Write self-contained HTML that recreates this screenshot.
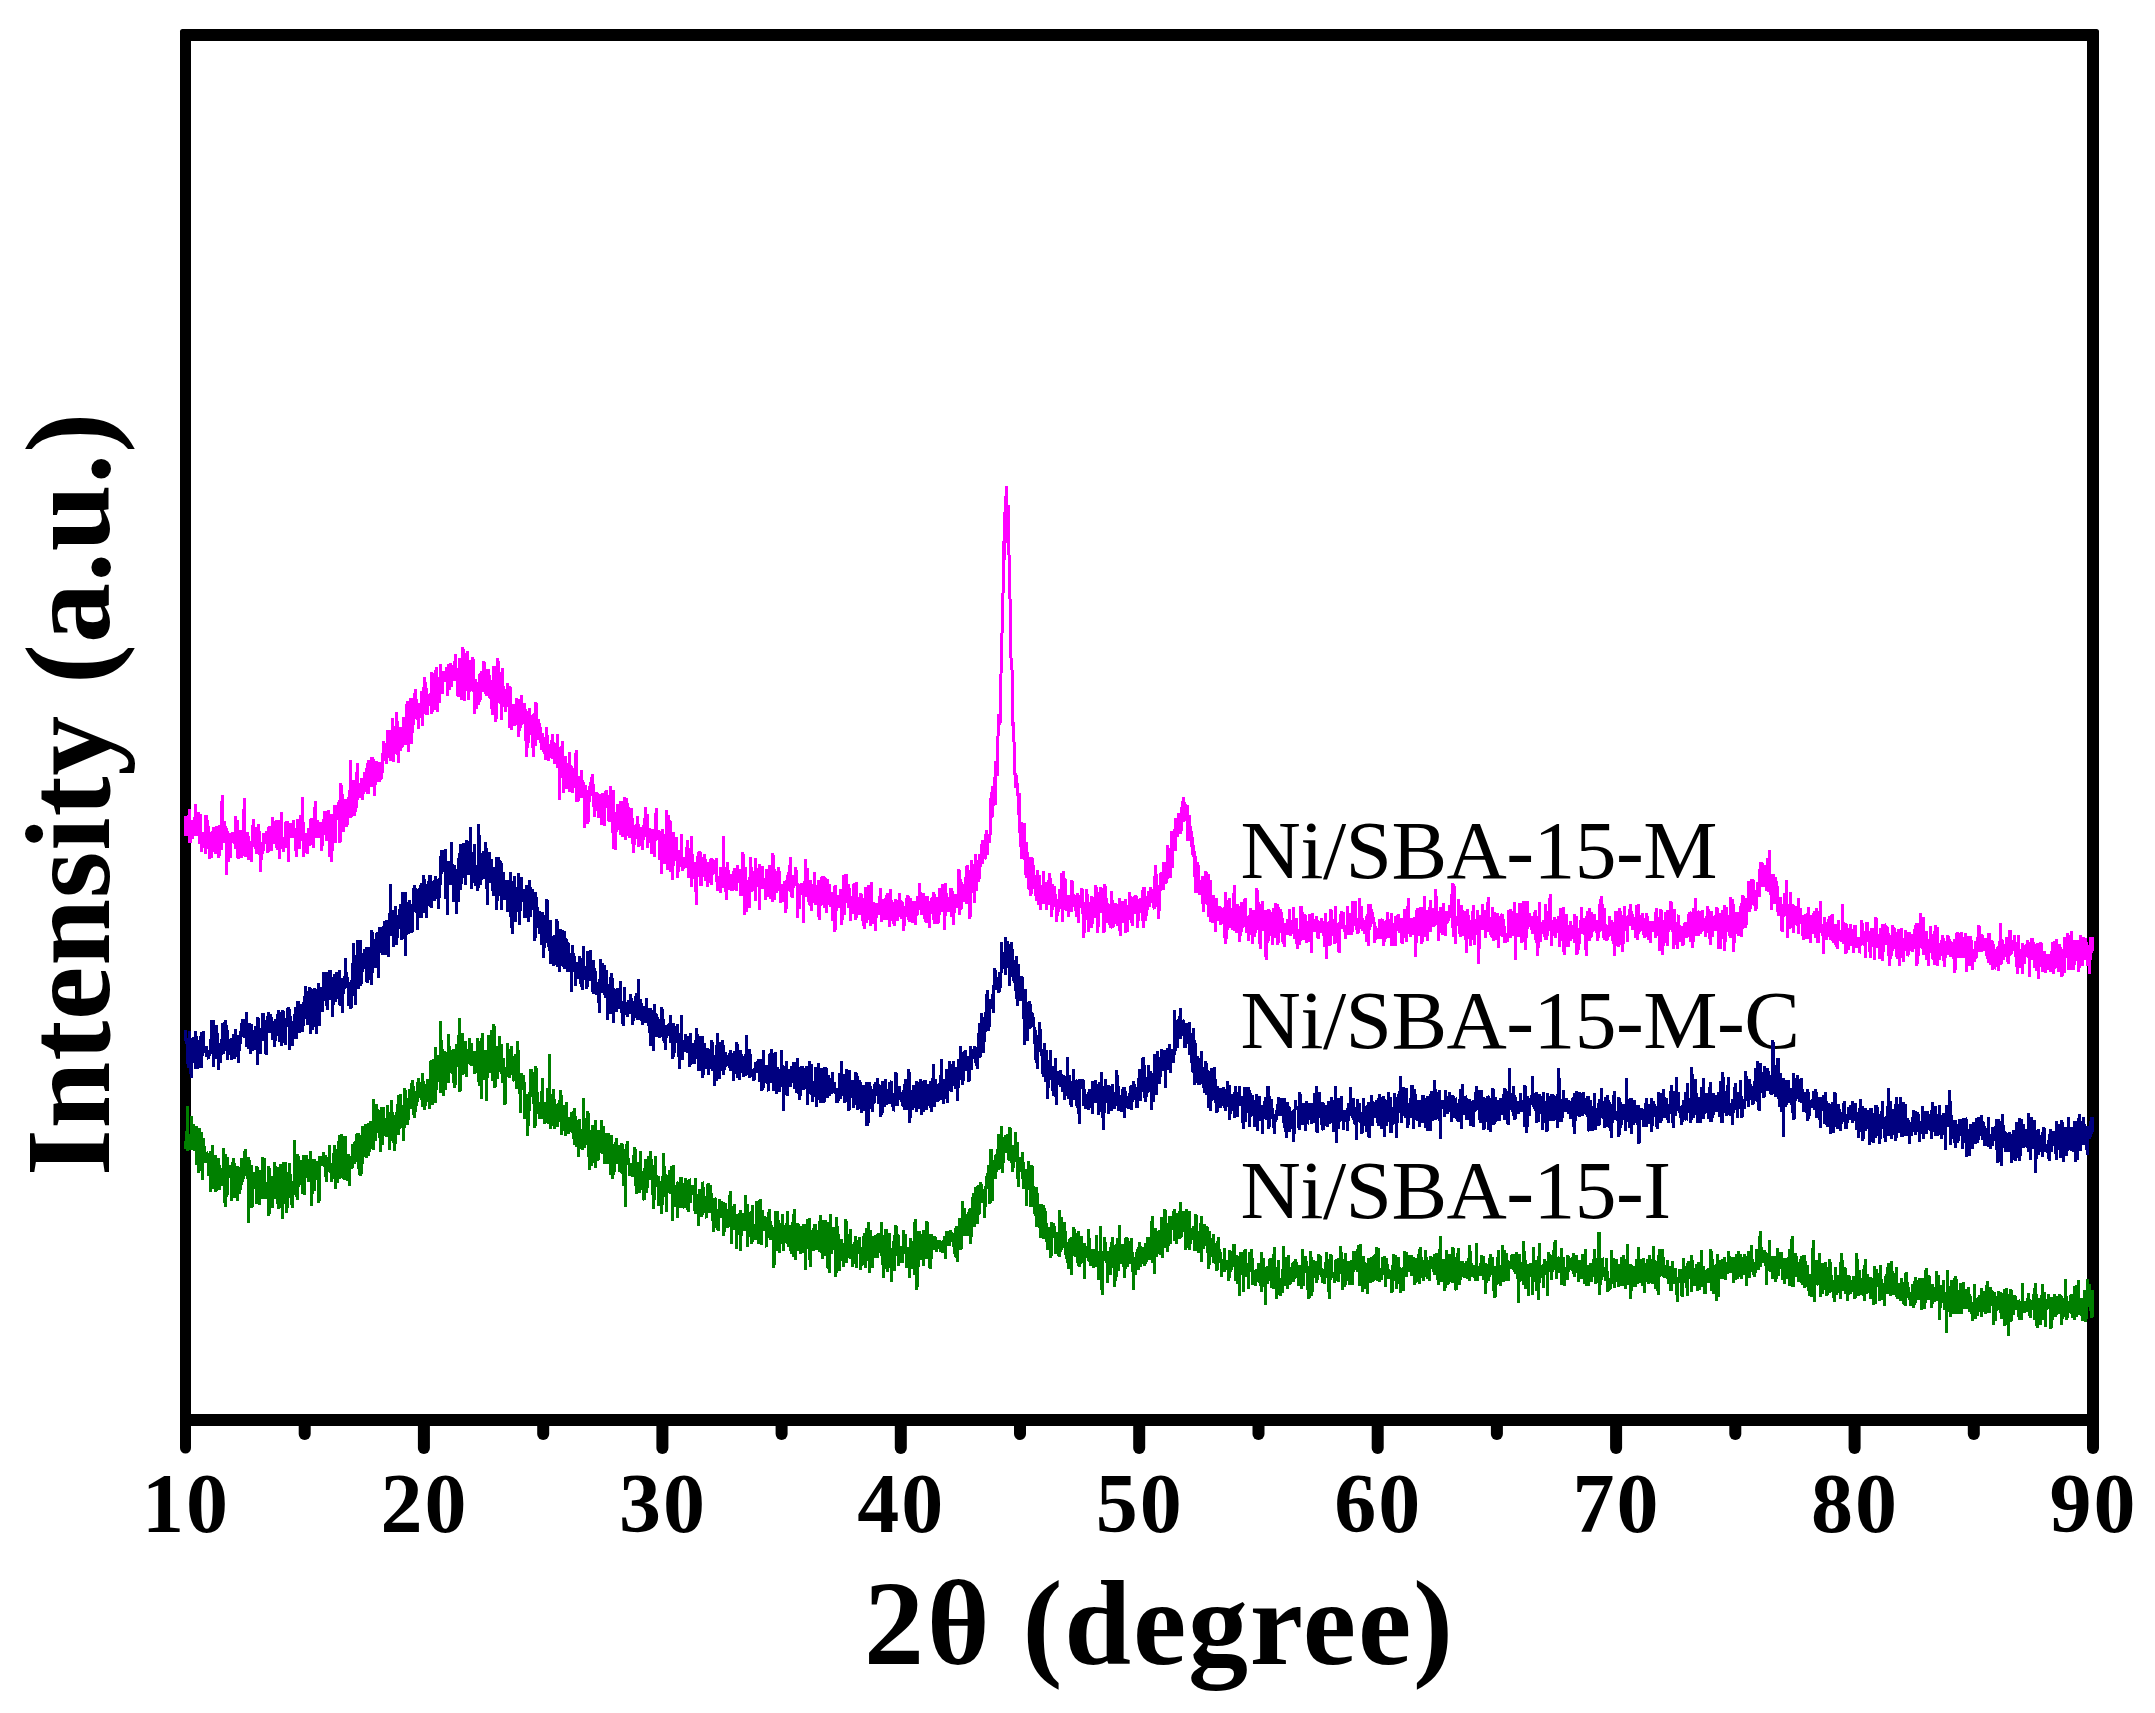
<!DOCTYPE html>
<html><head><meta charset="utf-8"><title>XRD</title>
<style>
html,body{margin:0;padding:0;background:#fff;overflow:hidden;}
svg{display:block;}
.b{font-family:"Liberation Serif",serif;font-weight:bold;fill:#000;}
.r{font-family:"Liberation Serif",serif;font-weight:normal;fill:#000;}
</style></head><body>
<svg width="2155" height="1713" viewBox="0 0 2155 1713">
<rect x="0" y="0" width="2155" height="1713" fill="#fff"/>
<rect x="180" y="29" width="1919" height="1397" rx="2.5" fill="#000"/>
<rect x="191" y="41" width="1896" height="1373" fill="#fff"/>
<g class="r" font-size="83.5" letter-spacing="-0.55">
<text x="1240.5" y="878">Ni/SBA-15-M</text>
<text x="1240.5" y="1048">Ni/SBA-15-M-C</text>
<text x="1240.5" y="1218">Ni/SBA-15-I</text>
</g>
<g stroke="#000" stroke-width="12" stroke-linecap="round">
<line x1="185.5" y1="1420" x2="185.5" y2="1448" stroke-width="11"/>
<line x1="304.7" y1="1420" x2="304.7" y2="1434"/>
<line x1="423.9" y1="1420" x2="423.9" y2="1448"/>
<line x1="543.2" y1="1420" x2="543.2" y2="1434"/>
<line x1="662.4" y1="1420" x2="662.4" y2="1448"/>
<line x1="781.6" y1="1420" x2="781.6" y2="1434"/>
<line x1="900.8" y1="1420" x2="900.8" y2="1448"/>
<line x1="1020.0" y1="1420" x2="1020.0" y2="1434"/>
<line x1="1139.2" y1="1420" x2="1139.2" y2="1448"/>
<line x1="1258.5" y1="1420" x2="1258.5" y2="1434"/>
<line x1="1377.7" y1="1420" x2="1377.7" y2="1448"/>
<line x1="1496.9" y1="1420" x2="1496.9" y2="1434"/>
<line x1="1616.1" y1="1420" x2="1616.1" y2="1448"/>
<line x1="1735.3" y1="1420" x2="1735.3" y2="1434"/>
<line x1="1854.6" y1="1420" x2="1854.6" y2="1448"/>
<line x1="1973.8" y1="1420" x2="1973.8" y2="1434"/>
<line x1="2093.0" y1="1420" x2="2093.0" y2="1448"/>
</g>
<g fill="none" stroke-width="3" stroke-linejoin="miter" stroke-miterlimit="2" shape-rendering="crispEdges">
<polyline stroke="#008000" points="185.5,1149 186.0,1141 186.5,1135 186.9,1138 187.4,1106 187.9,1151 188.4,1140 188.8,1137 189.3,1150 189.8,1142 190.3,1140 190.7,1134 191.2,1144 191.7,1116 192.2,1150 192.7,1141 193.1,1124 193.6,1142 194.1,1151 194.6,1127 195.0,1131 195.5,1144 196.0,1126 196.5,1133 196.9,1165 197.4,1159 197.9,1146 198.4,1137 198.9,1173 199.3,1128 199.8,1150 200.3,1171 200.8,1166 201.2,1169 201.7,1132 202.2,1180 202.7,1159 203.1,1138 203.6,1159 204.1,1154 204.6,1146 205.1,1163 205.5,1160 206.0,1157 206.5,1152 207.0,1153 207.4,1156 207.9,1159 208.4,1155 208.9,1176 209.3,1162 209.8,1161 210.3,1192 210.8,1151 211.3,1157 211.7,1171 212.2,1145 212.7,1189 213.2,1170 213.6,1185 214.1,1164 214.6,1161 215.1,1178 215.5,1155 216.0,1192 216.5,1160 217.0,1174 217.5,1184 217.9,1167 218.4,1162 218.9,1158 219.4,1190 219.8,1165 220.3,1173 220.8,1173 221.3,1182 221.7,1170 222.2,1177 222.7,1186 223.2,1177 223.7,1148 224.1,1177 224.6,1185 225.1,1207 225.6,1154 226.0,1181 226.5,1180 227.0,1197 227.5,1157 227.9,1174 228.4,1166 228.9,1178 229.4,1170 229.8,1175 230.3,1165 230.8,1174 231.3,1175 231.8,1201 232.2,1195 232.7,1168 233.2,1158 233.7,1179 234.1,1177 234.6,1163 235.1,1186 235.6,1170 236.0,1198 236.5,1173 237.0,1194 237.5,1201 238.0,1166 238.4,1183 238.9,1180 239.4,1171 239.9,1194 240.3,1180 240.8,1184 241.3,1158 241.8,1185 242.2,1180 242.7,1181 243.2,1176 243.7,1179 244.2,1171 244.6,1163 245.1,1149 245.6,1156 246.1,1173 246.5,1176 247.0,1159 247.5,1179 248.0,1176 248.4,1223 248.9,1157 249.4,1169 249.9,1182 250.4,1187 250.8,1185 251.3,1165 251.8,1208 252.3,1206 252.7,1172 253.2,1177 253.7,1172 254.2,1182 254.6,1188 255.1,1182 255.6,1179 256.1,1191 256.6,1204 257.0,1166 257.5,1190 258.0,1179 258.5,1204 258.9,1180 259.4,1205 259.9,1186 260.4,1170 260.8,1199 261.3,1181 261.8,1183 262.3,1192 262.8,1157 263.2,1176 263.7,1199 264.2,1190 264.7,1158 265.1,1189 265.6,1193 266.1,1199 266.6,1189 267.0,1188 267.5,1194 268.0,1185 268.5,1216 269.0,1166 269.4,1193 269.9,1214 270.4,1178 270.9,1178 271.3,1182 271.8,1176 272.3,1206 272.8,1208 273.2,1191 273.7,1193 274.2,1199 274.7,1162 275.2,1169 275.6,1184 276.1,1183 276.6,1188 277.1,1187 277.5,1167 278.0,1204 278.5,1190 279.0,1209 279.4,1193 279.9,1181 280.4,1195 280.9,1164 281.4,1195 281.8,1202 282.3,1174 282.8,1219 283.3,1166 283.7,1162 284.2,1199 284.7,1190 285.2,1191 285.6,1162 286.1,1213 286.6,1177 287.1,1208 287.6,1172 288.0,1177 288.5,1198 289.0,1185 289.5,1163 289.9,1189 290.4,1177 290.9,1174 291.4,1205 291.8,1201 292.3,1208 292.8,1198 293.3,1184 293.8,1183 294.2,1180 294.7,1140 295.2,1186 295.7,1190 296.1,1196 296.6,1179 297.1,1200 297.6,1190 298.0,1154 298.5,1187 299.0,1179 299.5,1177 299.9,1177 300.4,1185 300.9,1180 301.4,1177 301.9,1160 302.3,1194 302.8,1174 303.3,1176 303.8,1155 304.2,1195 304.7,1189 305.2,1155 305.7,1174 306.1,1155 306.6,1177 307.1,1159 307.6,1169 308.1,1180 308.5,1182 309.0,1171 309.5,1178 310.0,1176 310.4,1151 310.9,1157 311.4,1206 311.9,1173 312.3,1180 312.8,1194 313.3,1179 313.8,1159 314.3,1191 314.7,1159 315.2,1165 315.7,1173 316.2,1161 316.6,1164 317.1,1180 317.6,1161 318.1,1183 318.5,1180 319.0,1203 319.5,1157 320.0,1157 320.5,1161 320.9,1164 321.4,1159 321.9,1165 322.4,1156 322.8,1166 323.3,1152 323.8,1157 324.3,1167 324.7,1157 325.2,1155 325.7,1168 326.2,1182 326.7,1178 327.1,1157 327.6,1170 328.1,1169 328.6,1170 329.0,1170 329.5,1145 330.0,1171 330.5,1173 330.9,1163 331.4,1182 331.9,1168 332.4,1163 332.9,1179 333.3,1153 333.8,1171 334.3,1145 334.8,1166 335.2,1154 335.7,1189 336.2,1178 336.7,1149 337.1,1167 337.6,1183 338.1,1159 338.6,1167 339.1,1135 339.5,1170 340.0,1179 340.5,1156 341.0,1173 341.4,1160 341.9,1134 342.4,1144 342.9,1158 343.3,1179 343.8,1157 344.3,1147 344.8,1180 345.3,1136 345.7,1162 346.2,1163 346.7,1156 347.2,1176 347.6,1181 348.1,1159 348.6,1154 349.1,1186 349.5,1177 350.0,1164 350.5,1156 351.0,1163 351.5,1159 351.9,1169 352.4,1163 352.9,1144 353.4,1145 353.8,1155 354.3,1164 354.8,1142 355.3,1162 355.7,1153 356.2,1134 356.7,1147 357.2,1133 357.7,1157 358.1,1133 358.6,1141 359.1,1175 359.6,1154 360.0,1157 360.5,1137 361.0,1176 361.5,1135 361.9,1162 362.4,1126 362.9,1164 363.4,1135 363.9,1154 364.3,1147 364.8,1152 365.3,1124 365.8,1138 366.2,1158 366.7,1141 367.2,1151 367.7,1136 368.1,1123 368.6,1156 369.1,1151 369.6,1140 370.1,1121 370.5,1140 371.0,1142 371.5,1135 372.0,1132 372.4,1149 372.9,1126 373.4,1150 373.9,1099 374.3,1139 374.8,1119 375.3,1141 375.8,1112 376.2,1104 376.7,1116 377.2,1129 377.7,1127 378.2,1133 378.6,1111 379.1,1110 379.6,1138 380.1,1136 380.5,1152 381.0,1124 381.5,1107 382.0,1128 382.4,1114 382.9,1145 383.4,1107 383.9,1117 384.4,1129 384.8,1133 385.3,1130 385.8,1133 386.3,1137 386.7,1118 387.2,1125 387.7,1105 388.2,1117 388.6,1129 389.1,1137 389.6,1150 390.1,1113 390.6,1113 391.0,1127 391.5,1100 392.0,1125 392.5,1141 392.9,1112 393.4,1135 393.9,1141 394.4,1151 394.8,1115 395.3,1144 395.8,1120 396.3,1126 396.8,1115 397.2,1109 397.7,1121 398.2,1095 398.7,1135 399.1,1127 399.6,1125 400.1,1094 400.6,1128 401.0,1122 401.5,1119 402.0,1127 402.5,1105 403.0,1109 403.4,1116 403.9,1141 404.4,1088 404.9,1107 405.3,1114 405.8,1090 406.3,1108 406.8,1105 407.2,1125 407.7,1106 408.2,1100 408.7,1120 409.2,1102 409.6,1089 410.1,1109 410.6,1104 411.1,1109 411.5,1097 412.0,1083 412.5,1080 413.0,1101 413.4,1115 413.9,1086 414.4,1108 414.9,1118 415.4,1093 415.8,1109 416.3,1103 416.8,1096 417.3,1102 417.7,1090 418.2,1078 418.7,1087 419.2,1095 419.6,1098 420.1,1083 420.6,1090 421.1,1082 421.6,1100 422.0,1099 422.5,1073 423.0,1107 423.5,1081 423.9,1098 424.4,1104 424.9,1110 425.4,1093 425.8,1084 426.3,1087 426.8,1088 427.3,1079 427.8,1090 428.2,1102 428.7,1080 429.2,1109 429.7,1081 430.1,1095 430.6,1069 431.1,1060 431.6,1069 432.0,1084 432.5,1105 433.0,1068 433.5,1059 434.0,1062 434.4,1093 434.9,1074 435.4,1047 435.9,1103 436.3,1060 436.8,1076 437.3,1055 437.8,1077 438.2,1076 438.7,1060 439.2,1071 439.7,1063 440.2,1093 440.6,1021 441.1,1044 441.6,1090 442.1,1066 442.5,1066 443.0,1049 443.5,1096 444.0,1051 444.4,1064 444.9,1068 445.4,1090 445.9,1076 446.4,1060 446.8,1068 447.3,1054 447.8,1053 448.3,1083 448.7,1034 449.2,1052 449.7,1072 450.2,1068 450.6,1050 451.1,1071 451.6,1068 452.1,1074 452.6,1055 453.0,1067 453.5,1083 454.0,1049 454.5,1061 454.9,1088 455.4,1076 455.9,1060 456.4,1044 456.8,1057 457.3,1057 457.8,1067 458.3,1066 458.7,1065 459.2,1018 459.7,1092 460.2,1089 460.7,1091 461.1,1060 461.6,1039 462.1,1033 462.6,1046 463.0,1075 463.5,1053 464.0,1044 464.5,1061 464.9,1057 465.4,1055 465.9,1041 466.4,1077 466.9,1059 467.3,1064 467.8,1056 468.3,1054 468.8,1056 469.2,1059 469.7,1038 470.2,1065 470.7,1050 471.1,1043 471.6,1066 472.1,1058 472.6,1059 473.1,1052 473.5,1052 474.0,1051 474.5,1060 475.0,1074 475.4,1056 475.9,1073 476.4,1052 476.9,1052 477.3,1049 477.8,1038 478.3,1045 478.8,1078 479.3,1086 479.7,1061 480.2,1077 480.7,1073 481.2,1038 481.6,1099 482.1,1033 482.6,1073 483.1,1080 483.5,1070 484.0,1074 484.5,1074 485.0,1059 485.5,1052 485.9,1050 486.4,1101 486.9,1075 487.4,1078 487.8,1064 488.3,1073 488.8,1035 489.3,1050 489.7,1044 490.2,1070 490.7,1063 491.2,1030 491.7,1042 492.1,1081 492.6,1063 493.1,1068 493.6,1070 494.0,1024 494.5,1068 495.0,1088 495.5,1065 495.9,1080 496.4,1061 496.9,1051 497.4,1046 497.9,1079 498.3,1052 498.8,1065 499.3,1063 499.8,1036 500.2,1063 500.7,1072 501.2,1044 501.7,1072 502.1,1075 502.6,1083 503.1,1058 503.6,1066 504.1,1084 504.5,1098 505.0,1105 505.5,1085 506.0,1068 506.4,1068 506.9,1077 507.4,1043 507.9,1051 508.3,1076 508.8,1063 509.3,1057 509.8,1078 510.3,1055 510.7,1055 511.2,1046 511.7,1075 512.2,1056 512.6,1074 513.1,1072 513.6,1080 514.1,1081 514.5,1079 515.0,1072 515.5,1055 516.0,1055 516.5,1089 516.9,1066 517.4,1088 517.9,1041 518.4,1081 518.8,1083 519.3,1077 519.8,1081 520.3,1113 520.7,1087 521.2,1073 521.7,1089 522.2,1080 522.7,1090 523.1,1076 523.6,1075 524.1,1083 524.6,1108 525.0,1119 525.5,1094 526.0,1111 526.5,1116 526.9,1095 527.4,1106 527.9,1136 528.4,1094 528.9,1114 529.3,1103 529.8,1109 530.3,1069 530.8,1083 531.2,1097 531.7,1069 532.2,1090 532.7,1072 533.1,1091 533.6,1102 534.1,1104 534.6,1092 535.0,1128 535.5,1092 536.0,1066 536.5,1104 537.0,1112 537.4,1092 537.9,1114 538.4,1102 538.9,1105 539.3,1119 539.8,1110 540.3,1118 540.8,1110 541.2,1117 541.7,1115 542.2,1078 542.7,1119 543.2,1102 543.6,1106 544.1,1102 544.6,1124 545.1,1118 545.5,1123 546.0,1107 546.5,1114 547.0,1105 547.4,1103 547.9,1088 548.4,1099 548.9,1124 549.4,1054 549.8,1086 550.3,1129 550.8,1094 551.3,1118 551.7,1126 552.2,1102 552.7,1113 553.2,1089 553.6,1110 554.1,1099 554.6,1129 555.1,1109 555.6,1117 556.0,1104 556.5,1125 557.0,1107 557.5,1114 557.9,1127 558.4,1103 558.9,1113 559.4,1100 559.8,1118 560.3,1098 560.8,1090 561.3,1101 561.8,1135 562.2,1117 562.7,1114 563.2,1124 563.7,1128 564.1,1121 564.6,1105 565.1,1136 565.6,1122 566.0,1130 566.5,1102 567.0,1119 567.5,1124 568.0,1118 568.4,1132 568.9,1134 569.4,1123 569.9,1117 570.3,1128 570.8,1126 571.3,1112 571.8,1132 572.2,1129 572.7,1123 573.2,1139 573.7,1116 574.2,1108 574.6,1145 575.1,1143 575.6,1116 576.1,1144 576.5,1120 577.0,1147 577.5,1133 578.0,1124 578.4,1157 578.9,1127 579.4,1119 579.9,1125 580.4,1145 580.8,1129 581.3,1149 581.8,1148 582.3,1143 582.7,1150 583.2,1118 583.7,1098 584.2,1129 584.6,1148 585.1,1124 585.6,1144 586.1,1141 586.6,1130 587.0,1127 587.5,1145 588.0,1111 588.5,1157 588.9,1144 589.4,1170 589.9,1150 590.4,1130 590.8,1152 591.3,1146 591.8,1166 592.3,1125 592.8,1150 593.2,1138 593.7,1157 594.2,1135 594.7,1146 595.1,1168 595.6,1120 596.1,1137 596.6,1139 597.0,1154 597.5,1160 598.0,1161 598.5,1136 599.0,1130 599.4,1135 599.9,1142 600.4,1140 600.9,1153 601.3,1146 601.8,1120 602.3,1154 602.8,1149 603.2,1126 603.7,1130 604.2,1164 604.7,1155 605.1,1154 605.6,1151 606.1,1164 606.6,1133 607.1,1164 607.5,1140 608.0,1133 608.5,1141 609.0,1147 609.4,1157 609.9,1158 610.4,1154 610.9,1175 611.3,1168 611.8,1135 612.3,1155 612.8,1179 613.3,1170 613.7,1147 614.2,1167 614.7,1172 615.2,1158 615.6,1158 616.1,1138 616.6,1149 617.1,1164 617.5,1151 618.0,1154 618.5,1145 619.0,1156 619.5,1155 619.9,1172 620.4,1148 620.9,1162 621.4,1173 621.8,1143 622.3,1145 622.8,1172 623.3,1172 623.7,1186 624.2,1149 624.7,1160 625.2,1161 625.7,1207 626.1,1150 626.6,1158 627.1,1141 627.6,1150 628.0,1165 628.5,1158 629.0,1164 629.5,1165 629.9,1176 630.4,1163 630.9,1166 631.4,1173 631.9,1171 632.3,1177 632.8,1171 633.3,1172 633.8,1163 634.2,1147 634.7,1175 635.2,1149 635.7,1159 636.1,1194 636.6,1168 637.1,1170 637.6,1177 638.1,1162 638.5,1173 639.0,1181 639.5,1177 640.0,1193 640.4,1151 640.9,1172 641.4,1184 641.9,1189 642.3,1188 642.8,1171 643.3,1173 643.8,1199 644.3,1200 644.7,1184 645.2,1159 645.7,1168 646.2,1193 646.6,1169 647.1,1173 647.6,1188 648.1,1176 648.5,1177 649.0,1156 649.5,1166 650.0,1180 650.5,1151 650.9,1162 651.4,1161 651.9,1159 652.4,1185 652.8,1184 653.3,1209 653.8,1188 654.3,1194 654.7,1200 655.2,1156 655.7,1173 656.2,1176 656.7,1180 657.1,1187 657.6,1178 658.1,1177 658.6,1177 659.0,1206 659.5,1204 660.0,1181 660.5,1189 660.9,1188 661.4,1196 661.9,1214 662.4,1177 662.9,1177 663.3,1176 663.8,1153 664.3,1185 664.8,1193 665.2,1197 665.7,1174 666.2,1178 666.7,1212 667.1,1175 667.6,1191 668.1,1191 668.6,1176 669.1,1190 669.5,1192 670.0,1170 670.5,1194 671.0,1189 671.4,1166 671.9,1182 672.4,1187 672.9,1221 673.3,1165 673.8,1198 674.3,1207 674.8,1190 675.3,1188 675.7,1185 676.2,1207 676.7,1188 677.2,1218 677.6,1183 678.1,1182 678.6,1190 679.1,1203 679.5,1189 680.0,1201 680.5,1208 681.0,1177 681.5,1184 681.9,1187 682.4,1192 682.9,1184 683.4,1185 683.8,1207 684.3,1208 684.8,1190 685.3,1199 685.7,1178 686.2,1181 686.7,1197 687.2,1196 687.6,1200 688.1,1212 688.6,1190 689.1,1179 689.6,1180 690.0,1198 690.5,1203 691.0,1193 691.5,1188 691.9,1192 692.4,1185 692.9,1195 693.4,1185 693.8,1187 694.3,1188 694.8,1211 695.3,1178 695.8,1214 696.2,1202 696.7,1214 697.2,1194 697.7,1207 698.1,1196 698.6,1226 699.1,1189 699.6,1212 700.0,1197 700.5,1203 701.0,1207 701.5,1194 702.0,1217 702.4,1182 702.9,1183 703.4,1202 703.9,1210 704.3,1213 704.8,1205 705.3,1206 705.8,1206 706.2,1217 706.7,1218 707.2,1184 707.7,1201 708.2,1183 708.6,1206 709.1,1213 709.6,1194 710.1,1185 710.5,1213 711.0,1192 711.5,1211 712.0,1199 712.4,1216 712.9,1221 713.4,1214 713.9,1232 714.4,1205 714.8,1198 715.3,1199 715.8,1228 716.3,1211 716.7,1209 717.2,1230 717.7,1211 718.2,1215 718.6,1231 719.1,1207 719.6,1199 720.1,1216 720.6,1218 721.0,1202 721.5,1202 722.0,1210 722.5,1218 722.9,1212 723.4,1202 723.9,1236 724.4,1214 724.8,1232 725.3,1203 725.8,1208 726.3,1210 726.8,1218 727.2,1228 727.7,1209 728.2,1220 728.7,1212 729.1,1222 729.6,1213 730.1,1191 730.6,1220 731.0,1227 731.5,1244 732.0,1217 732.5,1225 733.0,1206 733.4,1226 733.9,1220 734.4,1204 734.9,1230 735.3,1227 735.8,1224 736.3,1224 736.8,1249 737.2,1214 737.7,1235 738.2,1221 738.7,1216 739.2,1221 739.6,1227 740.1,1210 740.6,1251 741.1,1219 741.5,1236 742.0,1228 742.5,1213 743.0,1223 743.4,1218 743.9,1215 744.4,1231 744.9,1225 745.4,1195 745.8,1225 746.3,1217 746.8,1213 747.3,1204 747.7,1247 748.2,1220 748.7,1227 749.2,1212 749.6,1213 750.1,1213 750.6,1237 751.1,1217 751.6,1236 752.0,1244 752.5,1205 753.0,1234 753.5,1239 753.9,1224 754.4,1227 754.9,1225 755.4,1240 755.8,1233 756.3,1225 756.8,1201 757.3,1227 757.8,1222 758.2,1244 758.7,1229 759.2,1234 759.7,1206 760.1,1199 760.6,1232 761.1,1245 761.6,1230 762.0,1230 762.5,1210 763.0,1217 763.5,1222 763.9,1231 764.4,1229 764.9,1218 765.4,1217 765.9,1219 766.3,1246 766.8,1247 767.3,1226 767.8,1225 768.2,1220 768.7,1217 769.2,1209 769.7,1235 770.1,1221 770.6,1240 771.1,1225 771.6,1228 772.1,1237 772.5,1231 773.0,1227 773.5,1234 774.0,1268 774.4,1228 774.9,1249 775.4,1219 775.9,1211 776.3,1227 776.8,1232 777.3,1251 777.8,1211 778.3,1233 778.7,1249 779.2,1230 779.7,1253 780.2,1238 780.6,1227 781.1,1223 781.6,1228 782.1,1229 782.5,1214 783.0,1224 783.5,1251 784.0,1225 784.5,1239 784.9,1230 785.4,1233 785.9,1243 786.4,1223 786.8,1241 787.3,1211 787.8,1241 788.3,1247 788.7,1226 789.2,1237 789.7,1225 790.2,1241 790.7,1239 791.1,1254 791.6,1250 792.1,1253 792.6,1222 793.0,1226 793.5,1214 794.0,1257 794.5,1209 794.9,1247 795.4,1260 795.9,1226 796.4,1249 796.9,1227 797.3,1251 797.8,1223 798.3,1226 798.8,1232 799.2,1246 799.7,1232 800.2,1254 800.7,1251 801.1,1226 801.6,1242 802.1,1245 802.6,1253 803.1,1229 803.5,1243 804.0,1224 804.5,1228 805.0,1228 805.4,1270 805.9,1246 806.4,1229 806.9,1239 807.3,1239 807.8,1219 808.3,1249 808.8,1229 809.3,1218 809.7,1246 810.2,1267 810.7,1243 811.2,1246 811.6,1230 812.1,1246 812.6,1237 813.1,1241 813.5,1251 814.0,1228 814.5,1234 815.0,1224 815.5,1228 815.9,1243 816.4,1250 816.9,1233 817.4,1236 817.8,1237 818.3,1230 818.8,1246 819.3,1252 819.7,1232 820.2,1215 820.7,1252 821.2,1239 821.7,1233 822.1,1259 822.6,1235 823.1,1252 823.6,1220 824.0,1228 824.5,1256 825.0,1251 825.5,1220 825.9,1231 826.4,1241 826.9,1239 827.4,1227 827.9,1267 828.3,1269 828.8,1222 829.3,1273 829.8,1254 830.2,1214 830.7,1234 831.2,1254 831.7,1233 832.1,1239 832.6,1232 833.1,1243 833.6,1227 834.0,1230 834.5,1233 835.0,1250 835.5,1252 836.0,1277 836.4,1217 836.9,1236 837.4,1256 837.9,1226 838.3,1254 838.8,1245 839.3,1265 839.8,1271 840.2,1242 840.7,1261 841.2,1239 841.7,1243 842.2,1245 842.6,1252 843.1,1252 843.6,1267 844.1,1243 844.5,1246 845.0,1258 845.5,1243 846.0,1219 846.4,1246 846.9,1263 847.4,1236 847.9,1234 848.4,1255 848.8,1258 849.3,1257 849.8,1252 850.3,1229 850.7,1236 851.2,1258 851.7,1244 852.2,1267 852.6,1250 853.1,1248 853.6,1256 854.1,1242 854.6,1245 855.0,1242 855.5,1236 856.0,1264 856.5,1268 856.9,1244 857.4,1244 857.9,1247 858.4,1245 858.8,1242 859.3,1237 859.8,1252 860.3,1256 860.8,1270 861.2,1247 861.7,1266 862.2,1263 862.7,1265 863.1,1244 863.6,1252 864.1,1233 864.6,1259 865.0,1249 865.5,1268 866.0,1239 866.5,1228 867.0,1247 867.4,1261 867.9,1246 868.4,1222 868.9,1250 869.3,1258 869.8,1273 870.3,1248 870.8,1230 871.2,1245 871.7,1248 872.2,1268 872.7,1236 873.2,1242 873.6,1246 874.1,1258 874.6,1254 875.1,1235 875.5,1236 876.0,1256 876.5,1246 877.0,1254 877.4,1258 877.9,1249 878.4,1252 878.9,1233 879.4,1252 879.8,1245 880.3,1250 880.8,1250 881.3,1256 881.7,1222 882.2,1249 882.7,1265 883.2,1260 883.6,1278 884.1,1262 884.6,1235 885.1,1255 885.6,1269 886.0,1229 886.5,1241 887.0,1255 887.5,1237 887.9,1272 888.4,1255 888.9,1246 889.4,1233 889.8,1255 890.3,1258 890.8,1259 891.3,1248 891.8,1282 892.2,1254 892.7,1257 893.2,1246 893.7,1263 894.1,1235 894.6,1271 895.1,1247 895.6,1245 896.0,1225 896.5,1251 897.0,1254 897.5,1256 898.0,1234 898.4,1250 898.9,1266 899.4,1253 899.9,1259 900.3,1246 900.8,1262 901.3,1247 901.8,1247 902.2,1263 902.7,1250 903.2,1251 903.7,1230 904.2,1251 904.6,1254 905.1,1240 905.6,1234 906.1,1251 906.5,1268 907.0,1251 907.5,1268 908.0,1262 908.4,1247 908.9,1254 909.4,1257 909.9,1278 910.4,1238 910.8,1258 911.3,1269 911.8,1264 912.3,1241 912.7,1255 913.2,1268 913.7,1244 914.2,1275 914.6,1235 915.1,1219 915.6,1242 916.1,1260 916.5,1238 917.0,1290 917.5,1231 918.0,1268 918.5,1255 918.9,1259 919.4,1238 919.9,1231 920.4,1246 920.8,1260 921.3,1239 921.8,1250 922.3,1247 922.7,1250 923.2,1266 923.7,1230 924.2,1255 924.7,1248 925.1,1252 925.6,1247 926.1,1255 926.6,1259 927.0,1221 927.5,1239 928.0,1250 928.5,1236 928.9,1254 929.4,1268 929.9,1245 930.4,1269 930.9,1234 931.3,1259 931.8,1234 932.3,1244 932.8,1244 933.2,1241 933.7,1250 934.2,1236 934.7,1243 935.1,1244 935.6,1237 936.1,1247 936.6,1252 937.1,1247 937.5,1245 938.0,1242 938.5,1249 939.0,1240 939.4,1246 939.9,1248 940.4,1252 940.9,1246 941.3,1245 941.8,1241 942.3,1251 942.8,1252 943.3,1251 943.7,1248 944.2,1236 944.7,1247 945.2,1246 945.6,1259 946.1,1233 946.6,1234 947.1,1231 947.5,1245 948.0,1231 948.5,1240 949.0,1246 949.5,1242 949.9,1239 950.4,1232 950.9,1230 951.4,1242 951.8,1232 952.3,1234 952.8,1234 953.3,1244 953.7,1241 954.2,1250 954.7,1250 955.2,1257 955.7,1228 956.1,1258 956.6,1226 957.1,1262 957.6,1229 958.0,1232 958.5,1239 959.0,1240 959.5,1220 959.9,1218 960.4,1224 960.9,1250 961.4,1246 961.9,1226 962.3,1201 962.8,1222 963.3,1236 963.8,1230 964.2,1217 964.7,1208 965.2,1218 965.7,1234 966.1,1236 966.6,1225 967.1,1235 967.6,1234 968.1,1223 968.5,1233 969.0,1212 969.5,1216 970.0,1209 970.4,1208 970.9,1244 971.4,1214 971.9,1212 972.3,1206 972.8,1200 973.3,1193 973.8,1201 974.3,1204 974.7,1227 975.2,1203 975.7,1187 976.2,1188 976.6,1212 977.1,1191 977.6,1224 978.1,1210 978.5,1185 979.0,1215 979.5,1196 980.0,1193 980.5,1189 980.9,1182 981.4,1191 981.9,1203 982.4,1201 982.8,1197 983.3,1190 983.8,1190 984.3,1195 984.7,1218 985.2,1201 985.7,1187 986.2,1185 986.6,1189 987.1,1173 987.6,1175 988.1,1176 988.6,1180 989.0,1165 989.5,1176 990.0,1204 990.5,1175 990.9,1149 991.4,1166 991.9,1149 992.4,1201 992.8,1160 993.3,1165 993.8,1178 994.3,1167 994.8,1166 995.2,1179 995.7,1156 996.2,1154 996.7,1172 997.1,1149 997.6,1159 998.1,1162 998.6,1170 999.0,1134 999.5,1153 1000.0,1144 1000.5,1169 1001.0,1139 1001.4,1156 1001.9,1126 1002.4,1173 1002.9,1143 1003.3,1163 1003.8,1159 1004.3,1143 1004.8,1150 1005.2,1135 1005.7,1150 1006.2,1149 1006.7,1139 1007.2,1144 1007.6,1134 1008.1,1157 1008.6,1152 1009.1,1161 1009.5,1131 1010.0,1127 1010.5,1150 1011.0,1154 1011.4,1163 1011.9,1145 1012.4,1172 1012.9,1165 1013.4,1168 1013.8,1158 1014.3,1155 1014.8,1154 1015.3,1132 1015.7,1162 1016.2,1152 1016.7,1147 1017.2,1145 1017.6,1142 1018.1,1187 1018.6,1159 1019.1,1171 1019.6,1169 1020.0,1166 1020.5,1166 1021.0,1157 1021.5,1158 1021.9,1172 1022.4,1152 1022.9,1176 1023.4,1189 1023.8,1162 1024.3,1185 1024.8,1179 1025.3,1174 1025.8,1169 1026.2,1206 1026.7,1191 1027.2,1184 1027.7,1187 1028.1,1169 1028.6,1161 1029.1,1190 1029.6,1188 1030.0,1184 1030.5,1207 1031.0,1184 1031.5,1207 1032.0,1165 1032.4,1183 1032.9,1187 1033.4,1187 1033.9,1191 1034.3,1191 1034.8,1214 1035.3,1196 1035.8,1216 1036.2,1187 1036.7,1227 1037.2,1206 1037.7,1193 1038.2,1224 1038.6,1204 1039.1,1206 1039.6,1228 1040.1,1209 1040.5,1207 1041.0,1238 1041.5,1204 1042.0,1207 1042.4,1235 1042.9,1225 1043.4,1205 1043.9,1239 1044.4,1218 1044.8,1208 1045.3,1216 1045.8,1219 1046.3,1229 1046.7,1227 1047.2,1250 1047.7,1231 1048.2,1227 1048.6,1244 1049.1,1234 1049.6,1227 1050.1,1251 1050.6,1238 1051.0,1258 1051.5,1222 1052.0,1224 1052.5,1233 1052.9,1226 1053.4,1230 1053.9,1223 1054.4,1234 1054.8,1235 1055.3,1243 1055.8,1254 1056.3,1243 1056.8,1232 1057.2,1246 1057.7,1247 1058.2,1248 1058.7,1254 1059.1,1257 1059.6,1210 1060.1,1241 1060.6,1236 1061.0,1252 1061.5,1217 1062.0,1236 1062.5,1248 1062.9,1236 1063.4,1236 1063.9,1245 1064.4,1247 1064.9,1222 1065.3,1255 1065.8,1244 1066.3,1251 1066.8,1255 1067.2,1263 1067.7,1242 1068.2,1262 1068.7,1269 1069.1,1239 1069.6,1243 1070.1,1246 1070.6,1241 1071.1,1237 1071.5,1275 1072.0,1248 1072.5,1241 1073.0,1248 1073.4,1244 1073.9,1227 1074.4,1237 1074.9,1256 1075.3,1252 1075.8,1257 1076.3,1242 1076.8,1239 1077.3,1233 1077.7,1258 1078.2,1266 1078.7,1231 1079.2,1267 1079.6,1253 1080.1,1262 1080.6,1262 1081.1,1236 1081.5,1246 1082.0,1261 1082.5,1251 1083.0,1254 1083.5,1258 1083.9,1258 1084.4,1279 1084.9,1243 1085.4,1257 1085.8,1255 1086.3,1256 1086.8,1256 1087.3,1250 1087.7,1249 1088.2,1261 1088.7,1229 1089.2,1243 1089.7,1245 1090.1,1266 1090.6,1256 1091.1,1254 1091.6,1249 1092.0,1260 1092.5,1260 1093.0,1258 1093.5,1268 1093.9,1263 1094.4,1249 1094.9,1254 1095.4,1263 1095.9,1267 1096.3,1235 1096.8,1250 1097.3,1252 1097.8,1263 1098.2,1261 1098.7,1280 1099.2,1255 1099.7,1257 1100.1,1271 1100.6,1226 1101.1,1258 1101.6,1267 1102.1,1295 1102.5,1277 1103.0,1253 1103.5,1252 1104.0,1253 1104.4,1261 1104.9,1237 1105.4,1256 1105.9,1254 1106.3,1261 1106.8,1263 1107.3,1251 1107.8,1283 1108.3,1262 1108.7,1259 1109.2,1263 1109.7,1263 1110.2,1275 1110.6,1247 1111.1,1259 1111.6,1254 1112.1,1240 1112.5,1237 1113.0,1259 1113.5,1268 1114.0,1265 1114.5,1258 1114.9,1287 1115.4,1260 1115.9,1246 1116.4,1245 1116.8,1277 1117.3,1250 1117.8,1238 1118.3,1258 1118.7,1271 1119.2,1225 1119.7,1241 1120.2,1253 1120.7,1249 1121.1,1264 1121.6,1255 1122.1,1263 1122.6,1244 1123.0,1251 1123.5,1267 1124.0,1261 1124.5,1278 1124.9,1269 1125.4,1267 1125.9,1239 1126.4,1237 1126.9,1255 1127.3,1267 1127.8,1238 1128.3,1264 1128.8,1258 1129.2,1241 1129.7,1250 1130.2,1264 1130.7,1259 1131.1,1238 1131.6,1257 1132.1,1252 1132.6,1272 1133.1,1257 1133.5,1290 1134.0,1274 1134.5,1267 1135.0,1273 1135.4,1275 1135.9,1264 1136.4,1257 1136.9,1253 1137.3,1251 1137.8,1250 1138.3,1247 1138.8,1270 1139.2,1242 1139.7,1255 1140.2,1267 1140.7,1246 1141.2,1264 1141.6,1252 1142.1,1247 1142.6,1252 1143.1,1254 1143.5,1261 1144.0,1251 1144.5,1264 1145.0,1264 1145.4,1258 1145.9,1243 1146.4,1255 1146.9,1262 1147.4,1237 1147.8,1242 1148.3,1257 1148.8,1252 1149.3,1260 1149.7,1253 1150.2,1237 1150.7,1253 1151.2,1250 1151.6,1242 1152.1,1216 1152.6,1263 1153.1,1260 1153.6,1237 1154.0,1256 1154.5,1274 1155.0,1240 1155.5,1246 1155.9,1228 1156.4,1244 1156.9,1257 1157.4,1242 1157.8,1234 1158.3,1241 1158.8,1241 1159.3,1230 1159.8,1244 1160.2,1250 1160.7,1255 1161.2,1240 1161.7,1217 1162.1,1258 1162.6,1255 1163.1,1245 1163.6,1230 1164.0,1225 1164.5,1248 1165.0,1209 1165.5,1238 1166.0,1225 1166.4,1223 1166.9,1241 1167.4,1236 1167.9,1252 1168.3,1232 1168.8,1245 1169.3,1216 1169.8,1238 1170.2,1244 1170.7,1220 1171.2,1230 1171.7,1228 1172.2,1224 1172.6,1216 1173.1,1224 1173.6,1223 1174.1,1209 1174.5,1241 1175.0,1225 1175.5,1238 1176.0,1235 1176.4,1244 1176.9,1220 1177.4,1221 1177.9,1213 1178.4,1237 1178.8,1225 1179.3,1239 1179.8,1218 1180.3,1202 1180.7,1238 1181.2,1236 1181.7,1227 1182.2,1232 1182.6,1218 1183.1,1228 1183.6,1214 1184.1,1211 1184.6,1227 1185.0,1218 1185.5,1223 1186.0,1250 1186.5,1209 1186.9,1223 1187.4,1227 1187.9,1229 1188.4,1219 1188.8,1229 1189.3,1211 1189.8,1250 1190.3,1237 1190.8,1242 1191.2,1231 1191.7,1233 1192.2,1230 1192.7,1234 1193.1,1226 1193.6,1236 1194.1,1241 1194.6,1251 1195.0,1249 1195.5,1249 1196.0,1214 1196.5,1237 1197.0,1234 1197.4,1232 1197.9,1243 1198.4,1253 1198.9,1235 1199.3,1249 1199.8,1231 1200.3,1238 1200.8,1230 1201.2,1216 1201.7,1262 1202.2,1225 1202.7,1236 1203.2,1248 1203.6,1249 1204.1,1224 1204.6,1232 1205.1,1239 1205.5,1237 1206.0,1244 1206.5,1226 1207.0,1246 1207.4,1253 1207.9,1227 1208.4,1269 1208.9,1267 1209.4,1256 1209.8,1231 1210.3,1257 1210.8,1239 1211.3,1252 1211.7,1252 1212.2,1252 1212.7,1245 1213.2,1234 1213.6,1263 1214.1,1255 1214.6,1246 1215.1,1260 1215.5,1243 1216.0,1264 1216.5,1260 1217.0,1271 1217.5,1241 1217.9,1263 1218.4,1237 1218.9,1253 1219.4,1249 1219.8,1256 1220.3,1260 1220.8,1252 1221.3,1277 1221.7,1259 1222.2,1270 1222.7,1264 1223.2,1259 1223.7,1272 1224.1,1271 1224.6,1248 1225.1,1265 1225.6,1267 1226.0,1270 1226.5,1261 1227.0,1264 1227.5,1260 1227.9,1267 1228.4,1277 1228.9,1281 1229.4,1268 1229.9,1250 1230.3,1254 1230.8,1272 1231.3,1268 1231.8,1267 1232.2,1266 1232.7,1263 1233.2,1261 1233.7,1244 1234.1,1252 1234.6,1244 1235.1,1263 1235.6,1281 1236.1,1267 1236.5,1255 1237.0,1263 1237.5,1277 1238.0,1284 1238.4,1265 1238.9,1269 1239.4,1296 1239.9,1258 1240.3,1252 1240.8,1264 1241.3,1266 1241.8,1252 1242.3,1275 1242.7,1264 1243.2,1252 1243.7,1292 1244.2,1261 1244.6,1257 1245.1,1249 1245.6,1265 1246.1,1263 1246.5,1274 1247.0,1277 1247.5,1267 1248.0,1269 1248.5,1289 1248.9,1265 1249.4,1257 1249.9,1252 1250.4,1260 1250.8,1272 1251.3,1249 1251.8,1262 1252.3,1258 1252.7,1285 1253.2,1275 1253.7,1276 1254.2,1272 1254.7,1282 1255.1,1270 1255.6,1286 1256.1,1275 1256.6,1275 1257.0,1269 1257.5,1280 1258.0,1280 1258.5,1271 1258.9,1263 1259.4,1276 1259.9,1283 1260.4,1279 1260.9,1284 1261.3,1292 1261.8,1252 1262.3,1282 1262.8,1267 1263.2,1280 1263.7,1258 1264.2,1287 1264.7,1278 1265.1,1276 1265.6,1305 1266.1,1267 1266.6,1269 1267.1,1284 1267.5,1266 1268.0,1271 1268.5,1269 1269.0,1274 1269.4,1259 1269.9,1281 1270.4,1258 1270.9,1263 1271.3,1288 1271.8,1285 1272.3,1272 1272.8,1262 1273.3,1289 1273.7,1265 1274.2,1247 1274.7,1276 1275.2,1272 1275.6,1267 1276.1,1288 1276.6,1299 1277.1,1278 1277.5,1280 1278.0,1279 1278.5,1260 1279.0,1280 1279.5,1278 1279.9,1295 1280.4,1281 1280.9,1296 1281.4,1281 1281.8,1282 1282.3,1293 1282.8,1273 1283.3,1264 1283.7,1246 1284.2,1276 1284.7,1286 1285.2,1279 1285.7,1258 1286.1,1258 1286.6,1284 1287.1,1270 1287.6,1289 1288.0,1260 1288.5,1255 1289.0,1274 1289.5,1282 1289.9,1285 1290.4,1276 1290.9,1284 1291.4,1271 1291.8,1267 1292.3,1278 1292.8,1263 1293.3,1282 1293.8,1264 1294.2,1261 1294.7,1279 1295.2,1274 1295.7,1259 1296.1,1278 1296.6,1262 1297.1,1271 1297.6,1277 1298.0,1267 1298.5,1286 1299.0,1265 1299.5,1282 1300.0,1279 1300.4,1270 1300.9,1273 1301.4,1267 1301.9,1289 1302.3,1249 1302.8,1269 1303.3,1286 1303.8,1266 1304.2,1262 1304.7,1260 1305.2,1256 1305.7,1273 1306.2,1267 1306.6,1261 1307.1,1272 1307.6,1290 1308.1,1266 1308.5,1272 1309.0,1299 1309.5,1270 1310.0,1277 1310.4,1273 1310.9,1251 1311.4,1276 1311.9,1296 1312.4,1279 1312.8,1289 1313.3,1261 1313.8,1261 1314.3,1274 1314.7,1278 1315.2,1261 1315.7,1265 1316.2,1283 1316.6,1280 1317.1,1274 1317.6,1280 1318.1,1264 1318.6,1273 1319.0,1254 1319.5,1275 1320.0,1256 1320.5,1267 1320.9,1265 1321.4,1277 1321.9,1272 1322.4,1275 1322.8,1283 1323.3,1271 1323.8,1278 1324.3,1284 1324.8,1278 1325.2,1262 1325.7,1267 1326.2,1272 1326.7,1252 1327.1,1278 1327.6,1259 1328.1,1266 1328.6,1292 1329.0,1282 1329.5,1299 1330.0,1281 1330.5,1270 1331.0,1254 1331.4,1272 1331.9,1276 1332.4,1273 1332.9,1275 1333.3,1278 1333.8,1272 1334.3,1274 1334.8,1283 1335.2,1279 1335.7,1263 1336.2,1259 1336.7,1276 1337.2,1272 1337.6,1270 1338.1,1282 1338.6,1258 1339.1,1260 1339.5,1274 1340.0,1259 1340.5,1246 1341.0,1271 1341.4,1271 1341.9,1252 1342.4,1290 1342.9,1259 1343.4,1271 1343.8,1278 1344.3,1263 1344.8,1287 1345.3,1282 1345.7,1253 1346.2,1281 1346.7,1269 1347.2,1281 1347.6,1274 1348.1,1261 1348.6,1264 1349.1,1264 1349.6,1285 1350.0,1269 1350.5,1284 1351.0,1261 1351.5,1261 1351.9,1262 1352.4,1285 1352.9,1279 1353.4,1251 1353.8,1269 1354.3,1261 1354.8,1259 1355.3,1266 1355.8,1270 1356.2,1251 1356.7,1264 1357.2,1272 1357.7,1261 1358.1,1245 1358.6,1271 1359.1,1254 1359.6,1286 1360.0,1281 1360.5,1244 1361.0,1277 1361.5,1260 1362.0,1258 1362.4,1267 1362.9,1292 1363.4,1258 1363.9,1256 1364.3,1277 1364.8,1266 1365.3,1263 1365.8,1289 1366.2,1271 1366.7,1266 1367.2,1294 1367.7,1281 1368.2,1263 1368.6,1258 1369.1,1272 1369.6,1270 1370.1,1274 1370.5,1283 1371.0,1275 1371.5,1258 1372.0,1257 1372.4,1282 1372.9,1278 1373.4,1256 1373.9,1281 1374.3,1267 1374.8,1256 1375.3,1254 1375.8,1266 1376.3,1247 1376.7,1278 1377.2,1281 1377.7,1278 1378.2,1248 1378.6,1269 1379.1,1282 1379.6,1274 1380.1,1268 1380.5,1277 1381.0,1280 1381.5,1277 1382.0,1275 1382.5,1257 1382.9,1272 1383.4,1271 1383.9,1266 1384.4,1256 1384.8,1270 1385.3,1274 1385.8,1287 1386.3,1258 1386.7,1260 1387.2,1266 1387.7,1279 1388.2,1270 1388.7,1269 1389.1,1277 1389.6,1279 1390.1,1271 1390.6,1271 1391.0,1275 1391.5,1289 1392.0,1293 1392.5,1265 1392.9,1283 1393.4,1254 1393.9,1257 1394.4,1280 1394.9,1273 1395.3,1255 1395.8,1276 1396.3,1289 1396.8,1260 1397.2,1268 1397.7,1263 1398.2,1257 1398.7,1262 1399.1,1269 1399.6,1281 1400.1,1285 1400.6,1293 1401.1,1277 1401.5,1269 1402.0,1282 1402.5,1281 1403.0,1268 1403.4,1291 1403.9,1271 1404.4,1251 1404.9,1276 1405.3,1273 1405.8,1272 1406.3,1277 1406.8,1252 1407.3,1265 1407.7,1262 1408.2,1265 1408.7,1255 1409.2,1272 1409.6,1267 1410.1,1269 1410.6,1262 1411.1,1272 1411.5,1255 1412.0,1276 1412.5,1269 1413.0,1266 1413.5,1276 1413.9,1257 1414.4,1266 1414.9,1285 1415.4,1275 1415.8,1258 1416.3,1264 1416.8,1265 1417.3,1264 1417.7,1282 1418.2,1270 1418.7,1254 1419.2,1284 1419.7,1250 1420.1,1250 1420.6,1247 1421.1,1274 1421.6,1257 1422.0,1278 1422.5,1261 1423.0,1262 1423.5,1281 1423.9,1274 1424.4,1272 1424.9,1262 1425.4,1277 1425.9,1250 1426.3,1274 1426.8,1276 1427.3,1279 1427.8,1261 1428.2,1277 1428.7,1266 1429.2,1281 1429.7,1276 1430.1,1256 1430.6,1266 1431.1,1269 1431.6,1267 1432.1,1264 1432.5,1260 1433.0,1257 1433.5,1272 1434.0,1264 1434.4,1275 1434.9,1254 1435.4,1270 1435.9,1270 1436.3,1273 1436.8,1253 1437.3,1273 1437.8,1277 1438.3,1285 1438.7,1253 1439.2,1257 1439.7,1273 1440.2,1236 1440.6,1268 1441.1,1282 1441.6,1261 1442.1,1270 1442.5,1270 1443.0,1277 1443.5,1266 1444.0,1259 1444.5,1291 1444.9,1264 1445.4,1285 1445.9,1288 1446.4,1250 1446.8,1257 1447.3,1277 1447.8,1285 1448.3,1282 1448.7,1277 1449.2,1277 1449.7,1254 1450.2,1272 1450.6,1282 1451.1,1278 1451.6,1268 1452.1,1260 1452.6,1283 1453.0,1247 1453.5,1274 1454.0,1261 1454.5,1257 1454.9,1271 1455.4,1270 1455.9,1289 1456.4,1290 1456.8,1277 1457.3,1274 1457.8,1256 1458.3,1248 1458.8,1269 1459.2,1261 1459.7,1285 1460.2,1277 1460.7,1276 1461.1,1277 1461.6,1265 1462.1,1276 1462.6,1261 1463.0,1274 1463.5,1266 1464.0,1263 1464.5,1278 1465.0,1270 1465.4,1274 1465.9,1278 1466.4,1261 1466.9,1269 1467.3,1265 1467.8,1279 1468.3,1264 1468.8,1273 1469.2,1245 1469.7,1281 1470.2,1271 1470.7,1251 1471.2,1269 1471.6,1263 1472.1,1277 1472.6,1268 1473.1,1274 1473.5,1275 1474.0,1265 1474.5,1278 1475.0,1267 1475.4,1266 1475.9,1281 1476.4,1243 1476.9,1267 1477.4,1281 1477.8,1271 1478.3,1274 1478.8,1267 1479.3,1276 1479.7,1266 1480.2,1268 1480.7,1276 1481.2,1255 1481.6,1273 1482.1,1260 1482.6,1265 1483.1,1256 1483.6,1269 1484.0,1280 1484.5,1278 1485.0,1268 1485.5,1294 1485.9,1263 1486.4,1267 1486.9,1283 1487.4,1273 1487.8,1278 1488.3,1272 1488.8,1281 1489.3,1271 1489.8,1258 1490.2,1259 1490.7,1254 1491.2,1269 1491.7,1259 1492.1,1275 1492.6,1257 1493.1,1268 1493.6,1289 1494.0,1291 1494.5,1278 1495.0,1298 1495.5,1269 1496.0,1277 1496.4,1285 1496.9,1269 1497.4,1258 1497.9,1258 1498.3,1267 1498.8,1250 1499.3,1284 1499.8,1265 1500.2,1274 1500.7,1286 1501.2,1275 1501.7,1280 1502.2,1273 1502.6,1245 1503.1,1282 1503.6,1263 1504.1,1250 1504.5,1274 1505.0,1281 1505.5,1273 1506.0,1263 1506.4,1253 1506.9,1268 1507.4,1267 1507.9,1260 1508.4,1281 1508.8,1271 1509.3,1261 1509.8,1267 1510.3,1266 1510.7,1269 1511.2,1256 1511.7,1258 1512.2,1254 1512.6,1262 1513.1,1262 1513.6,1259 1514.1,1272 1514.6,1261 1515.0,1254 1515.5,1256 1516.0,1274 1516.5,1264 1516.9,1252 1517.4,1279 1517.9,1272 1518.4,1256 1518.8,1303 1519.3,1254 1519.8,1267 1520.3,1263 1520.8,1280 1521.2,1262 1521.7,1269 1522.2,1268 1522.7,1265 1523.1,1285 1523.6,1241 1524.1,1276 1524.6,1251 1525.0,1260 1525.5,1268 1526.0,1289 1526.5,1280 1526.9,1285 1527.4,1271 1527.9,1264 1528.4,1296 1528.9,1265 1529.3,1277 1529.8,1266 1530.3,1263 1530.8,1266 1531.2,1269 1531.7,1271 1532.2,1266 1532.7,1295 1533.1,1278 1533.6,1247 1534.1,1281 1534.6,1272 1535.1,1270 1535.5,1272 1536.0,1260 1536.5,1291 1537.0,1282 1537.4,1275 1537.9,1265 1538.4,1256 1538.9,1300 1539.3,1243 1539.8,1274 1540.3,1273 1540.8,1266 1541.3,1269 1541.7,1265 1542.2,1270 1542.7,1269 1543.2,1283 1543.6,1288 1544.1,1259 1544.6,1272 1545.1,1268 1545.5,1275 1546.0,1269 1546.5,1261 1547.0,1269 1547.5,1296 1547.9,1270 1548.4,1253 1548.9,1253 1549.4,1270 1549.8,1254 1550.3,1272 1550.8,1255 1551.3,1267 1551.7,1280 1552.2,1267 1552.7,1272 1553.2,1268 1553.7,1250 1554.1,1268 1554.6,1254 1555.1,1240 1555.6,1267 1556.0,1270 1556.5,1279 1557.0,1258 1557.5,1260 1557.9,1262 1558.4,1273 1558.9,1258 1559.4,1257 1559.9,1271 1560.3,1266 1560.8,1273 1561.3,1248 1561.8,1285 1562.2,1271 1562.7,1260 1563.2,1257 1563.7,1276 1564.1,1286 1564.6,1270 1565.1,1267 1565.6,1270 1566.1,1278 1566.5,1269 1567.0,1275 1567.5,1280 1568.0,1255 1568.4,1271 1568.9,1272 1569.4,1259 1569.9,1258 1570.3,1266 1570.8,1264 1571.3,1268 1571.8,1268 1572.3,1271 1572.7,1264 1573.2,1253 1573.7,1274 1574.2,1261 1574.6,1277 1575.1,1258 1575.6,1273 1576.1,1255 1576.5,1266 1577.0,1262 1577.5,1263 1578.0,1270 1578.5,1282 1578.9,1260 1579.4,1279 1579.9,1266 1580.4,1273 1580.8,1270 1581.3,1279 1581.8,1264 1582.3,1254 1582.7,1260 1583.2,1273 1583.7,1259 1584.2,1267 1584.7,1284 1585.1,1277 1585.6,1249 1586.1,1276 1586.6,1286 1587.0,1265 1587.5,1274 1588.0,1268 1588.5,1286 1588.9,1277 1589.4,1269 1589.9,1279 1590.4,1268 1590.9,1263 1591.3,1282 1591.8,1264 1592.3,1267 1592.8,1277 1593.2,1266 1593.7,1275 1594.2,1249 1594.7,1255 1595.1,1259 1595.6,1282 1596.1,1282 1596.6,1281 1597.0,1258 1597.5,1268 1598.0,1281 1598.5,1273 1599.0,1232 1599.4,1295 1599.9,1274 1600.4,1269 1600.9,1285 1601.3,1267 1601.8,1266 1602.3,1258 1602.8,1259 1603.2,1275 1603.7,1275 1604.2,1277 1604.7,1268 1605.2,1279 1605.6,1279 1606.1,1280 1606.6,1258 1607.1,1282 1607.5,1271 1608.0,1292 1608.5,1278 1609.0,1284 1609.4,1281 1609.9,1290 1610.4,1287 1610.9,1285 1611.4,1259 1611.8,1250 1612.3,1270 1612.8,1272 1613.3,1258 1613.7,1278 1614.2,1288 1614.7,1284 1615.2,1269 1615.6,1281 1616.1,1267 1616.6,1259 1617.1,1277 1617.6,1272 1618.0,1282 1618.5,1264 1619.0,1287 1619.5,1275 1619.9,1281 1620.4,1270 1620.9,1270 1621.4,1257 1621.8,1260 1622.3,1284 1622.8,1284 1623.3,1255 1623.8,1271 1624.2,1260 1624.7,1275 1625.2,1289 1625.7,1284 1626.1,1259 1626.6,1261 1627.1,1278 1627.6,1244 1628.0,1285 1628.5,1278 1629.0,1271 1629.5,1273 1630.0,1265 1630.4,1265 1630.9,1299 1631.4,1265 1631.9,1270 1632.3,1287 1632.8,1276 1633.3,1273 1633.8,1266 1634.2,1283 1634.7,1267 1635.2,1270 1635.7,1287 1636.2,1282 1636.6,1259 1637.1,1284 1637.6,1275 1638.1,1264 1638.5,1247 1639.0,1275 1639.5,1271 1640.0,1282 1640.4,1283 1640.9,1279 1641.4,1259 1641.9,1267 1642.4,1271 1642.8,1286 1643.3,1258 1643.8,1276 1644.3,1283 1644.7,1293 1645.2,1270 1645.7,1274 1646.2,1263 1646.6,1282 1647.1,1277 1647.6,1259 1648.1,1266 1648.6,1276 1649.0,1284 1649.5,1255 1650.0,1258 1650.5,1282 1650.9,1262 1651.4,1266 1651.9,1276 1652.4,1284 1652.8,1272 1653.3,1281 1653.8,1246 1654.3,1278 1654.8,1283 1655.2,1265 1655.7,1289 1656.2,1276 1656.7,1261 1657.1,1273 1657.6,1270 1658.1,1295 1658.6,1262 1659.0,1255 1659.5,1277 1660.0,1249 1660.5,1276 1661.0,1269 1661.4,1273 1661.9,1258 1662.4,1272 1662.9,1249 1663.3,1277 1663.8,1265 1664.3,1278 1664.8,1276 1665.2,1268 1665.7,1276 1666.2,1269 1666.7,1275 1667.2,1260 1667.6,1276 1668.1,1280 1668.6,1284 1669.1,1266 1669.5,1283 1670.0,1268 1670.5,1290 1671.0,1291 1671.4,1278 1671.9,1280 1672.4,1261 1672.9,1275 1673.3,1284 1673.8,1275 1674.3,1280 1674.8,1278 1675.3,1268 1675.7,1277 1676.2,1278 1676.7,1281 1677.2,1302 1677.6,1284 1678.1,1282 1678.6,1280 1679.1,1279 1679.5,1269 1680.0,1282 1680.5,1276 1681.0,1269 1681.5,1278 1681.9,1295 1682.4,1297 1682.9,1282 1683.4,1283 1683.8,1258 1684.3,1277 1684.8,1277 1685.3,1267 1685.7,1269 1686.2,1278 1686.7,1274 1687.2,1296 1687.7,1263 1688.1,1276 1688.6,1261 1689.1,1279 1689.6,1268 1690.0,1267 1690.5,1272 1691.0,1275 1691.5,1292 1691.9,1255 1692.4,1276 1692.9,1270 1693.4,1280 1693.9,1270 1694.3,1268 1694.8,1286 1695.3,1270 1695.8,1273 1696.2,1277 1696.7,1264 1697.2,1281 1697.7,1291 1698.1,1277 1698.6,1262 1699.1,1274 1699.6,1290 1700.1,1263 1700.5,1267 1701.0,1266 1701.5,1250 1702.0,1274 1702.4,1272 1702.9,1287 1703.4,1266 1703.9,1280 1704.3,1283 1704.8,1292 1705.3,1292 1705.8,1282 1706.3,1275 1706.7,1271 1707.2,1270 1707.7,1279 1708.2,1283 1708.6,1268 1709.1,1276 1709.6,1274 1710.1,1267 1710.5,1266 1711.0,1249 1711.5,1291 1712.0,1272 1712.5,1259 1712.9,1285 1713.4,1294 1713.9,1285 1714.4,1279 1714.8,1265 1715.3,1266 1715.8,1271 1716.3,1301 1716.7,1288 1717.2,1258 1717.7,1254 1718.2,1297 1718.7,1271 1719.1,1274 1719.6,1260 1720.1,1276 1720.6,1269 1721.0,1275 1721.5,1265 1722.0,1279 1722.5,1259 1722.9,1279 1723.4,1272 1723.9,1262 1724.4,1257 1724.9,1270 1725.3,1280 1725.8,1262 1726.3,1267 1726.8,1273 1727.2,1269 1727.7,1274 1728.2,1271 1728.7,1251 1729.1,1258 1729.6,1273 1730.1,1258 1730.6,1262 1731.1,1273 1731.5,1272 1732.0,1257 1732.5,1270 1733.0,1265 1733.4,1259 1733.9,1283 1734.4,1257 1734.9,1277 1735.3,1279 1735.8,1280 1736.3,1254 1736.8,1265 1737.3,1279 1737.7,1266 1738.2,1251 1738.7,1277 1739.2,1269 1739.6,1269 1740.1,1255 1740.6,1255 1741.1,1272 1741.5,1279 1742.0,1263 1742.5,1271 1743.0,1257 1743.5,1275 1743.9,1269 1744.4,1274 1744.9,1254 1745.4,1271 1745.8,1263 1746.3,1286 1746.8,1257 1747.3,1271 1747.7,1256 1748.2,1265 1748.7,1251 1749.2,1257 1749.7,1278 1750.1,1270 1750.6,1264 1751.1,1262 1751.6,1245 1752.0,1267 1752.5,1259 1753.0,1270 1753.5,1272 1753.9,1274 1754.4,1277 1754.9,1270 1755.4,1271 1755.8,1271 1756.3,1249 1756.8,1268 1757.3,1270 1757.8,1262 1758.2,1270 1758.7,1261 1759.2,1255 1759.7,1252 1760.1,1231 1760.6,1267 1761.1,1262 1761.6,1247 1762.0,1260 1762.5,1258 1763.0,1260 1763.5,1252 1764.0,1250 1764.4,1263 1764.9,1260 1765.4,1252 1765.9,1259 1766.3,1285 1766.8,1255 1767.3,1253 1767.8,1259 1768.2,1271 1768.7,1268 1769.2,1264 1769.7,1240 1770.2,1272 1770.6,1259 1771.1,1269 1771.6,1258 1772.1,1257 1772.5,1279 1773.0,1262 1773.5,1262 1774.0,1256 1774.4,1257 1774.9,1267 1775.4,1282 1775.9,1267 1776.4,1279 1776.8,1259 1777.3,1264 1777.8,1248 1778.3,1261 1778.7,1276 1779.2,1255 1779.7,1268 1780.2,1252 1780.6,1260 1781.1,1253 1781.6,1254 1782.1,1272 1782.6,1278 1783.0,1278 1783.5,1264 1784.0,1267 1784.5,1258 1784.9,1284 1785.4,1258 1785.9,1270 1786.4,1270 1786.8,1270 1787.3,1270 1787.8,1279 1788.3,1257 1788.8,1263 1789.2,1286 1789.7,1249 1790.2,1265 1790.7,1257 1791.1,1266 1791.6,1254 1792.1,1236 1792.6,1274 1793.0,1287 1793.5,1279 1794.0,1273 1794.5,1275 1795.0,1269 1795.4,1253 1795.9,1277 1796.4,1256 1796.9,1267 1797.3,1262 1797.8,1272 1798.3,1282 1798.8,1268 1799.2,1266 1799.7,1262 1800.2,1278 1800.7,1265 1801.2,1256 1801.6,1270 1802.1,1285 1802.6,1264 1803.1,1269 1803.5,1275 1804.0,1255 1804.5,1261 1805.0,1288 1805.4,1261 1805.9,1276 1806.4,1276 1806.9,1268 1807.4,1284 1807.8,1265 1808.3,1291 1808.8,1277 1809.3,1296 1809.7,1274 1810.2,1287 1810.7,1279 1811.2,1280 1811.6,1297 1812.1,1281 1812.6,1288 1813.1,1240 1813.6,1270 1814.0,1260 1814.5,1302 1815.0,1270 1815.5,1283 1815.9,1275 1816.4,1280 1816.9,1260 1817.4,1270 1817.8,1284 1818.3,1285 1818.8,1283 1819.3,1253 1819.8,1284 1820.2,1278 1820.7,1297 1821.2,1275 1821.7,1263 1822.1,1294 1822.6,1291 1823.1,1263 1823.6,1281 1824.0,1283 1824.5,1290 1825.0,1275 1825.5,1262 1826.0,1286 1826.4,1296 1826.9,1267 1827.4,1275 1827.9,1295 1828.3,1267 1828.8,1273 1829.3,1259 1829.8,1293 1830.2,1290 1830.7,1262 1831.2,1283 1831.7,1291 1832.1,1290 1832.6,1291 1833.1,1284 1833.6,1280 1834.1,1302 1834.5,1283 1835.0,1293 1835.5,1267 1836.0,1280 1836.4,1295 1836.9,1275 1837.4,1292 1837.9,1275 1838.3,1277 1838.8,1285 1839.3,1284 1839.8,1288 1840.3,1299 1840.7,1262 1841.2,1272 1841.7,1253 1842.2,1264 1842.6,1291 1843.1,1272 1843.6,1271 1844.1,1267 1844.5,1284 1845.0,1268 1845.5,1277 1846.0,1294 1846.5,1281 1846.9,1294 1847.4,1282 1847.9,1301 1848.4,1275 1848.8,1283 1849.3,1287 1849.8,1276 1850.3,1294 1850.7,1285 1851.2,1283 1851.7,1292 1852.2,1288 1852.7,1280 1853.1,1283 1853.6,1276 1854.1,1291 1854.6,1292 1855.0,1299 1855.5,1287 1856.0,1292 1856.5,1253 1856.9,1279 1857.4,1259 1857.9,1293 1858.4,1290 1858.9,1296 1859.3,1270 1859.8,1286 1860.3,1282 1860.8,1278 1861.2,1279 1861.7,1295 1862.2,1288 1862.7,1292 1863.1,1280 1863.6,1269 1864.1,1301 1864.6,1297 1865.1,1259 1865.5,1273 1866.0,1282 1866.5,1294 1867.0,1274 1867.4,1283 1867.9,1279 1868.4,1293 1868.9,1284 1869.3,1291 1869.8,1288 1870.3,1299 1870.8,1277 1871.3,1279 1871.7,1292 1872.2,1287 1872.7,1286 1873.2,1305 1873.6,1290 1874.1,1276 1874.6,1266 1875.1,1274 1875.5,1304 1876.0,1288 1876.5,1269 1877.0,1282 1877.5,1280 1877.9,1278 1878.4,1273 1878.9,1282 1879.4,1301 1879.8,1278 1880.3,1274 1880.8,1265 1881.3,1298 1881.7,1298 1882.2,1294 1882.7,1283 1883.2,1285 1883.7,1287 1884.1,1299 1884.6,1306 1885.1,1290 1885.6,1276 1886.0,1291 1886.5,1274 1887.0,1275 1887.5,1294 1887.9,1268 1888.4,1263 1888.9,1275 1889.4,1294 1889.9,1284 1890.3,1296 1890.8,1280 1891.3,1261 1891.8,1269 1892.2,1291 1892.7,1271 1893.2,1289 1893.7,1295 1894.1,1277 1894.6,1285 1895.1,1273 1895.6,1282 1896.1,1283 1896.5,1267 1897.0,1297 1897.5,1290 1898.0,1299 1898.4,1289 1898.9,1283 1899.4,1299 1899.9,1284 1900.3,1301 1900.8,1286 1901.3,1286 1901.8,1278 1902.2,1298 1902.7,1294 1903.2,1304 1903.7,1290 1904.2,1282 1904.6,1297 1905.1,1306 1905.6,1280 1906.1,1272 1906.5,1280 1907.0,1298 1907.5,1282 1908.0,1290 1908.4,1287 1908.9,1290 1909.4,1300 1909.9,1292 1910.4,1303 1910.8,1306 1911.3,1297 1911.8,1302 1912.3,1284 1912.7,1299 1913.2,1308 1913.7,1292 1914.2,1305 1914.6,1281 1915.1,1303 1915.6,1277 1916.1,1281 1916.6,1295 1917.0,1285 1917.5,1298 1918.0,1291 1918.5,1291 1918.9,1300 1919.4,1278 1919.9,1296 1920.4,1289 1920.8,1284 1921.3,1295 1921.8,1310 1922.3,1278 1922.8,1302 1923.2,1304 1923.7,1282 1924.2,1292 1924.7,1309 1925.1,1301 1925.6,1282 1926.1,1268 1926.6,1287 1927.0,1300 1927.5,1287 1928.0,1285 1928.5,1287 1929.0,1275 1929.4,1300 1929.9,1296 1930.4,1295 1930.9,1299 1931.3,1294 1931.8,1308 1932.3,1284 1932.8,1304 1933.2,1294 1933.7,1287 1934.2,1302 1934.7,1293 1935.2,1289 1935.6,1292 1936.1,1301 1936.6,1271 1937.1,1292 1937.5,1298 1938.0,1301 1938.5,1275 1939.0,1294 1939.4,1320 1939.9,1298 1940.4,1308 1940.9,1296 1941.4,1285 1941.8,1289 1942.3,1289 1942.8,1296 1943.3,1280 1943.7,1303 1944.2,1301 1944.7,1310 1945.2,1293 1945.6,1300 1946.1,1292 1946.6,1333 1947.1,1307 1947.6,1270 1948.0,1298 1948.5,1299 1949.0,1304 1949.5,1286 1949.9,1303 1950.4,1305 1950.9,1317 1951.4,1280 1951.8,1295 1952.3,1314 1952.8,1306 1953.3,1301 1953.8,1305 1954.2,1308 1954.7,1281 1955.2,1276 1955.7,1314 1956.1,1312 1956.6,1279 1957.1,1293 1957.6,1293 1958.0,1314 1958.5,1310 1959.0,1304 1959.5,1290 1960.0,1296 1960.4,1283 1960.9,1306 1961.4,1314 1961.9,1289 1962.3,1302 1962.8,1301 1963.3,1282 1963.8,1309 1964.2,1302 1964.7,1306 1965.2,1289 1965.7,1297 1966.2,1309 1966.6,1297 1967.1,1300 1967.6,1298 1968.1,1305 1968.5,1287 1969.0,1294 1969.5,1296 1970.0,1312 1970.4,1296 1970.9,1312 1971.4,1309 1971.9,1314 1972.4,1308 1972.8,1321 1973.3,1304 1973.8,1302 1974.3,1311 1974.7,1284 1975.2,1319 1975.7,1298 1976.2,1311 1976.6,1303 1977.1,1316 1977.6,1308 1978.1,1297 1978.5,1312 1979.0,1301 1979.5,1310 1980.0,1295 1980.5,1308 1980.9,1297 1981.4,1288 1981.9,1317 1982.4,1295 1982.8,1301 1983.3,1306 1983.8,1304 1984.3,1298 1984.7,1291 1985.2,1314 1985.7,1304 1986.2,1310 1986.7,1301 1987.1,1281 1987.6,1308 1988.1,1311 1988.6,1305 1989.0,1313 1989.5,1298 1990.0,1289 1990.5,1287 1990.9,1292 1991.4,1290 1991.9,1303 1992.4,1291 1992.9,1305 1993.3,1308 1993.8,1325 1994.3,1309 1994.8,1292 1995.2,1321 1995.7,1299 1996.2,1310 1996.7,1311 1997.1,1299 1997.6,1305 1998.1,1295 1998.6,1291 1999.1,1300 1999.5,1301 2000.0,1310 2000.5,1313 2001.0,1292 2001.4,1319 2001.9,1305 2002.4,1318 2002.9,1315 2003.3,1295 2003.8,1293 2004.3,1326 2004.8,1289 2005.3,1308 2005.7,1309 2006.2,1288 2006.7,1325 2007.2,1301 2007.6,1294 2008.1,1319 2008.6,1336 2009.1,1305 2009.5,1301 2010.0,1322 2010.5,1307 2011.0,1289 2011.5,1321 2011.9,1294 2012.4,1303 2012.9,1310 2013.4,1312 2013.8,1315 2014.3,1299 2014.8,1295 2015.3,1298 2015.7,1310 2016.2,1306 2016.7,1305 2017.2,1301 2017.7,1310 2018.1,1300 2018.6,1301 2019.1,1320 2019.6,1302 2020.0,1301 2020.5,1316 2021.0,1320 2021.5,1304 2021.9,1307 2022.4,1283 2022.9,1306 2023.4,1308 2023.9,1305 2024.3,1301 2024.8,1313 2025.3,1309 2025.8,1312 2026.2,1311 2026.7,1307 2027.2,1301 2027.7,1298 2028.1,1306 2028.6,1293 2029.1,1304 2029.6,1308 2030.1,1318 2030.5,1305 2031.0,1301 2031.5,1300 2032.0,1310 2032.4,1308 2032.9,1300 2033.4,1307 2033.9,1294 2034.3,1320 2034.8,1292 2035.3,1283 2035.8,1296 2036.3,1294 2036.7,1322 2037.2,1328 2037.7,1300 2038.2,1307 2038.6,1303 2039.1,1298 2039.6,1307 2040.1,1300 2040.5,1325 2041.0,1307 2041.5,1295 2042.0,1312 2042.5,1284 2042.9,1297 2043.4,1320 2043.9,1300 2044.4,1292 2044.8,1299 2045.3,1327 2045.8,1310 2046.3,1309 2046.7,1306 2047.2,1308 2047.7,1307 2048.2,1294 2048.7,1302 2049.1,1301 2049.6,1307 2050.1,1301 2050.6,1297 2051.0,1329 2051.5,1297 2052.0,1321 2052.5,1302 2052.9,1307 2053.4,1305 2053.9,1299 2054.4,1294 2054.8,1309 2055.3,1296 2055.8,1317 2056.3,1312 2056.8,1301 2057.2,1296 2057.7,1300 2058.2,1311 2058.7,1314 2059.1,1294 2059.6,1310 2060.1,1298 2060.6,1298 2061.0,1295 2061.5,1325 2062.0,1319 2062.5,1312 2063.0,1304 2063.4,1298 2063.9,1317 2064.4,1299 2064.9,1314 2065.3,1303 2065.8,1279 2066.3,1320 2066.8,1316 2067.2,1309 2067.7,1318 2068.2,1301 2068.7,1310 2069.2,1313 2069.6,1304 2070.1,1309 2070.6,1300 2071.1,1294 2071.5,1314 2072.0,1304 2072.5,1300 2073.0,1318 2073.4,1304 2073.9,1313 2074.4,1320 2074.9,1286 2075.4,1287 2075.8,1306 2076.3,1317 2076.8,1310 2077.3,1292 2077.7,1294 2078.2,1280 2078.7,1312 2079.2,1303 2079.6,1315 2080.1,1305 2080.6,1298 2081.1,1316 2081.6,1315 2082.0,1298 2082.5,1321 2083.0,1316 2083.5,1307 2083.9,1299 2084.4,1313 2084.9,1290 2085.4,1294 2085.8,1322 2086.3,1315 2086.8,1299 2087.3,1279 2087.8,1307 2088.2,1293 2088.7,1295 2089.2,1285 2089.7,1284 2090.1,1311 2090.6,1291 2091.1,1310 2091.6,1304 2092.0,1318 2092.5,1306 2093.0,1290"/>
<polyline stroke="#000080" points="185.5,1030 186.0,1041 186.5,1043 186.9,1038 187.4,1064 187.9,1042 188.4,1055 188.8,1068 189.3,1042 189.8,1031 190.3,1048 190.7,1066 191.2,1078 191.7,1045 192.2,1063 192.7,1050 193.1,1038 193.6,1038 194.1,1038 194.6,1038 195.0,1042 195.5,1031 196.0,1069 196.5,1036 196.9,1043 197.4,1040 197.9,1069 198.4,1052 198.9,1047 199.3,1049 199.8,1068 200.3,1036 200.8,1063 201.2,1068 201.7,1032 202.2,1051 202.7,1056 203.1,1031 203.6,1045 204.1,1053 204.6,1052 205.1,1048 205.5,1052 206.0,1046 206.5,1055 207.0,1057 207.4,1055 207.9,1051 208.4,1058 208.9,1059 209.3,1050 209.8,1055 210.3,1050 210.8,1053 211.3,1020 211.7,1030 212.2,1054 212.7,1027 213.2,1020 213.6,1067 214.1,1043 214.6,1042 215.1,1059 215.5,1032 216.0,1025 216.5,1034 217.0,1049 217.5,1033 217.9,1048 218.4,1070 218.9,1048 219.4,1054 219.8,1043 220.3,1045 220.8,1063 221.3,1043 221.7,1039 222.2,1054 222.7,1023 223.2,1043 223.7,1054 224.1,1039 224.6,1035 225.1,1020 225.6,1048 226.0,1051 226.5,1025 227.0,1046 227.5,1030 227.9,1060 228.4,1039 228.9,1046 229.4,1042 229.8,1052 230.3,1052 230.8,1043 231.3,1038 231.8,1060 232.2,1049 232.7,1045 233.2,1038 233.7,1034 234.1,1044 234.6,1059 235.1,1029 235.6,1039 236.0,1057 236.5,1049 237.0,1051 237.5,1045 238.0,1035 238.4,1063 238.9,1036 239.4,1050 239.9,1049 240.3,1031 240.8,1044 241.3,1026 241.8,1028 242.2,1019 242.7,1033 243.2,1019 243.7,1030 244.2,1034 244.6,1038 245.1,1020 245.6,1038 246.1,1036 246.5,1012 247.0,1047 247.5,1039 248.0,1036 248.4,1040 248.9,1049 249.4,1023 249.9,1027 250.4,1047 250.8,1054 251.3,1044 251.8,1024 252.3,1050 252.7,1051 253.2,1041 253.7,1048 254.2,1036 254.6,1050 255.1,1026 255.6,1032 256.1,1048 256.6,1029 257.0,1030 257.5,1065 258.0,1017 258.5,1039 258.9,1049 259.4,1037 259.9,1036 260.4,1054 260.8,1045 261.3,1028 261.8,1040 262.3,1013 262.8,1041 263.2,1027 263.7,1013 264.2,1025 264.7,1040 265.1,1029 265.6,1048 266.1,1055 266.6,1042 267.0,1020 267.5,1033 268.0,1016 268.5,1012 269.0,1030 269.4,1026 269.9,1031 270.4,1033 270.9,1014 271.3,1023 271.8,1033 272.3,1029 272.8,1040 273.2,1021 273.7,1028 274.2,1047 274.7,1026 275.2,1041 275.6,1021 276.1,1019 276.6,1036 277.1,1023 277.5,1026 278.0,1014 278.5,1032 279.0,1010 279.4,1036 279.9,1042 280.4,1027 280.9,1025 281.4,1046 281.8,1023 282.3,1010 282.8,1035 283.3,1014 283.7,1011 284.2,1034 284.7,1039 285.2,1045 285.6,1018 286.1,1027 286.6,1024 287.1,1018 287.6,1008 288.0,1014 288.5,1007 289.0,1009 289.5,1020 289.9,1050 290.4,1016 290.9,1022 291.4,1026 291.8,1021 292.3,1031 292.8,1046 293.3,1028 293.8,1038 294.2,1035 294.7,1024 295.2,1007 295.7,1009 296.1,1012 296.6,1039 297.1,1024 297.6,1010 298.0,1001 298.5,1009 299.0,1006 299.5,1033 299.9,1004 300.4,1017 300.9,1025 301.4,1007 301.9,1011 302.3,1004 302.8,1032 303.3,1016 303.8,1002 304.2,1014 304.7,1013 305.2,986 305.7,995 306.1,1009 306.6,1015 307.1,1020 307.6,1025 308.1,1012 308.5,991 309.0,1013 309.5,1004 310.0,987 310.4,1009 310.9,1034 311.4,989 311.9,1007 312.3,1030 312.8,1003 313.3,996 313.8,1007 314.3,988 314.7,992 315.2,997 315.7,1027 316.2,999 316.6,1034 317.1,1004 317.6,1020 318.1,983 318.5,1004 319.0,992 319.5,1026 320.0,1002 320.5,987 320.9,1004 321.4,1000 321.9,999 322.4,1012 322.8,1002 323.3,1000 323.8,972 324.3,992 324.7,977 325.2,994 325.7,986 326.2,972 326.7,989 327.1,1010 327.6,981 328.1,983 328.6,982 329.0,996 329.5,1000 330.0,970 330.5,974 330.9,981 331.4,989 331.9,980 332.4,995 332.9,1017 333.3,977 333.8,979 334.3,974 334.8,981 335.2,981 335.7,1002 336.2,972 336.7,999 337.1,979 337.6,994 338.1,994 338.6,974 339.1,1003 339.5,970 340.0,1004 340.5,1004 341.0,995 341.4,978 341.9,997 342.4,1013 342.9,999 343.3,981 343.8,989 344.3,985 344.8,989 345.3,958 345.7,963 346.2,988 346.7,972 347.2,980 347.6,988 348.1,985 348.6,1006 349.1,983 349.5,983 350.0,990 350.5,994 351.0,1009 351.5,980 351.9,991 352.4,968 352.9,969 353.4,943 353.8,994 354.3,996 354.8,994 355.3,956 355.7,1005 356.2,956 356.7,982 357.2,940 357.7,956 358.1,989 358.6,984 359.1,960 359.6,975 360.0,980 360.5,940 361.0,986 361.5,953 361.9,973 362.4,968 362.9,964 363.4,958 363.9,960 364.3,969 364.8,949 365.3,965 365.8,957 366.2,947 366.7,982 367.2,957 367.7,983 368.1,977 368.6,973 369.1,947 369.6,972 370.1,980 370.5,953 371.0,963 371.5,985 372.0,930 372.4,973 372.9,963 373.4,942 373.9,939 374.3,945 374.8,962 375.3,968 375.8,956 376.2,935 376.7,934 377.2,936 377.7,932 378.2,939 378.6,978 379.1,927 379.6,953 380.1,931 380.5,931 381.0,929 381.5,943 382.0,933 382.4,955 382.9,928 383.4,927 383.9,953 384.4,945 384.8,921 385.3,955 385.8,938 386.3,920 386.7,939 387.2,952 387.7,938 388.2,957 388.6,953 389.1,913 389.6,935 390.1,929 390.6,884 391.0,922 391.5,930 392.0,936 392.5,911 392.9,911 393.4,944 393.9,947 394.4,922 394.8,935 395.3,926 395.8,906 396.3,945 396.8,926 397.2,938 397.7,921 398.2,928 398.7,915 399.1,921 399.6,929 400.1,906 400.6,905 401.0,904 401.5,914 402.0,940 402.5,911 403.0,892 403.4,905 403.9,926 404.4,902 404.9,912 405.3,892 405.8,956 406.3,907 406.8,908 407.2,921 407.7,917 408.2,934 408.7,906 409.2,900 409.6,923 410.1,909 410.6,911 411.1,926 411.5,923 412.0,933 412.5,910 413.0,904 413.4,912 413.9,888 414.4,889 414.9,885 415.4,899 415.8,911 416.3,912 416.8,889 417.3,901 417.7,930 418.2,911 418.7,896 419.2,902 419.6,904 420.1,885 420.6,910 421.1,918 421.6,889 422.0,883 422.5,896 423.0,897 423.5,903 423.9,875 424.4,892 424.9,913 425.4,898 425.8,888 426.3,918 426.8,907 427.3,890 427.8,887 428.2,881 428.7,886 429.2,906 429.7,875 430.1,876 430.6,903 431.1,908 431.6,893 432.0,889 432.5,895 433.0,898 433.5,881 434.0,901 434.4,896 434.9,881 435.4,876 435.9,899 436.3,884 436.8,879 437.3,894 437.8,885 438.2,888 438.7,909 439.2,878 439.7,898 440.2,867 440.6,885 441.1,850 441.6,874 442.1,850 442.5,870 443.0,865 443.5,872 444.0,867 444.4,869 444.9,871 445.4,849 445.9,899 446.4,880 446.8,867 447.3,915 447.8,888 448.3,861 448.7,864 449.2,874 449.7,875 450.2,876 450.6,885 451.1,870 451.6,842 452.1,868 452.6,884 453.0,867 453.5,902 454.0,887 454.5,865 454.9,879 455.4,869 455.9,881 456.4,914 456.8,874 457.3,882 457.8,896 458.3,902 458.7,867 459.2,853 459.7,878 460.2,890 460.7,844 461.1,858 461.6,884 462.1,876 462.6,859 463.0,865 463.5,869 464.0,843 464.5,856 464.9,866 465.4,885 465.9,875 466.4,840 466.9,854 467.3,875 467.8,853 468.3,870 468.8,860 469.2,846 469.7,841 470.2,872 470.7,827 471.1,889 471.6,852 472.1,874 472.6,872 473.1,883 473.5,876 474.0,859 474.5,844 475.0,873 475.4,884 475.9,886 476.4,882 476.9,876 477.3,865 477.8,891 478.3,885 478.8,824 479.3,850 479.7,868 480.2,885 480.7,869 481.2,880 481.6,857 482.1,868 482.6,864 483.1,851 483.5,858 484.0,873 484.5,879 485.0,866 485.5,842 485.9,843 486.4,867 486.9,884 487.4,905 487.8,867 488.3,867 488.8,862 489.3,882 489.7,852 490.2,883 490.7,881 491.2,878 491.7,859 492.1,871 492.6,868 493.1,896 493.6,869 494.0,879 494.5,867 495.0,893 495.5,871 495.9,886 496.4,910 496.9,857 497.4,875 497.9,901 498.3,884 498.8,857 499.3,869 499.8,860 500.2,862 500.7,882 501.2,863 501.7,910 502.1,884 502.6,890 503.1,872 503.6,883 504.1,898 504.5,893 505.0,900 505.5,880 506.0,886 506.4,884 506.9,883 507.4,889 507.9,912 508.3,880 508.8,907 509.3,880 509.8,900 510.3,917 510.7,872 511.2,913 511.7,917 512.2,934 512.6,892 513.1,881 513.6,897 514.1,905 514.5,876 515.0,905 515.5,922 516.0,910 516.5,897 516.9,896 517.4,887 517.9,895 518.4,873 518.8,903 519.3,925 519.8,893 520.3,901 520.7,911 521.2,877 521.7,889 522.2,902 522.7,890 523.1,894 523.6,896 524.1,889 524.6,910 525.0,918 525.5,903 526.0,890 526.5,885 526.9,904 527.4,909 527.9,886 528.4,891 528.9,922 529.3,880 529.8,908 530.3,887 530.8,917 531.2,892 531.7,897 532.2,889 532.7,902 533.1,905 533.6,907 534.1,911 534.6,900 535.0,941 535.5,892 536.0,918 536.5,897 537.0,923 537.4,907 537.9,928 538.4,916 538.9,924 539.3,911 539.8,934 540.3,918 540.8,912 541.2,945 541.7,921 542.2,912 542.7,926 543.2,915 543.6,958 544.1,935 544.6,948 545.1,942 545.5,938 546.0,917 546.5,915 547.0,899 547.4,917 547.9,938 548.4,947 548.9,933 549.4,934 549.8,951 550.3,920 550.8,964 551.3,951 551.7,951 552.2,936 552.7,954 553.2,958 553.6,966 554.1,948 554.6,935 555.1,965 555.6,944 556.0,941 556.5,948 557.0,919 557.5,967 557.9,935 558.4,930 558.9,954 559.4,972 559.8,940 560.3,929 560.8,966 561.3,963 561.8,931 562.2,945 562.7,930 563.2,954 563.7,958 564.1,969 564.6,931 565.1,944 565.6,967 566.0,938 566.5,967 567.0,948 567.5,972 568.0,942 568.4,965 568.9,961 569.4,957 569.9,972 570.3,957 570.8,955 571.3,954 571.8,992 572.2,945 572.7,957 573.2,960 573.7,953 574.2,972 574.6,956 575.1,973 575.6,986 576.1,964 576.5,979 577.0,973 577.5,962 578.0,965 578.4,966 578.9,979 579.4,960 579.9,956 580.4,965 580.8,984 581.3,959 581.8,987 582.3,968 582.7,990 583.2,974 583.7,946 584.2,977 584.6,971 585.1,966 585.6,978 586.1,966 586.6,972 587.0,989 587.5,951 588.0,965 588.5,973 588.9,975 589.4,965 589.9,981 590.4,950 590.8,968 591.3,963 591.8,964 592.3,988 592.8,992 593.2,960 593.7,994 594.2,972 594.7,968 595.1,972 595.6,989 596.1,995 596.6,987 597.0,982 597.5,990 598.0,988 598.5,1003 599.0,986 599.4,1013 599.9,985 600.4,959 600.9,987 601.3,984 601.8,990 602.3,993 602.8,963 603.2,973 603.7,981 604.2,965 604.7,991 605.1,996 605.6,998 606.1,980 606.6,970 607.1,1002 607.5,1020 608.0,990 608.5,996 609.0,987 609.4,984 609.9,1001 610.4,977 610.9,1014 611.3,973 611.8,1003 612.3,988 612.8,978 613.3,1002 613.7,1023 614.2,993 614.7,1003 615.2,999 615.6,994 616.1,1012 616.6,994 617.1,988 617.5,992 618.0,1009 618.5,1006 619.0,997 619.5,999 619.9,1001 620.4,981 620.9,1005 621.4,1007 621.8,1004 622.3,1024 622.8,1004 623.3,1001 623.7,1026 624.2,987 624.7,1009 625.2,1002 625.7,1005 626.1,1003 626.6,1014 627.1,1015 627.6,1015 628.0,1012 628.5,1000 629.0,1008 629.5,1014 629.9,1004 630.4,994 630.9,997 631.4,1005 631.9,998 632.3,1017 632.8,1025 633.3,1013 633.8,1021 634.2,1015 634.7,1011 635.2,996 635.7,1008 636.1,993 636.6,997 637.1,1020 637.6,1006 638.1,1009 638.5,979 639.0,1013 639.5,1014 640.0,1017 640.4,1020 640.9,999 641.4,1021 641.9,1003 642.3,1017 642.8,1025 643.3,1006 643.8,1013 644.3,1019 644.7,1016 645.2,1021 645.7,1021 646.2,1022 646.6,998 647.1,1011 647.6,1008 648.1,1026 648.5,1021 649.0,1021 649.5,1033 650.0,1008 650.5,1017 650.9,1046 651.4,1021 651.9,1010 652.4,1014 652.8,1037 653.3,1027 653.8,1051 654.3,1004 654.7,1032 655.2,1037 655.7,1013 656.2,1015 656.7,1028 657.1,1028 657.6,1017 658.1,1037 658.6,1032 659.0,1019 659.5,1028 660.0,1038 660.5,1027 660.9,1033 661.4,1027 661.9,1007 662.4,1014 662.9,1014 663.3,1031 663.8,1041 664.3,1025 664.8,1035 665.2,1050 665.7,1025 666.2,1033 666.7,1038 667.1,1032 667.6,1027 668.1,1033 668.6,1025 669.1,1024 669.5,1036 670.0,1034 670.5,1015 671.0,1043 671.4,1032 671.9,1029 672.4,1057 672.9,1057 673.3,1023 673.8,1057 674.3,1048 674.8,1044 675.3,1026 675.7,1041 676.2,1041 676.7,1030 677.2,1024 677.6,1029 678.1,1038 678.6,1057 679.1,1045 679.5,1069 680.0,1060 680.5,1033 681.0,1057 681.5,1015 681.9,1056 682.4,1060 682.9,1048 683.4,1040 683.8,1042 684.3,1045 684.8,1052 685.3,1034 685.7,1046 686.2,1039 686.7,1047 687.2,1037 687.6,1051 688.1,1051 688.6,1036 689.1,1053 689.6,1054 690.0,1067 690.5,1033 691.0,1050 691.5,1044 691.9,1053 692.4,1056 692.9,1043 693.4,1056 693.8,1062 694.3,1062 694.8,1047 695.3,1042 695.8,1053 696.2,1028 696.7,1055 697.2,1034 697.7,1043 698.1,1063 698.6,1069 699.1,1069 699.6,1055 700.0,1052 700.5,1036 701.0,1051 701.5,1038 702.0,1036 702.4,1046 702.9,1078 703.4,1062 703.9,1063 704.3,1043 704.8,1059 705.3,1069 705.8,1049 706.2,1053 706.7,1058 707.2,1048 707.7,1051 708.2,1055 708.6,1075 709.1,1063 709.6,1054 710.1,1049 710.5,1068 711.0,1069 711.5,1055 712.0,1040 712.4,1071 712.9,1055 713.4,1065 713.9,1057 714.4,1086 714.8,1056 715.3,1056 715.8,1071 716.3,1081 716.7,1049 717.2,1042 717.7,1033 718.2,1056 718.6,1053 719.1,1051 719.6,1079 720.1,1042 720.6,1051 721.0,1045 721.5,1056 722.0,1067 722.5,1071 722.9,1040 723.4,1061 723.9,1075 724.4,1054 724.8,1062 725.3,1067 725.8,1052 726.3,1063 726.8,1063 727.2,1066 727.7,1055 728.2,1060 728.7,1061 729.1,1055 729.6,1068 730.1,1050 730.6,1063 731.0,1071 731.5,1055 732.0,1053 732.5,1065 733.0,1060 733.4,1058 733.9,1081 734.4,1051 734.9,1066 735.3,1074 735.8,1065 736.3,1042 736.8,1062 737.2,1078 737.7,1044 738.2,1067 738.7,1057 739.2,1078 739.6,1078 740.1,1050 740.6,1073 741.1,1054 741.5,1059 742.0,1056 742.5,1057 743.0,1062 743.4,1071 743.9,1077 744.4,1069 744.9,1058 745.4,1076 745.8,1068 746.3,1035 746.8,1050 747.3,1067 747.7,1063 748.2,1056 748.7,1075 749.2,1049 749.6,1078 750.1,1054 750.6,1074 751.1,1073 751.6,1077 752.0,1071 752.5,1071 753.0,1069 753.5,1071 753.9,1081 754.4,1077 754.9,1070 755.4,1062 755.8,1068 756.3,1066 756.8,1065 757.3,1061 757.8,1073 758.2,1068 758.7,1059 759.2,1061 759.7,1082 760.1,1062 760.6,1059 761.1,1077 761.6,1091 762.0,1065 762.5,1062 763.0,1090 763.5,1050 763.9,1071 764.4,1065 764.9,1068 765.4,1081 765.9,1077 766.3,1083 766.8,1066 767.3,1066 767.8,1076 768.2,1090 768.7,1091 769.2,1062 769.7,1054 770.1,1076 770.6,1070 771.1,1049 771.6,1083 772.1,1063 772.5,1053 773.0,1060 773.5,1091 774.0,1066 774.4,1087 774.9,1057 775.4,1052 775.9,1084 776.3,1094 776.8,1070 777.3,1067 777.8,1083 778.3,1071 778.7,1076 779.2,1092 779.7,1084 780.2,1087 780.6,1069 781.1,1073 781.6,1050 782.1,1068 782.5,1084 783.0,1075 783.5,1111 784.0,1070 784.5,1066 784.9,1085 785.4,1095 785.9,1076 786.4,1089 786.8,1061 787.3,1081 787.8,1096 788.3,1074 788.7,1076 789.2,1077 789.7,1069 790.2,1085 790.7,1087 791.1,1069 791.6,1066 792.1,1075 792.6,1071 793.0,1080 793.5,1083 794.0,1062 794.5,1077 794.9,1089 795.4,1074 795.9,1083 796.4,1093 796.9,1081 797.3,1058 797.8,1081 798.3,1094 798.8,1072 799.2,1091 799.7,1100 800.2,1093 800.7,1067 801.1,1077 801.6,1068 802.1,1066 802.6,1075 803.1,1076 803.5,1088 804.0,1090 804.5,1071 805.0,1075 805.4,1068 805.9,1079 806.4,1068 806.9,1066 807.3,1079 807.8,1105 808.3,1078 808.8,1085 809.3,1061 809.7,1082 810.2,1082 810.7,1080 811.2,1092 811.6,1064 812.1,1102 812.6,1081 813.1,1095 813.5,1097 814.0,1094 814.5,1088 815.0,1082 815.5,1090 815.9,1067 816.4,1077 816.9,1107 817.4,1076 817.8,1096 818.3,1063 818.8,1072 819.3,1097 819.7,1078 820.2,1083 820.7,1103 821.2,1068 821.7,1070 822.1,1079 822.6,1098 823.1,1076 823.6,1076 824.0,1103 824.5,1082 825.0,1067 825.5,1084 825.9,1097 826.4,1071 826.9,1068 827.4,1098 827.9,1088 828.3,1076 828.8,1075 829.3,1091 829.8,1096 830.2,1084 830.7,1088 831.2,1094 831.7,1078 832.1,1080 832.6,1072 833.1,1087 833.6,1093 834.0,1082 834.5,1090 835.0,1089 835.5,1094 836.0,1089 836.4,1103 836.9,1095 837.4,1088 837.9,1103 838.3,1093 838.8,1101 839.3,1073 839.8,1096 840.2,1084 840.7,1099 841.2,1088 841.7,1061 842.2,1094 842.6,1094 843.1,1087 843.6,1088 844.1,1074 844.5,1098 845.0,1103 845.5,1079 846.0,1078 846.4,1088 846.9,1069 847.4,1101 847.9,1080 848.4,1111 848.8,1094 849.3,1110 849.8,1070 850.3,1098 850.7,1092 851.2,1091 851.7,1080 852.2,1083 852.6,1084 853.1,1082 853.6,1108 854.1,1097 854.6,1080 855.0,1105 855.5,1101 856.0,1072 856.5,1095 856.9,1076 857.4,1077 857.9,1110 858.4,1104 858.8,1102 859.3,1096 859.8,1080 860.3,1085 860.8,1086 861.2,1113 861.7,1106 862.2,1101 862.7,1091 863.1,1098 863.6,1085 864.1,1111 864.6,1096 865.0,1109 865.5,1090 866.0,1097 866.5,1082 867.0,1126 867.4,1119 867.9,1104 868.4,1123 868.9,1103 869.3,1099 869.8,1082 870.3,1091 870.8,1095 871.2,1109 871.7,1092 872.2,1112 872.7,1089 873.2,1097 873.6,1102 874.1,1102 874.6,1097 875.1,1082 875.5,1090 876.0,1096 876.5,1095 877.0,1083 877.4,1083 877.9,1078 878.4,1104 878.9,1085 879.4,1094 879.8,1086 880.3,1105 880.8,1117 881.3,1112 881.7,1091 882.2,1081 882.7,1113 883.2,1092 883.6,1097 884.1,1102 884.6,1107 885.1,1098 885.6,1079 886.0,1098 886.5,1105 887.0,1091 887.5,1096 887.9,1103 888.4,1089 888.9,1099 889.4,1082 889.8,1102 890.3,1102 890.8,1092 891.3,1082 891.8,1081 892.2,1103 892.7,1100 893.2,1111 893.7,1110 894.1,1101 894.6,1097 895.1,1104 895.6,1093 896.0,1072 896.5,1102 897.0,1106 897.5,1097 898.0,1092 898.4,1096 898.9,1097 899.4,1086 899.9,1095 900.3,1098 900.8,1099 901.3,1102 901.8,1098 902.2,1092 902.7,1104 903.2,1107 903.7,1094 904.2,1087 904.6,1110 905.1,1079 905.6,1101 906.1,1096 906.5,1092 907.0,1104 907.5,1099 908.0,1110 908.4,1083 908.9,1069 909.4,1080 909.9,1123 910.4,1102 910.8,1090 911.3,1093 911.8,1093 912.3,1097 912.7,1110 913.2,1098 913.7,1085 914.2,1095 914.6,1087 915.1,1103 915.6,1096 916.1,1110 916.5,1112 917.0,1081 917.5,1105 918.0,1093 918.5,1087 918.9,1089 919.4,1100 919.9,1109 920.4,1098 920.8,1079 921.3,1115 921.8,1095 922.3,1081 922.7,1105 923.2,1094 923.7,1112 924.2,1080 924.7,1099 925.1,1094 925.6,1080 926.1,1110 926.6,1102 927.0,1107 927.5,1089 928.0,1086 928.5,1105 928.9,1084 929.4,1094 929.9,1104 930.4,1081 930.9,1107 931.3,1112 931.8,1087 932.3,1078 932.8,1088 933.2,1104 933.7,1064 934.2,1107 934.7,1090 935.1,1099 935.6,1079 936.1,1097 936.6,1086 937.1,1094 937.5,1099 938.0,1102 938.5,1090 939.0,1084 939.4,1084 939.9,1086 940.4,1100 940.9,1082 941.3,1059 941.8,1081 942.3,1089 942.8,1092 943.3,1104 943.7,1096 944.2,1079 944.7,1099 945.2,1085 945.6,1094 946.1,1096 946.6,1069 947.1,1089 947.5,1103 948.0,1080 948.5,1085 949.0,1087 949.5,1091 949.9,1061 950.4,1074 950.9,1088 951.4,1092 951.8,1086 952.3,1064 952.8,1066 953.3,1084 953.7,1061 954.2,1086 954.7,1081 955.2,1067 955.7,1089 956.1,1083 956.6,1076 957.1,1090 957.6,1101 958.0,1088 958.5,1073 959.0,1059 959.5,1060 959.9,1073 960.4,1077 960.9,1046 961.4,1072 961.9,1078 962.3,1085 962.8,1061 963.3,1081 963.8,1064 964.2,1057 964.7,1052 965.2,1050 965.7,1071 966.1,1067 966.6,1063 967.1,1056 967.6,1067 968.1,1061 968.5,1061 969.0,1082 969.5,1058 970.0,1064 970.4,1063 970.9,1046 971.4,1070 971.9,1062 972.3,1049 972.8,1057 973.3,1054 973.8,1058 974.3,1047 974.7,1047 975.2,1063 975.7,1052 976.2,1064 976.6,1048 977.1,1069 977.6,1054 978.1,1046 978.5,1042 979.0,1033 979.5,1023 980.0,1058 980.5,1037 980.9,1041 981.4,1050 981.9,1013 982.4,1029 982.8,1043 983.3,1043 983.8,1053 984.3,1027 984.7,1038 985.2,1028 985.7,1012 986.2,1029 986.6,1015 987.1,990 987.6,1008 988.1,1031 988.6,1011 989.0,1011 989.5,1027 990.0,1009 990.5,999 990.9,1001 991.4,999 991.9,1001 992.4,1009 992.8,994 993.3,1013 993.8,997 994.3,968 994.8,976 995.2,990 995.7,970 996.2,981 996.7,977 997.1,989 997.6,979 998.1,981 998.6,992 999.0,993 999.5,972 1000.0,988 1000.5,972 1001.0,974 1001.4,942 1001.9,973 1002.4,954 1002.9,954 1003.3,952 1003.8,959 1004.3,961 1004.8,955 1005.2,975 1005.7,937 1006.2,967 1006.7,960 1007.2,941 1007.6,964 1008.1,968 1008.6,944 1009.1,954 1009.5,986 1010.0,954 1010.5,953 1011.0,945 1011.4,968 1011.9,942 1012.4,973 1012.9,976 1013.4,981 1013.8,961 1014.3,960 1014.8,977 1015.3,991 1015.7,969 1016.2,956 1016.7,985 1017.2,1006 1017.6,985 1018.1,964 1018.6,979 1019.1,990 1019.6,991 1020.0,1000 1020.5,978 1021.0,1001 1021.5,995 1021.9,976 1022.4,982 1022.9,996 1023.4,1011 1023.8,1001 1024.3,1045 1024.8,995 1025.3,989 1025.8,1028 1026.2,1008 1026.7,1007 1027.2,1011 1027.7,1041 1028.1,1003 1028.6,1009 1029.1,1001 1029.6,1024 1030.0,1029 1030.5,1004 1031.0,1012 1031.5,1022 1032.0,1013 1032.4,1014 1032.9,1015 1033.4,1024 1033.9,1022 1034.3,1040 1034.8,1032 1035.3,1060 1035.8,1030 1036.2,1040 1036.7,1053 1037.2,1069 1037.7,1048 1038.2,1048 1038.6,1052 1039.1,1036 1039.6,1022 1040.1,1031 1040.5,1051 1041.0,1049 1041.5,1056 1042.0,1055 1042.4,1074 1042.9,1049 1043.4,1058 1043.9,1077 1044.4,1066 1044.8,1043 1045.3,1082 1045.8,1073 1046.3,1080 1046.7,1050 1047.2,1066 1047.7,1099 1048.2,1082 1048.6,1068 1049.1,1080 1049.6,1070 1050.1,1067 1050.6,1050 1051.0,1076 1051.5,1069 1052.0,1073 1052.5,1066 1052.9,1090 1053.4,1096 1053.9,1095 1054.4,1088 1054.8,1087 1055.3,1078 1055.8,1058 1056.3,1105 1056.8,1085 1057.2,1072 1057.7,1080 1058.2,1077 1058.7,1071 1059.1,1085 1059.6,1074 1060.1,1070 1060.6,1087 1061.0,1079 1061.5,1074 1062.0,1085 1062.5,1092 1062.9,1081 1063.4,1087 1063.9,1075 1064.4,1088 1064.9,1100 1065.3,1086 1065.8,1096 1066.3,1076 1066.8,1083 1067.2,1080 1067.7,1057 1068.2,1086 1068.7,1099 1069.1,1075 1069.6,1099 1070.1,1089 1070.6,1097 1071.1,1107 1071.5,1082 1072.0,1082 1072.5,1091 1073.0,1082 1073.4,1069 1073.9,1100 1074.4,1096 1074.9,1087 1075.3,1084 1075.8,1080 1076.3,1081 1076.8,1104 1077.3,1108 1077.7,1098 1078.2,1086 1078.7,1097 1079.2,1124 1079.6,1079 1080.1,1086 1080.6,1084 1081.1,1082 1081.5,1082 1082.0,1079 1082.5,1089 1083.0,1079 1083.5,1106 1083.9,1096 1084.4,1095 1084.9,1089 1085.4,1109 1085.8,1101 1086.3,1096 1086.8,1101 1087.3,1096 1087.7,1101 1088.2,1110 1088.7,1096 1089.2,1089 1089.7,1097 1090.1,1105 1090.6,1097 1091.1,1102 1091.6,1108 1092.0,1090 1092.5,1114 1093.0,1081 1093.5,1094 1093.9,1096 1094.4,1103 1094.9,1090 1095.4,1081 1095.9,1081 1096.3,1093 1096.8,1089 1097.3,1095 1097.8,1089 1098.2,1115 1098.7,1101 1099.2,1106 1099.7,1082 1100.1,1086 1100.6,1112 1101.1,1108 1101.6,1072 1102.1,1106 1102.5,1095 1103.0,1118 1103.5,1130 1104.0,1114 1104.4,1100 1104.9,1088 1105.4,1079 1105.9,1085 1106.3,1096 1106.8,1103 1107.3,1097 1107.8,1094 1108.3,1085 1108.7,1114 1109.2,1101 1109.7,1104 1110.2,1100 1110.6,1090 1111.1,1111 1111.6,1089 1112.1,1086 1112.5,1084 1113.0,1094 1113.5,1097 1114.0,1092 1114.5,1109 1114.9,1106 1115.4,1104 1115.9,1106 1116.4,1070 1116.8,1103 1117.3,1096 1117.8,1075 1118.3,1100 1118.7,1111 1119.2,1095 1119.7,1104 1120.2,1110 1120.7,1103 1121.1,1112 1121.6,1109 1122.1,1099 1122.6,1102 1123.0,1089 1123.5,1112 1124.0,1087 1124.5,1118 1124.9,1087 1125.4,1105 1125.9,1100 1126.4,1106 1126.9,1108 1127.3,1096 1127.8,1098 1128.3,1100 1128.8,1109 1129.2,1108 1129.7,1102 1130.2,1088 1130.7,1091 1131.1,1085 1131.6,1110 1132.1,1100 1132.6,1102 1133.1,1097 1133.5,1081 1134.0,1100 1134.5,1084 1135.0,1089 1135.4,1087 1135.9,1093 1136.4,1108 1136.9,1093 1137.3,1108 1137.8,1101 1138.3,1078 1138.8,1096 1139.2,1069 1139.7,1099 1140.2,1097 1140.7,1101 1141.2,1086 1141.6,1076 1142.1,1084 1142.6,1062 1143.1,1057 1143.5,1082 1144.0,1065 1144.5,1081 1145.0,1098 1145.4,1096 1145.9,1102 1146.4,1078 1146.9,1078 1147.4,1079 1147.8,1093 1148.3,1065 1148.8,1088 1149.3,1087 1149.7,1079 1150.2,1092 1150.7,1071 1151.2,1074 1151.6,1110 1152.1,1082 1152.6,1081 1153.1,1102 1153.6,1080 1154.0,1085 1154.5,1083 1155.0,1054 1155.5,1080 1155.9,1082 1156.4,1095 1156.9,1072 1157.4,1053 1157.8,1051 1158.3,1071 1158.8,1079 1159.3,1060 1159.8,1084 1160.2,1070 1160.7,1065 1161.2,1052 1161.7,1049 1162.1,1069 1162.6,1064 1163.1,1067 1163.6,1063 1164.0,1071 1164.5,1068 1165.0,1050 1165.5,1088 1166.0,1067 1166.4,1070 1166.9,1060 1167.4,1048 1167.9,1070 1168.3,1069 1168.8,1060 1169.3,1044 1169.8,1058 1170.2,1073 1170.7,1049 1171.2,1056 1171.7,1055 1172.2,1051 1172.6,1057 1173.1,1063 1173.6,1049 1174.1,1055 1174.5,1010 1175.0,1052 1175.5,1033 1176.0,1023 1176.4,1045 1176.9,1020 1177.4,1048 1177.9,1045 1178.4,1019 1178.8,1025 1179.3,1016 1179.8,1023 1180.3,1008 1180.7,1039 1181.2,1025 1181.7,1035 1182.2,1030 1182.6,1020 1183.1,1021 1183.6,1021 1184.1,1039 1184.6,1036 1185.0,1048 1185.5,1046 1186.0,1043 1186.5,1023 1186.9,1028 1187.4,1029 1187.9,1037 1188.4,1029 1188.8,1036 1189.3,1055 1189.8,1022 1190.3,1047 1190.8,1035 1191.2,1047 1191.7,1047 1192.2,1072 1192.7,1051 1193.1,1073 1193.6,1028 1194.1,1043 1194.6,1057 1195.0,1085 1195.5,1043 1196.0,1064 1196.5,1083 1197.0,1076 1197.4,1056 1197.9,1059 1198.4,1071 1198.9,1083 1199.3,1083 1199.8,1072 1200.3,1058 1200.8,1078 1201.2,1084 1201.7,1051 1202.2,1075 1202.7,1070 1203.2,1088 1203.6,1069 1204.1,1076 1204.6,1093 1205.1,1081 1205.5,1092 1206.0,1061 1206.5,1095 1207.0,1069 1207.4,1093 1207.9,1088 1208.4,1072 1208.9,1108 1209.4,1090 1209.8,1093 1210.3,1071 1210.8,1111 1211.3,1086 1211.7,1068 1212.2,1097 1212.7,1084 1213.2,1092 1213.6,1100 1214.1,1097 1214.6,1067 1215.1,1082 1215.5,1103 1216.0,1092 1216.5,1101 1217.0,1113 1217.5,1086 1217.9,1092 1218.4,1098 1218.9,1106 1219.4,1089 1219.8,1092 1220.3,1108 1220.8,1088 1221.3,1093 1221.7,1101 1222.2,1094 1222.7,1106 1223.2,1088 1223.7,1088 1224.1,1097 1224.6,1093 1225.1,1111 1225.6,1095 1226.0,1105 1226.5,1095 1227.0,1089 1227.5,1081 1227.9,1089 1228.4,1107 1228.9,1090 1229.4,1085 1229.9,1120 1230.3,1100 1230.8,1095 1231.3,1095 1231.8,1095 1232.2,1108 1232.7,1106 1233.2,1111 1233.7,1101 1234.1,1108 1234.6,1118 1235.1,1086 1235.6,1092 1236.1,1115 1236.5,1092 1237.0,1099 1237.5,1117 1238.0,1099 1238.4,1102 1238.9,1106 1239.4,1086 1239.9,1106 1240.3,1105 1240.8,1097 1241.3,1098 1241.8,1101 1242.3,1097 1242.7,1111 1243.2,1129 1243.7,1111 1244.2,1087 1244.6,1105 1245.1,1087 1245.6,1122 1246.1,1092 1246.5,1106 1247.0,1105 1247.5,1100 1248.0,1104 1248.5,1087 1248.9,1108 1249.4,1127 1249.9,1090 1250.4,1104 1250.8,1117 1251.3,1104 1251.8,1111 1252.3,1116 1252.7,1095 1253.2,1104 1253.7,1100 1254.2,1106 1254.7,1125 1255.1,1125 1255.6,1109 1256.1,1118 1256.6,1094 1257.0,1103 1257.5,1131 1258.0,1112 1258.5,1114 1258.9,1111 1259.4,1096 1259.9,1121 1260.4,1113 1260.9,1106 1261.3,1119 1261.8,1116 1262.3,1105 1262.8,1134 1263.2,1107 1263.7,1109 1264.2,1105 1264.7,1115 1265.1,1097 1265.6,1115 1266.1,1120 1266.6,1110 1267.1,1103 1267.5,1102 1268.0,1086 1268.5,1102 1269.0,1129 1269.4,1096 1269.9,1114 1270.4,1112 1270.9,1113 1271.3,1104 1271.8,1099 1272.3,1119 1272.8,1112 1273.3,1123 1273.7,1118 1274.2,1134 1274.7,1114 1275.2,1122 1275.6,1114 1276.1,1120 1276.6,1110 1277.1,1115 1277.5,1104 1278.0,1116 1278.5,1097 1279.0,1110 1279.5,1107 1279.9,1114 1280.4,1100 1280.9,1116 1281.4,1098 1281.8,1112 1282.3,1102 1282.8,1103 1283.3,1121 1283.7,1113 1284.2,1128 1284.7,1098 1285.2,1117 1285.7,1112 1286.1,1138 1286.6,1124 1287.1,1103 1287.6,1103 1288.0,1112 1288.5,1106 1289.0,1109 1289.5,1132 1289.9,1107 1290.4,1124 1290.9,1115 1291.4,1117 1291.8,1121 1292.3,1129 1292.8,1114 1293.3,1110 1293.8,1142 1294.2,1126 1294.7,1116 1295.2,1104 1295.7,1100 1296.1,1108 1296.6,1108 1297.1,1108 1297.6,1109 1298.0,1107 1298.5,1123 1299.0,1128 1299.5,1128 1300.0,1092 1300.4,1124 1300.9,1124 1301.4,1125 1301.9,1103 1302.3,1107 1302.8,1125 1303.3,1117 1303.8,1104 1304.2,1104 1304.7,1106 1305.2,1108 1305.7,1131 1306.2,1109 1306.6,1101 1307.1,1124 1307.6,1123 1308.1,1107 1308.5,1103 1309.0,1112 1309.5,1120 1310.0,1105 1310.4,1120 1310.9,1108 1311.4,1124 1311.9,1103 1312.4,1108 1312.8,1122 1313.3,1121 1313.8,1121 1314.3,1093 1314.7,1114 1315.2,1102 1315.7,1117 1316.2,1086 1316.6,1125 1317.1,1133 1317.6,1107 1318.1,1112 1318.6,1102 1319.0,1097 1319.5,1092 1320.0,1118 1320.5,1114 1320.9,1118 1321.4,1114 1321.9,1125 1322.4,1102 1322.8,1129 1323.3,1130 1323.8,1103 1324.3,1109 1324.8,1126 1325.2,1125 1325.7,1119 1326.2,1111 1326.7,1105 1327.1,1109 1327.6,1127 1328.1,1101 1328.6,1112 1329.0,1117 1329.5,1124 1330.0,1114 1330.5,1111 1331.0,1123 1331.4,1115 1331.9,1097 1332.4,1113 1332.9,1114 1333.3,1132 1333.8,1120 1334.3,1120 1334.8,1104 1335.2,1124 1335.7,1086 1336.2,1143 1336.7,1108 1337.2,1112 1337.6,1098 1338.1,1108 1338.6,1129 1339.1,1108 1339.5,1100 1340.0,1122 1340.5,1108 1341.0,1098 1341.4,1096 1341.9,1111 1342.4,1117 1342.9,1118 1343.4,1113 1343.8,1130 1344.3,1110 1344.8,1118 1345.3,1112 1345.7,1119 1346.2,1115 1346.7,1122 1347.2,1117 1347.6,1131 1348.1,1103 1348.6,1121 1349.1,1112 1349.6,1109 1350.0,1110 1350.5,1087 1351.0,1116 1351.5,1112 1351.9,1108 1352.4,1114 1352.9,1118 1353.4,1098 1353.8,1117 1354.3,1124 1354.8,1112 1355.3,1125 1355.8,1107 1356.2,1140 1356.7,1122 1357.2,1099 1357.7,1122 1358.1,1114 1358.6,1109 1359.1,1103 1359.6,1109 1360.0,1117 1360.5,1123 1361.0,1118 1361.5,1120 1362.0,1134 1362.4,1112 1362.9,1120 1363.4,1098 1363.9,1113 1364.3,1112 1364.8,1126 1365.3,1113 1365.8,1119 1366.2,1132 1366.7,1106 1367.2,1129 1367.7,1109 1368.2,1102 1368.6,1132 1369.1,1138 1369.6,1123 1370.1,1115 1370.5,1110 1371.0,1102 1371.5,1095 1372.0,1124 1372.4,1124 1372.9,1107 1373.4,1113 1373.9,1115 1374.3,1103 1374.8,1102 1375.3,1115 1375.8,1118 1376.3,1103 1376.7,1100 1377.2,1101 1377.7,1119 1378.2,1126 1378.6,1117 1379.1,1094 1379.6,1122 1380.1,1104 1380.5,1104 1381.0,1097 1381.5,1129 1382.0,1110 1382.5,1106 1382.9,1117 1383.4,1113 1383.9,1096 1384.4,1109 1384.8,1137 1385.3,1102 1385.8,1112 1386.3,1121 1386.7,1126 1387.2,1106 1387.7,1113 1388.2,1092 1388.7,1116 1389.1,1122 1389.6,1113 1390.1,1119 1390.6,1097 1391.0,1133 1391.5,1118 1392.0,1110 1392.5,1125 1392.9,1111 1393.4,1124 1393.9,1109 1394.4,1103 1394.9,1093 1395.3,1109 1395.8,1097 1396.3,1117 1396.8,1138 1397.2,1110 1397.7,1113 1398.2,1112 1398.7,1099 1399.1,1093 1399.6,1092 1400.1,1109 1400.6,1076 1401.1,1096 1401.5,1123 1402.0,1116 1402.5,1098 1403.0,1099 1403.4,1087 1403.9,1116 1404.4,1094 1404.9,1107 1405.3,1118 1405.8,1111 1406.3,1088 1406.8,1106 1407.3,1128 1407.7,1108 1408.2,1105 1408.7,1125 1409.2,1104 1409.6,1104 1410.1,1118 1410.6,1113 1411.1,1095 1411.5,1104 1412.0,1085 1412.5,1101 1413.0,1114 1413.5,1100 1413.9,1129 1414.4,1089 1414.9,1111 1415.4,1094 1415.8,1108 1416.3,1105 1416.8,1114 1417.3,1121 1417.7,1117 1418.2,1100 1418.7,1108 1419.2,1113 1419.7,1127 1420.1,1120 1420.6,1103 1421.1,1100 1421.6,1110 1422.0,1123 1422.5,1120 1423.0,1095 1423.5,1101 1423.9,1101 1424.4,1107 1424.9,1112 1425.4,1128 1425.9,1098 1426.3,1109 1426.8,1113 1427.3,1131 1427.8,1096 1428.2,1112 1428.7,1110 1429.2,1096 1429.7,1108 1430.1,1131 1430.6,1108 1431.1,1091 1431.6,1105 1432.1,1121 1432.5,1102 1433.0,1118 1433.5,1092 1434.0,1108 1434.4,1114 1434.9,1080 1435.4,1117 1435.9,1120 1436.3,1103 1436.8,1119 1437.3,1110 1437.8,1092 1438.3,1099 1438.7,1113 1439.2,1114 1439.7,1090 1440.2,1139 1440.6,1120 1441.1,1104 1441.6,1102 1442.1,1101 1442.5,1102 1443.0,1101 1443.5,1109 1444.0,1104 1444.5,1114 1444.9,1117 1445.4,1090 1445.9,1109 1446.4,1107 1446.8,1112 1447.3,1112 1447.8,1112 1448.3,1109 1448.7,1102 1449.2,1092 1449.7,1112 1450.2,1097 1450.6,1104 1451.1,1109 1451.6,1122 1452.1,1108 1452.6,1109 1453.0,1095 1453.5,1117 1454.0,1118 1454.5,1109 1454.9,1111 1455.4,1098 1455.9,1099 1456.4,1119 1456.8,1103 1457.3,1121 1457.8,1117 1458.3,1104 1458.8,1122 1459.2,1107 1459.7,1117 1460.2,1089 1460.7,1106 1461.1,1117 1461.6,1129 1462.1,1084 1462.6,1110 1463.0,1114 1463.5,1108 1464.0,1100 1464.5,1115 1465.0,1111 1465.4,1096 1465.9,1097 1466.4,1101 1466.9,1120 1467.3,1110 1467.8,1108 1468.3,1100 1468.8,1106 1469.2,1099 1469.7,1110 1470.2,1126 1470.7,1110 1471.2,1114 1471.6,1116 1472.1,1101 1472.6,1103 1473.1,1127 1473.5,1100 1474.0,1103 1474.5,1106 1475.0,1112 1475.4,1101 1475.9,1094 1476.4,1086 1476.9,1110 1477.4,1098 1477.8,1096 1478.3,1103 1478.8,1091 1479.3,1091 1479.7,1114 1480.2,1123 1480.7,1112 1481.2,1090 1481.6,1120 1482.1,1118 1482.6,1103 1483.1,1097 1483.6,1109 1484.0,1130 1484.5,1107 1485.0,1098 1485.5,1102 1485.9,1122 1486.4,1102 1486.9,1102 1487.4,1096 1487.8,1097 1488.3,1097 1488.8,1130 1489.3,1098 1489.8,1114 1490.2,1132 1490.7,1122 1491.2,1102 1491.7,1100 1492.1,1097 1492.6,1088 1493.1,1121 1493.6,1089 1494.0,1125 1494.5,1106 1495.0,1119 1495.5,1097 1496.0,1122 1496.4,1112 1496.9,1106 1497.4,1100 1497.9,1105 1498.3,1109 1498.8,1107 1499.3,1106 1499.8,1121 1500.2,1098 1500.7,1106 1501.2,1105 1501.7,1107 1502.2,1115 1502.6,1110 1503.1,1108 1503.6,1094 1504.1,1113 1504.5,1120 1505.0,1088 1505.5,1112 1506.0,1099 1506.4,1118 1506.9,1091 1507.4,1124 1507.9,1099 1508.4,1103 1508.8,1125 1509.3,1068 1509.8,1101 1510.3,1107 1510.7,1105 1511.2,1104 1511.7,1110 1512.2,1096 1512.6,1093 1513.1,1116 1513.6,1086 1514.1,1107 1514.6,1095 1515.0,1120 1515.5,1097 1516.0,1111 1516.5,1107 1516.9,1111 1517.4,1111 1517.9,1108 1518.4,1114 1518.8,1101 1519.3,1109 1519.8,1110 1520.3,1093 1520.8,1111 1521.2,1108 1521.7,1112 1522.2,1105 1522.7,1104 1523.1,1107 1523.6,1112 1524.1,1098 1524.6,1127 1525.0,1085 1525.5,1117 1526.0,1105 1526.5,1118 1526.9,1133 1527.4,1107 1527.9,1096 1528.4,1104 1528.9,1103 1529.3,1116 1529.8,1100 1530.3,1103 1530.8,1103 1531.2,1097 1531.7,1097 1532.2,1094 1532.7,1076 1533.1,1098 1533.6,1094 1534.1,1109 1534.6,1098 1535.1,1096 1535.5,1107 1536.0,1111 1536.5,1092 1537.0,1123 1537.4,1097 1537.9,1102 1538.4,1097 1538.9,1122 1539.3,1095 1539.8,1095 1540.3,1112 1540.8,1107 1541.3,1096 1541.7,1102 1542.2,1103 1542.7,1130 1543.2,1118 1543.6,1092 1544.1,1106 1544.6,1117 1545.1,1101 1545.5,1123 1546.0,1105 1546.5,1104 1547.0,1132 1547.5,1115 1547.9,1093 1548.4,1104 1548.9,1113 1549.4,1105 1549.8,1100 1550.3,1121 1550.8,1107 1551.3,1094 1551.7,1096 1552.2,1095 1552.7,1096 1553.2,1121 1553.7,1095 1554.1,1120 1554.6,1115 1555.1,1107 1555.6,1109 1556.0,1096 1556.5,1109 1557.0,1112 1557.5,1128 1557.9,1094 1558.4,1109 1558.9,1068 1559.4,1112 1559.9,1121 1560.3,1103 1560.8,1122 1561.3,1099 1561.8,1122 1562.2,1114 1562.7,1109 1563.2,1104 1563.7,1090 1564.1,1104 1564.6,1112 1565.1,1109 1565.6,1106 1566.1,1109 1566.5,1098 1567.0,1112 1567.5,1108 1568.0,1111 1568.4,1114 1568.9,1100 1569.4,1104 1569.9,1106 1570.3,1119 1570.8,1117 1571.3,1102 1571.8,1109 1572.3,1098 1572.7,1100 1573.2,1097 1573.7,1114 1574.2,1134 1574.6,1093 1575.1,1104 1575.6,1121 1576.1,1091 1576.5,1113 1577.0,1098 1577.5,1116 1578.0,1106 1578.5,1095 1578.9,1094 1579.4,1092 1579.9,1117 1580.4,1102 1580.8,1093 1581.3,1106 1581.8,1112 1582.3,1116 1582.7,1107 1583.2,1113 1583.7,1092 1584.2,1114 1584.7,1113 1585.1,1105 1585.6,1101 1586.1,1101 1586.6,1107 1587.0,1098 1587.5,1117 1588.0,1096 1588.5,1110 1588.9,1130 1589.4,1131 1589.9,1110 1590.4,1112 1590.9,1100 1591.3,1125 1591.8,1114 1592.3,1131 1592.8,1129 1593.2,1122 1593.7,1106 1594.2,1123 1594.7,1093 1595.1,1130 1595.6,1108 1596.1,1120 1596.6,1113 1597.0,1125 1597.5,1124 1598.0,1120 1598.5,1103 1599.0,1126 1599.4,1117 1599.9,1099 1600.4,1106 1600.9,1115 1601.3,1088 1601.8,1113 1602.3,1118 1602.8,1116 1603.2,1119 1603.7,1101 1604.2,1106 1604.7,1128 1605.2,1097 1605.6,1111 1606.1,1127 1606.6,1112 1607.1,1095 1607.5,1119 1608.0,1114 1608.5,1117 1609.0,1100 1609.4,1128 1609.9,1124 1610.4,1131 1610.9,1109 1611.4,1138 1611.8,1120 1612.3,1123 1612.8,1110 1613.3,1096 1613.7,1101 1614.2,1091 1614.7,1099 1615.2,1120 1615.6,1116 1616.1,1118 1616.6,1111 1617.1,1117 1617.6,1118 1618.0,1121 1618.5,1097 1619.0,1137 1619.5,1102 1619.9,1098 1620.4,1115 1620.9,1128 1621.4,1116 1621.8,1114 1622.3,1115 1622.8,1120 1623.3,1104 1623.8,1106 1624.2,1114 1624.7,1112 1625.2,1111 1625.7,1131 1626.1,1119 1626.6,1078 1627.1,1117 1627.6,1116 1628.0,1110 1628.5,1099 1629.0,1120 1629.5,1121 1630.0,1128 1630.4,1115 1630.9,1098 1631.4,1134 1631.9,1098 1632.3,1112 1632.8,1118 1633.3,1125 1633.8,1114 1634.2,1104 1634.7,1100 1635.2,1115 1635.7,1120 1636.2,1105 1636.6,1113 1637.1,1125 1637.6,1109 1638.1,1115 1638.5,1105 1639.0,1144 1639.5,1113 1640.0,1113 1640.4,1116 1640.9,1109 1641.4,1111 1641.9,1108 1642.4,1112 1642.8,1120 1643.3,1109 1643.8,1127 1644.3,1109 1644.7,1124 1645.2,1116 1645.7,1113 1646.2,1098 1646.6,1127 1647.1,1110 1647.6,1106 1648.1,1124 1648.6,1118 1649.0,1109 1649.5,1104 1650.0,1105 1650.5,1120 1650.9,1115 1651.4,1098 1651.9,1132 1652.4,1107 1652.8,1104 1653.3,1107 1653.8,1101 1654.3,1108 1654.8,1107 1655.2,1107 1655.7,1117 1656.2,1112 1656.7,1117 1657.1,1129 1657.6,1109 1658.1,1109 1658.6,1100 1659.0,1092 1659.5,1118 1660.0,1123 1660.5,1119 1661.0,1114 1661.4,1121 1661.9,1105 1662.4,1098 1662.9,1093 1663.3,1118 1663.8,1089 1664.3,1108 1664.8,1102 1665.2,1105 1665.7,1105 1666.2,1098 1666.7,1118 1667.2,1111 1667.6,1107 1668.1,1123 1668.6,1113 1669.1,1114 1669.5,1104 1670.0,1106 1670.5,1096 1671.0,1091 1671.4,1085 1671.9,1095 1672.4,1104 1672.9,1121 1673.3,1128 1673.8,1100 1674.3,1091 1674.8,1111 1675.3,1116 1675.7,1110 1676.2,1103 1676.7,1077 1677.2,1103 1677.6,1111 1678.1,1097 1678.6,1092 1679.1,1113 1679.5,1112 1680.0,1108 1680.5,1118 1681.0,1106 1681.5,1109 1681.9,1125 1682.4,1112 1682.9,1106 1683.4,1104 1683.8,1100 1684.3,1112 1684.8,1120 1685.3,1119 1685.7,1092 1686.2,1120 1686.7,1119 1687.2,1083 1687.7,1087 1688.1,1104 1688.6,1107 1689.1,1113 1689.6,1107 1690.0,1098 1690.5,1123 1691.0,1113 1691.5,1120 1691.9,1067 1692.4,1096 1692.9,1114 1693.4,1118 1693.9,1093 1694.3,1105 1694.8,1106 1695.3,1107 1695.8,1079 1696.2,1105 1696.7,1101 1697.2,1123 1697.7,1099 1698.1,1123 1698.6,1097 1699.1,1110 1699.6,1114 1700.1,1123 1700.5,1108 1701.0,1117 1701.5,1087 1702.0,1113 1702.4,1094 1702.9,1101 1703.4,1078 1703.9,1119 1704.3,1095 1704.8,1113 1705.3,1112 1705.8,1098 1706.3,1094 1706.7,1094 1707.2,1100 1707.7,1113 1708.2,1112 1708.6,1119 1709.1,1091 1709.6,1112 1710.1,1082 1710.5,1100 1711.0,1122 1711.5,1106 1712.0,1099 1712.5,1105 1712.9,1118 1713.4,1105 1713.9,1093 1714.4,1100 1714.8,1111 1715.3,1105 1715.8,1099 1716.3,1112 1716.7,1098 1717.2,1095 1717.7,1111 1718.2,1106 1718.7,1092 1719.1,1117 1719.6,1113 1720.1,1103 1720.6,1081 1721.0,1104 1721.5,1092 1722.0,1123 1722.5,1119 1722.9,1072 1723.4,1094 1723.9,1113 1724.4,1101 1724.9,1111 1725.3,1091 1725.8,1102 1726.3,1116 1726.8,1112 1727.2,1113 1727.7,1100 1728.2,1077 1728.7,1107 1729.1,1103 1729.6,1109 1730.1,1116 1730.6,1113 1731.1,1111 1731.5,1107 1732.0,1105 1732.5,1125 1733.0,1099 1733.4,1104 1733.9,1113 1734.4,1087 1734.9,1104 1735.3,1106 1735.8,1083 1736.3,1106 1736.8,1110 1737.3,1092 1737.7,1118 1738.2,1103 1738.7,1096 1739.2,1092 1739.6,1103 1740.1,1093 1740.6,1080 1741.1,1099 1741.5,1106 1742.0,1118 1742.5,1100 1743.0,1099 1743.5,1101 1743.9,1102 1744.4,1109 1744.9,1104 1745.4,1092 1745.8,1071 1746.3,1084 1746.8,1095 1747.3,1082 1747.7,1080 1748.2,1107 1748.7,1096 1749.2,1100 1749.7,1079 1750.1,1086 1750.6,1088 1751.1,1096 1751.6,1100 1752.0,1093 1752.5,1086 1753.0,1105 1753.5,1087 1753.9,1104 1754.4,1090 1754.9,1085 1755.4,1068 1755.8,1084 1756.3,1086 1756.8,1080 1757.3,1102 1757.8,1061 1758.2,1110 1758.7,1081 1759.2,1111 1759.7,1089 1760.1,1076 1760.6,1063 1761.1,1087 1761.6,1072 1762.0,1093 1762.5,1081 1763.0,1075 1763.5,1098 1764.0,1088 1764.4,1097 1764.9,1066 1765.4,1080 1765.9,1085 1766.3,1091 1766.8,1075 1767.3,1090 1767.8,1068 1768.2,1073 1768.7,1088 1769.2,1091 1769.7,1082 1770.2,1088 1770.6,1094 1771.1,1075 1771.6,1095 1772.1,1081 1772.5,1094 1773.0,1040 1773.5,1077 1774.0,1079 1774.4,1075 1774.9,1094 1775.4,1083 1775.9,1097 1776.4,1088 1776.8,1065 1777.3,1072 1777.8,1059 1778.3,1059 1778.7,1084 1779.2,1107 1779.7,1103 1780.2,1073 1780.6,1106 1781.1,1096 1781.6,1112 1782.1,1086 1782.6,1100 1783.0,1078 1783.5,1137 1784.0,1086 1784.5,1097 1784.9,1089 1785.4,1080 1785.9,1107 1786.4,1099 1786.8,1088 1787.3,1086 1787.8,1080 1788.3,1099 1788.8,1080 1789.2,1097 1789.7,1103 1790.2,1088 1790.7,1099 1791.1,1096 1791.6,1094 1792.1,1107 1792.6,1113 1793.0,1099 1793.5,1073 1794.0,1120 1794.5,1099 1795.0,1102 1795.4,1078 1795.9,1095 1796.4,1099 1796.9,1090 1797.3,1082 1797.8,1075 1798.3,1085 1798.8,1084 1799.2,1102 1799.7,1086 1800.2,1082 1800.7,1088 1801.2,1103 1801.6,1078 1802.1,1092 1802.6,1103 1803.1,1097 1803.5,1110 1804.0,1110 1804.5,1092 1805.0,1099 1805.4,1095 1805.9,1112 1806.4,1097 1806.9,1111 1807.4,1121 1807.8,1089 1808.3,1119 1808.8,1092 1809.3,1116 1809.7,1100 1810.2,1106 1810.7,1104 1811.2,1102 1811.6,1101 1812.1,1103 1812.6,1108 1813.1,1097 1813.6,1094 1814.0,1091 1814.5,1097 1815.0,1110 1815.5,1096 1815.9,1089 1816.4,1101 1816.9,1118 1817.4,1115 1817.8,1111 1818.3,1110 1818.8,1117 1819.3,1097 1819.8,1111 1820.2,1128 1820.7,1097 1821.2,1111 1821.7,1100 1822.1,1110 1822.6,1102 1823.1,1097 1823.6,1096 1824.0,1097 1824.5,1124 1825.0,1104 1825.5,1092 1826.0,1116 1826.4,1125 1826.9,1101 1827.4,1127 1827.9,1112 1828.3,1103 1828.8,1120 1829.3,1115 1829.8,1108 1830.2,1120 1830.7,1134 1831.2,1104 1831.7,1126 1832.1,1102 1832.6,1110 1833.1,1127 1833.6,1133 1834.1,1112 1834.5,1127 1835.0,1092 1835.5,1112 1836.0,1105 1836.4,1114 1836.9,1121 1837.4,1125 1837.9,1129 1838.3,1104 1838.8,1111 1839.3,1124 1839.8,1109 1840.3,1131 1840.7,1115 1841.2,1116 1841.7,1124 1842.2,1119 1842.6,1112 1843.1,1115 1843.6,1112 1844.1,1101 1844.5,1122 1845.0,1117 1845.5,1117 1846.0,1129 1846.5,1120 1846.9,1125 1847.4,1114 1847.9,1123 1848.4,1107 1848.8,1109 1849.3,1109 1849.8,1116 1850.3,1120 1850.7,1105 1851.2,1115 1851.7,1107 1852.2,1123 1852.7,1101 1853.1,1111 1853.6,1110 1854.1,1112 1854.6,1121 1855.0,1103 1855.5,1110 1856.0,1112 1856.5,1130 1856.9,1128 1857.4,1115 1857.9,1129 1858.4,1118 1858.9,1138 1859.3,1108 1859.8,1132 1860.3,1112 1860.8,1099 1861.2,1126 1861.7,1108 1862.2,1106 1862.7,1141 1863.1,1138 1863.6,1123 1864.1,1111 1864.6,1123 1865.1,1108 1865.5,1131 1866.0,1121 1866.5,1125 1867.0,1110 1867.4,1118 1867.9,1127 1868.4,1128 1868.9,1114 1869.3,1135 1869.8,1145 1870.3,1123 1870.8,1108 1871.3,1142 1871.7,1108 1872.2,1131 1872.7,1125 1873.2,1143 1873.6,1122 1874.1,1113 1874.6,1126 1875.1,1125 1875.5,1138 1876.0,1105 1876.5,1119 1877.0,1133 1877.5,1107 1877.9,1131 1878.4,1136 1878.9,1128 1879.4,1125 1879.8,1144 1880.3,1132 1880.8,1114 1881.3,1118 1881.7,1129 1882.2,1101 1882.7,1108 1883.2,1125 1883.7,1117 1884.1,1126 1884.6,1130 1885.1,1140 1885.6,1140 1886.0,1124 1886.5,1116 1887.0,1122 1887.5,1121 1887.9,1111 1888.4,1088 1888.9,1136 1889.4,1121 1889.9,1128 1890.3,1103 1890.8,1101 1891.3,1122 1891.8,1139 1892.2,1109 1892.7,1126 1893.2,1135 1893.7,1114 1894.1,1135 1894.6,1123 1895.1,1120 1895.6,1141 1896.1,1097 1896.5,1138 1897.0,1106 1897.5,1104 1898.0,1125 1898.4,1129 1898.9,1114 1899.4,1133 1899.9,1123 1900.3,1097 1900.8,1129 1901.3,1114 1901.8,1135 1902.2,1135 1902.7,1124 1903.2,1102 1903.7,1116 1904.2,1122 1904.6,1127 1905.1,1104 1905.6,1135 1906.1,1136 1906.5,1125 1907.0,1120 1907.5,1118 1908.0,1120 1908.4,1128 1908.9,1132 1909.4,1144 1909.9,1122 1910.4,1124 1910.8,1127 1911.3,1136 1911.8,1124 1912.3,1131 1912.7,1128 1913.2,1110 1913.7,1127 1914.2,1116 1914.6,1115 1915.1,1135 1915.6,1111 1916.1,1119 1916.6,1122 1917.0,1113 1917.5,1112 1918.0,1123 1918.5,1114 1918.9,1129 1919.4,1142 1919.9,1128 1920.4,1127 1920.8,1131 1921.3,1121 1921.8,1132 1922.3,1106 1922.8,1127 1923.2,1139 1923.7,1136 1924.2,1132 1924.7,1111 1925.1,1133 1925.6,1121 1926.1,1134 1926.6,1123 1927.0,1113 1927.5,1111 1928.0,1126 1928.5,1126 1929.0,1117 1929.4,1130 1929.9,1114 1930.4,1122 1930.9,1127 1931.3,1139 1931.8,1116 1932.3,1102 1932.8,1132 1933.2,1127 1933.7,1126 1934.2,1116 1934.7,1120 1935.2,1106 1935.6,1136 1936.1,1133 1936.6,1122 1937.1,1135 1937.5,1123 1938.0,1136 1938.5,1114 1939.0,1131 1939.4,1105 1939.9,1132 1940.4,1126 1940.9,1115 1941.4,1139 1941.8,1124 1942.3,1131 1942.8,1132 1943.3,1121 1943.7,1113 1944.2,1135 1944.7,1120 1945.2,1124 1945.6,1150 1946.1,1119 1946.6,1105 1947.1,1127 1947.6,1123 1948.0,1123 1948.5,1118 1949.0,1119 1949.5,1114 1949.9,1090 1950.4,1137 1950.9,1145 1951.4,1120 1951.8,1115 1952.3,1135 1952.8,1130 1953.3,1127 1953.8,1133 1954.2,1120 1954.7,1135 1955.2,1148 1955.7,1120 1956.1,1135 1956.6,1129 1957.1,1143 1957.6,1136 1958.0,1141 1958.5,1136 1959.0,1124 1959.5,1134 1960.0,1119 1960.4,1123 1960.9,1121 1961.4,1122 1961.9,1134 1962.3,1134 1962.8,1149 1963.3,1118 1963.8,1141 1964.2,1131 1964.7,1134 1965.2,1118 1965.7,1119 1966.2,1157 1966.6,1119 1967.1,1147 1967.6,1139 1968.1,1145 1968.5,1129 1969.0,1140 1969.5,1156 1970.0,1143 1970.4,1134 1970.9,1124 1971.4,1137 1971.9,1145 1972.4,1149 1972.8,1137 1973.3,1122 1973.8,1142 1974.3,1131 1974.7,1130 1975.2,1144 1975.7,1122 1976.2,1124 1976.6,1118 1977.1,1143 1977.6,1131 1978.1,1140 1978.5,1133 1979.0,1117 1979.5,1130 1980.0,1132 1980.5,1135 1980.9,1118 1981.4,1136 1981.9,1115 1982.4,1140 1982.8,1134 1983.3,1122 1983.8,1124 1984.3,1128 1984.7,1146 1985.2,1135 1985.7,1146 1986.2,1128 1986.7,1139 1987.1,1146 1987.6,1133 1988.1,1147 1988.6,1117 1989.0,1137 1989.5,1136 1990.0,1139 1990.5,1149 1990.9,1141 1991.4,1134 1991.9,1139 1992.4,1127 1992.9,1146 1993.3,1128 1993.8,1135 1994.3,1134 1994.8,1139 1995.2,1126 1995.7,1136 1996.2,1140 1996.7,1119 1997.1,1159 1997.6,1163 1998.1,1119 1998.6,1132 1999.1,1162 1999.5,1126 2000.0,1121 2000.5,1131 2001.0,1131 2001.4,1166 2001.9,1137 2002.4,1114 2002.9,1139 2003.3,1129 2003.8,1125 2004.3,1141 2004.8,1145 2005.3,1152 2005.7,1133 2006.2,1134 2006.7,1134 2007.2,1138 2007.6,1140 2008.1,1143 2008.6,1152 2009.1,1132 2009.5,1149 2010.0,1140 2010.5,1137 2011.0,1150 2011.5,1146 2011.9,1163 2012.4,1148 2012.9,1135 2013.4,1130 2013.8,1142 2014.3,1138 2014.8,1136 2015.3,1161 2015.7,1140 2016.2,1149 2016.7,1122 2017.2,1142 2017.7,1133 2018.1,1135 2018.6,1143 2019.1,1161 2019.6,1118 2020.0,1139 2020.5,1156 2021.0,1119 2021.5,1133 2021.9,1133 2022.4,1132 2022.9,1125 2023.4,1124 2023.9,1148 2024.3,1144 2024.8,1144 2025.3,1137 2025.8,1129 2026.2,1144 2026.7,1143 2027.2,1137 2027.7,1131 2028.1,1152 2028.6,1113 2029.1,1145 2029.6,1127 2030.1,1143 2030.5,1160 2031.0,1142 2031.5,1117 2032.0,1126 2032.4,1136 2032.9,1149 2033.4,1147 2033.9,1146 2034.3,1123 2034.8,1120 2035.3,1143 2035.8,1173 2036.3,1139 2036.7,1151 2037.2,1141 2037.7,1141 2038.2,1129 2038.6,1155 2039.1,1149 2039.6,1143 2040.1,1138 2040.5,1143 2041.0,1135 2041.5,1152 2042.0,1140 2042.5,1132 2042.9,1157 2043.4,1135 2043.9,1127 2044.4,1133 2044.8,1142 2045.3,1152 2045.8,1151 2046.3,1150 2046.7,1150 2047.2,1144 2047.7,1151 2048.2,1140 2048.7,1152 2049.1,1161 2049.6,1151 2050.1,1131 2050.6,1129 2051.0,1141 2051.5,1152 2052.0,1146 2052.5,1142 2052.9,1133 2053.4,1131 2053.9,1144 2054.4,1146 2054.8,1141 2055.3,1139 2055.8,1154 2056.3,1121 2056.8,1160 2057.2,1138 2057.7,1133 2058.2,1136 2058.7,1150 2059.1,1124 2059.6,1134 2060.1,1129 2060.6,1158 2061.0,1130 2061.5,1129 2062.0,1120 2062.5,1154 2063.0,1143 2063.4,1129 2063.9,1162 2064.4,1127 2064.9,1146 2065.3,1133 2065.8,1144 2066.3,1156 2066.8,1143 2067.2,1151 2067.7,1144 2068.2,1117 2068.7,1150 2069.2,1132 2069.6,1150 2070.1,1140 2070.6,1150 2071.1,1146 2071.5,1151 2072.0,1127 2072.5,1131 2073.0,1143 2073.4,1141 2073.9,1152 2074.4,1140 2074.9,1121 2075.4,1162 2075.8,1144 2076.3,1140 2076.8,1142 2077.3,1121 2077.7,1160 2078.2,1118 2078.7,1136 2079.2,1114 2079.6,1129 2080.1,1151 2080.6,1148 2081.1,1121 2081.6,1143 2082.0,1145 2082.5,1141 2083.0,1132 2083.5,1132 2083.9,1117 2084.4,1145 2084.9,1137 2085.4,1139 2085.8,1140 2086.3,1150 2086.8,1132 2087.3,1155 2087.8,1127 2088.2,1127 2088.7,1134 2089.2,1135 2089.7,1139 2090.1,1130 2090.6,1137 2091.1,1118 2091.6,1134 2092.0,1117 2092.5,1132 2093.0,1122"/>
<polyline stroke="#ff00ff" points="185.5,816 186.0,836 186.5,835 186.9,819 187.4,819 187.9,828 188.4,820 188.8,815 189.3,843 189.8,809 190.3,843 190.7,823 191.2,829 191.7,820 192.2,823 192.7,839 193.1,822 193.6,836 194.1,817 194.6,833 195.0,828 195.5,804 196.0,836 196.5,826 196.9,813 197.4,831 197.9,816 198.4,812 198.9,828 199.3,844 199.8,830 200.3,834 200.8,814 201.2,848 201.7,852 202.2,835 202.7,838 203.1,847 203.6,832 204.1,834 204.6,846 205.1,846 205.5,854 206.0,815 206.5,820 207.0,832 207.4,820 207.9,849 208.4,829 208.9,826 209.3,859 209.8,842 210.3,832 210.8,836 211.3,858 211.7,832 212.2,852 212.7,836 213.2,828 213.6,828 214.1,828 214.6,849 215.1,838 215.5,837 216.0,854 216.5,826 217.0,838 217.5,829 217.9,850 218.4,842 218.9,858 219.4,848 219.8,825 220.3,842 220.8,842 221.3,850 221.7,812 222.2,795 222.7,837 223.2,840 223.7,842 224.1,843 224.6,821 225.1,837 225.6,840 226.0,826 226.5,875 227.0,830 227.5,854 227.9,856 228.4,862 228.9,833 229.4,845 229.8,847 230.3,858 230.8,841 231.3,833 231.8,843 232.2,842 232.7,832 233.2,836 233.7,838 234.1,838 234.6,835 235.1,846 235.6,816 236.0,849 236.5,843 237.0,842 237.5,820 238.0,858 238.4,856 238.9,859 239.4,840 239.9,850 240.3,830 240.8,850 241.3,858 241.8,842 242.2,840 242.7,841 243.2,833 243.7,828 244.2,798 244.6,853 245.1,857 245.6,847 246.1,840 246.5,849 247.0,847 247.5,832 248.0,834 248.4,860 248.9,844 249.4,854 249.9,850 250.4,848 250.8,843 251.3,862 251.8,849 252.3,829 252.7,825 253.2,847 253.7,819 254.2,840 254.6,846 255.1,842 255.6,849 256.1,827 256.6,854 257.0,849 257.5,854 258.0,836 258.5,846 258.9,824 259.4,854 259.9,852 260.4,863 260.8,872 261.3,844 261.8,855 262.3,852 262.8,842 263.2,851 263.7,833 264.2,837 264.7,839 265.1,842 265.6,844 266.1,831 266.6,837 267.0,836 267.5,852 268.0,853 268.5,840 269.0,827 269.4,830 269.9,826 270.4,833 270.9,850 271.3,851 271.8,838 272.3,817 272.8,835 273.2,826 273.7,825 274.2,829 274.7,844 275.2,836 275.6,824 276.1,820 276.6,837 277.1,850 277.5,837 278.0,833 278.5,842 279.0,823 279.4,859 279.9,820 280.4,842 280.9,849 281.4,812 281.8,839 282.3,844 282.8,837 283.3,841 283.7,852 284.2,846 284.7,848 285.2,839 285.6,830 286.1,821 286.6,848 287.1,821 287.6,828 288.0,827 288.5,862 289.0,837 289.5,830 289.9,833 290.4,823 290.9,834 291.4,838 291.8,824 292.3,831 292.8,838 293.3,823 293.8,820 294.2,835 294.7,829 295.2,838 295.7,851 296.1,846 296.6,857 297.1,824 297.6,819 298.0,835 298.5,830 299.0,831 299.5,834 299.9,849 300.4,815 300.9,821 301.4,830 301.9,832 302.3,831 302.8,797 303.3,857 303.8,828 304.2,837 304.7,842 305.2,853 305.7,847 306.1,843 306.6,833 307.1,854 307.6,847 308.1,836 308.5,828 309.0,842 309.5,846 310.0,830 310.4,838 310.9,819 311.4,838 311.9,819 312.3,819 312.8,843 313.3,848 313.8,821 314.3,838 314.7,817 315.2,801 315.7,824 316.2,838 316.6,830 317.1,834 317.6,820 318.1,828 318.5,828 319.0,836 319.5,830 320.0,838 320.5,825 320.9,822 321.4,833 321.9,851 322.4,827 322.8,828 323.3,819 323.8,827 324.3,835 324.7,811 325.2,824 325.7,811 326.2,841 326.7,822 327.1,815 327.6,831 328.1,818 328.6,810 329.0,819 329.5,815 330.0,857 330.5,814 330.9,832 331.4,817 331.9,862 332.4,814 332.9,815 333.3,816 333.8,829 334.3,838 334.8,805 335.2,812 335.7,843 336.2,805 336.7,816 337.1,814 337.6,820 338.1,818 338.6,813 339.1,800 339.5,811 340.0,843 340.5,816 341.0,783 341.4,815 341.9,788 342.4,813 342.9,815 343.3,832 343.8,827 344.3,810 344.8,812 345.3,802 345.7,799 346.2,827 346.7,806 347.2,809 347.6,825 348.1,815 348.6,797 349.1,804 349.5,790 350.0,800 350.5,760 351.0,818 351.5,793 351.9,803 352.4,813 352.9,791 353.4,805 353.8,780 354.3,804 354.8,816 355.3,805 355.7,812 356.2,805 356.7,787 357.2,763 357.7,800 358.1,785 358.6,793 359.1,797 359.6,794 360.0,783 360.5,798 361.0,795 361.5,791 361.9,778 362.4,800 362.9,782 363.4,794 363.9,784 364.3,789 364.8,772 365.3,781 365.8,787 366.2,768 366.7,789 367.2,794 367.7,773 368.1,760 368.6,794 369.1,769 369.6,777 370.1,766 370.5,763 371.0,779 371.5,787 372.0,757 372.4,764 372.9,775 373.4,787 373.9,759 374.3,766 374.8,796 375.3,770 375.8,770 376.2,774 376.7,761 377.2,782 377.7,769 378.2,764 378.6,764 379.1,763 379.6,782 380.1,774 380.5,762 381.0,780 381.5,767 382.0,774 382.4,758 382.9,757 383.4,741 383.9,748 384.4,761 384.8,757 385.3,747 385.8,744 386.3,744 386.7,764 387.2,732 387.7,730 388.2,743 388.6,755 389.1,731 389.6,744 390.1,761 390.6,730 391.0,754 391.5,749 392.0,733 392.5,754 392.9,718 393.4,754 393.9,762 394.4,726 394.8,727 395.3,737 395.8,747 396.3,751 396.8,712 397.2,729 397.7,739 398.2,763 398.7,743 399.1,737 399.6,735 400.1,751 400.6,737 401.0,727 401.5,742 402.0,748 402.5,736 403.0,729 403.4,723 403.9,717 404.4,723 404.9,719 405.3,745 405.8,731 406.3,740 406.8,707 407.2,701 407.7,720 408.2,752 408.7,723 409.2,737 409.6,737 410.1,698 410.6,728 411.1,744 411.5,719 412.0,728 412.5,733 413.0,698 413.4,716 413.9,725 414.4,693 414.9,718 415.4,705 415.8,689 416.3,719 416.8,699 417.3,714 417.7,703 418.2,729 418.7,714 419.2,718 419.6,703 420.1,709 420.6,706 421.1,714 421.6,691 422.0,701 422.5,726 423.0,714 423.5,711 423.9,690 424.4,677 424.9,689 425.4,682 425.8,688 426.3,715 426.8,688 427.3,715 427.8,699 428.2,702 428.7,694 429.2,696 429.7,700 430.1,703 430.6,693 431.1,709 431.6,672 432.0,714 432.5,678 433.0,678 433.5,673 434.0,705 434.4,694 434.9,710 435.4,694 435.9,672 436.3,667 436.8,673 437.3,682 437.8,712 438.2,682 438.7,692 439.2,703 439.7,686 440.2,689 440.6,664 441.1,694 441.6,681 442.1,675 442.5,694 443.0,682 443.5,671 444.0,676 444.4,682 444.9,680 445.4,680 445.9,677 446.4,678 446.8,667 447.3,688 447.8,696 448.3,664 448.7,679 449.2,690 449.7,684 450.2,685 450.6,663 451.1,670 451.6,687 452.1,667 452.6,681 453.0,665 453.5,669 454.0,670 454.5,661 454.9,664 455.4,654 455.9,681 456.4,668 456.8,677 457.3,671 457.8,696 458.3,686 458.7,697 459.2,670 459.7,658 460.2,671 460.7,667 461.1,700 461.6,660 462.1,687 462.6,685 463.0,647 463.5,696 464.0,679 464.5,676 464.9,701 465.4,653 465.9,689 466.4,667 466.9,691 467.3,664 467.8,651 468.3,675 468.8,700 469.2,660 469.7,692 470.2,680 470.7,662 471.1,674 471.6,691 472.1,657 472.6,676 473.1,692 473.5,659 474.0,684 474.5,714 475.0,683 475.4,708 475.9,679 476.4,693 476.9,709 477.3,688 477.8,691 478.3,705 478.8,697 479.3,702 479.7,677 480.2,673 480.7,700 481.2,671 481.6,679 482.1,685 482.6,683 483.1,682 483.5,692 484.0,661 484.5,689 485.0,686 485.5,694 485.9,669 486.4,696 486.9,687 487.4,691 487.8,682 488.3,669 488.8,683 489.3,675 489.7,696 490.2,699 490.7,690 491.2,680 491.7,685 492.1,715 492.6,693 493.1,685 493.6,697 494.0,666 494.5,679 495.0,675 495.5,674 495.9,722 496.4,706 496.9,709 497.4,674 497.9,658 498.3,668 498.8,703 499.3,682 499.8,672 500.2,702 500.7,677 501.2,720 501.7,716 502.1,687 502.6,668 503.1,690 503.6,692 504.1,707 504.5,689 505.0,694 505.5,712 506.0,693 506.4,691 506.9,707 507.4,683 507.9,705 508.3,687 508.8,695 509.3,686 509.8,728 510.3,706 510.7,687 511.2,725 511.7,730 512.2,711 512.6,710 513.1,705 513.6,705 514.1,716 514.5,718 515.0,726 515.5,705 516.0,717 516.5,698 516.9,710 517.4,708 517.9,711 518.4,699 518.8,737 519.3,724 519.8,704 520.3,726 520.7,728 521.2,695 521.7,725 522.2,706 522.7,723 523.1,724 523.6,715 524.1,703 524.6,722 525.0,707 525.5,741 526.0,718 526.5,717 526.9,757 527.4,720 527.9,741 528.4,743 528.9,712 529.3,708 529.8,715 530.3,722 530.8,723 531.2,730 531.7,735 532.2,733 532.7,715 533.1,757 533.6,719 534.1,713 534.6,739 535.0,742 535.5,746 536.0,702 536.5,720 537.0,736 537.4,740 537.9,721 538.4,719 538.9,735 539.3,736 539.8,723 540.3,733 540.8,743 541.2,737 541.7,750 542.2,733 542.7,741 543.2,747 543.6,752 544.1,743 544.6,754 545.1,747 545.5,737 546.0,760 546.5,727 547.0,755 547.4,735 547.9,738 548.4,761 548.9,746 549.4,748 549.8,758 550.3,749 550.8,746 551.3,758 551.7,740 552.2,759 552.7,734 553.2,747 553.6,758 554.1,743 554.6,764 555.1,748 555.6,760 556.0,749 556.5,750 557.0,749 557.5,734 557.9,768 558.4,767 558.9,755 559.4,800 559.8,762 560.3,747 560.8,768 561.3,770 561.8,752 562.2,741 562.7,752 563.2,793 563.7,773 564.1,767 564.6,760 565.1,783 565.6,756 566.0,780 566.5,763 567.0,789 567.5,785 568.0,773 568.4,773 568.9,786 569.4,752 569.9,792 570.3,771 570.8,765 571.3,768 571.8,779 572.2,790 572.7,793 573.2,777 573.7,768 574.2,780 574.6,770 575.1,788 575.6,767 576.1,750 576.5,779 577.0,802 577.5,795 578.0,776 578.4,800 578.9,801 579.4,790 579.9,790 580.4,776 580.8,783 581.3,770 581.8,776 582.3,786 582.7,798 583.2,789 583.7,782 584.2,803 584.6,828 585.1,785 585.6,809 586.1,807 586.6,800 587.0,798 587.5,810 588.0,824 588.5,790 588.9,807 589.4,786 589.9,790 590.4,796 590.8,785 591.3,777 591.8,786 592.3,787 592.8,774 593.2,793 593.7,790 594.2,817 594.7,797 595.1,802 595.6,795 596.1,806 596.6,811 597.0,792 597.5,811 598.0,810 598.5,818 599.0,808 599.4,806 599.9,815 600.4,797 600.9,794 601.3,825 601.8,808 602.3,793 602.8,817 603.2,807 603.7,820 604.2,820 604.7,826 605.1,793 605.6,797 606.1,790 606.6,806 607.1,801 607.5,795 608.0,808 608.5,819 609.0,819 609.4,804 609.9,822 610.4,813 610.9,786 611.3,808 611.8,817 612.3,830 612.8,833 613.3,790 613.7,849 614.2,842 614.7,831 615.2,827 615.6,850 616.1,828 616.6,812 617.1,816 617.5,804 618.0,813 618.5,810 619.0,828 619.5,829 619.9,815 620.4,835 620.9,801 621.4,826 621.8,818 622.3,837 622.8,808 623.3,819 623.7,807 624.2,797 624.7,810 625.2,818 625.7,840 626.1,798 626.6,802 627.1,804 627.6,819 628.0,826 628.5,807 629.0,836 629.5,837 629.9,836 630.4,818 630.9,831 631.4,819 631.9,808 632.3,844 632.8,820 633.3,832 633.8,853 634.2,838 634.7,832 635.2,839 635.7,837 636.1,824 636.6,839 637.1,838 637.6,816 638.1,826 638.5,847 639.0,837 639.5,837 640.0,827 640.4,833 640.9,844 641.4,846 641.9,834 642.3,850 642.8,843 643.3,825 643.8,840 644.3,819 644.7,837 645.2,807 645.7,827 646.2,822 646.6,826 647.1,814 647.6,848 648.1,842 648.5,834 649.0,843 649.5,828 650.0,830 650.5,832 650.9,838 651.4,836 651.9,854 652.4,851 652.8,829 653.3,835 653.8,832 654.3,857 654.7,844 655.2,839 655.7,823 656.2,808 656.7,833 657.1,832 657.6,835 658.1,835 658.6,840 659.0,830 659.5,849 660.0,860 660.5,850 660.9,844 661.4,874 661.9,855 662.4,853 662.9,829 663.3,846 663.8,852 664.3,864 664.8,850 665.2,864 665.7,837 666.2,836 666.7,810 667.1,870 667.6,866 668.1,862 668.6,815 669.1,848 669.5,853 670.0,820 670.5,840 671.0,872 671.4,842 671.9,866 672.4,851 672.9,880 673.3,832 673.8,838 674.3,857 674.8,861 675.3,857 675.7,852 676.2,837 676.7,847 677.2,861 677.6,878 678.1,871 678.6,861 679.1,854 679.5,850 680.0,867 680.5,855 681.0,864 681.5,834 681.9,865 682.4,867 682.9,871 683.4,860 683.8,869 684.3,862 684.8,857 685.3,868 685.7,865 686.2,853 686.7,860 687.2,840 687.6,853 688.1,848 688.6,878 689.1,871 689.6,863 690.0,857 690.5,875 691.0,856 691.5,836 691.9,887 692.4,854 692.9,866 693.4,868 693.8,863 694.3,863 694.8,875 695.3,873 695.8,876 696.2,905 696.7,868 697.2,859 697.7,869 698.1,852 698.6,866 699.1,877 699.6,864 700.0,851 700.5,869 701.0,886 701.5,876 702.0,876 702.4,872 702.9,857 703.4,867 703.9,873 704.3,854 704.8,873 705.3,881 705.8,859 706.2,872 706.7,875 707.2,876 707.7,887 708.2,879 708.6,862 709.1,873 709.6,874 710.1,860 710.5,860 711.0,883 711.5,885 712.0,858 712.4,875 712.9,870 713.4,871 713.9,867 714.4,860 714.8,874 715.3,871 715.8,870 716.3,858 716.7,865 717.2,891 717.7,884 718.2,885 718.6,877 719.1,881 719.6,876 720.1,893 720.6,867 721.0,880 721.5,887 722.0,886 722.5,884 722.9,882 723.4,836 723.9,868 724.4,868 724.8,887 725.3,888 725.8,887 726.3,900 726.8,878 727.2,879 727.7,862 728.2,875 728.7,890 729.1,878 729.6,886 730.1,880 730.6,877 731.0,874 731.5,880 732.0,891 732.5,882 733.0,881 733.4,872 733.9,872 734.4,868 734.9,881 735.3,882 735.8,889 736.3,891 736.8,871 737.2,883 737.7,865 738.2,876 738.7,878 739.2,869 739.6,872 740.1,874 740.6,894 741.1,896 741.5,879 742.0,872 742.5,871 743.0,852 743.4,884 743.9,870 744.4,897 744.9,915 745.4,903 745.8,867 746.3,912 746.8,880 747.3,885 747.7,897 748.2,893 748.7,883 749.2,908 749.6,884 750.1,876 750.6,857 751.1,869 751.6,892 752.0,880 752.5,891 753.0,874 753.5,880 753.9,881 754.4,877 754.9,871 755.4,901 755.8,858 756.3,883 756.8,880 757.3,887 757.8,868 758.2,880 758.7,886 759.2,864 759.7,910 760.1,877 760.6,869 761.1,871 761.6,868 762.0,866 762.5,871 763.0,889 763.5,878 763.9,884 764.4,883 764.9,889 765.4,887 765.9,900 766.3,889 766.8,869 767.3,885 767.8,889 768.2,897 768.7,888 769.2,878 769.7,865 770.1,899 770.6,887 771.1,888 771.6,873 772.1,902 772.5,875 773.0,853 773.5,892 774.0,899 774.4,900 774.9,869 775.4,877 775.9,889 776.3,893 776.8,891 777.3,881 777.8,889 778.3,889 778.7,867 779.2,873 779.7,885 780.2,887 780.6,903 781.1,899 781.6,899 782.1,893 782.5,884 783.0,902 783.5,891 784.0,900 784.5,881 784.9,895 785.4,901 785.9,913 786.4,893 786.8,883 787.3,875 787.8,891 788.3,872 788.7,889 789.2,876 789.7,878 790.2,857 790.7,872 791.1,897 791.6,889 792.1,898 792.6,884 793.0,888 793.5,886 794.0,875 794.5,884 794.9,884 795.4,874 795.9,867 796.4,885 796.9,870 797.3,918 797.8,890 798.3,888 798.8,885 799.2,909 799.7,894 800.2,886 800.7,886 801.1,883 801.6,889 802.1,891 802.6,888 803.1,896 803.5,923 804.0,893 804.5,881 805.0,887 805.4,859 805.9,895 806.4,895 806.9,881 807.3,868 807.8,897 808.3,885 808.8,900 809.3,900 809.7,904 810.2,905 810.7,880 811.2,911 811.6,884 812.1,900 812.6,899 813.1,896 813.5,884 814.0,898 814.5,872 815.0,903 815.5,905 815.9,885 816.4,889 816.9,887 817.4,897 817.8,895 818.3,880 818.8,915 819.3,920 819.7,892 820.2,906 820.7,895 821.2,885 821.7,881 822.1,876 822.6,902 823.1,876 823.6,905 824.0,891 824.5,908 825.0,877 825.5,907 825.9,901 826.4,913 826.9,907 827.4,885 827.9,879 828.3,905 828.8,902 829.3,902 829.8,884 830.2,907 830.7,901 831.2,892 831.7,896 832.1,902 832.6,921 833.1,893 833.6,908 834.0,897 834.5,886 835.0,932 835.5,885 836.0,911 836.4,909 836.9,898 837.4,895 837.9,897 838.3,906 838.8,899 839.3,901 839.8,906 840.2,906 840.7,889 841.2,903 841.7,925 842.2,917 842.6,914 843.1,899 843.6,875 844.1,913 844.5,913 845.0,902 845.5,887 846.0,874 846.4,883 846.9,903 847.4,885 847.9,895 848.4,884 848.8,908 849.3,898 849.8,888 850.3,921 850.7,906 851.2,898 851.7,896 852.2,914 852.6,904 853.1,911 853.6,889 854.1,883 854.6,894 855.0,906 855.5,907 856.0,920 856.5,882 856.9,909 857.4,897 857.9,915 858.4,904 858.8,897 859.3,915 859.8,899 860.3,899 860.8,893 861.2,906 861.7,894 862.2,900 862.7,902 863.1,926 863.6,900 864.1,929 864.6,909 865.0,901 865.5,887 866.0,916 866.5,923 867.0,920 867.4,915 867.9,907 868.4,910 868.9,885 869.3,920 869.8,899 870.3,926 870.8,918 871.2,882 871.7,912 872.2,902 872.7,924 873.2,902 873.6,919 874.1,922 874.6,916 875.1,904 875.5,931 876.0,911 876.5,918 877.0,903 877.4,907 877.9,914 878.4,905 878.9,912 879.4,915 879.8,903 880.3,888 880.8,898 881.3,901 881.7,922 882.2,903 882.7,908 883.2,917 883.6,910 884.1,920 884.6,900 885.1,899 885.6,909 886.0,905 886.5,908 887.0,895 887.5,920 887.9,893 888.4,906 888.9,914 889.4,927 889.8,908 890.3,901 890.8,889 891.3,916 891.8,907 892.2,902 892.7,918 893.2,923 893.7,915 894.1,926 894.6,920 895.1,899 895.6,902 896.0,909 896.5,912 897.0,900 897.5,921 898.0,918 898.4,902 898.9,905 899.4,893 899.9,898 900.3,905 900.8,915 901.3,901 901.8,919 902.2,906 902.7,902 903.2,909 903.7,931 904.2,908 904.6,926 905.1,915 905.6,906 906.1,915 906.5,898 907.0,911 907.5,907 908.0,895 908.4,915 908.9,920 909.4,915 909.9,922 910.4,906 910.8,898 911.3,904 911.8,920 912.3,923 912.7,912 913.2,914 913.7,908 914.2,902 914.6,902 915.1,913 915.6,925 916.1,904 916.5,915 917.0,916 917.5,903 918.0,896 918.5,902 918.9,903 919.4,883 919.9,905 920.4,910 920.8,892 921.3,915 921.8,907 922.3,911 922.7,913 923.2,893 923.7,907 924.2,903 924.7,909 925.1,922 925.6,912 926.1,899 926.6,923 927.0,896 927.5,903 928.0,908 928.5,917 928.9,904 929.4,928 929.9,911 930.4,901 930.9,906 931.3,899 931.8,899 932.3,914 932.8,897 933.2,920 933.7,892 934.2,895 934.7,924 935.1,898 935.6,900 936.1,904 936.6,911 937.1,914 937.5,897 938.0,924 938.5,902 939.0,917 939.4,888 939.9,908 940.4,897 940.9,910 941.3,904 941.8,912 942.3,884 942.8,910 943.3,911 943.7,899 944.2,916 944.7,930 945.2,908 945.6,883 946.1,895 946.6,897 947.1,904 947.5,899 948.0,909 948.5,912 949.0,904 949.5,897 949.9,909 950.4,901 950.9,888 951.4,917 951.8,888 952.3,894 952.8,895 953.3,925 953.7,897 954.2,912 954.7,913 955.2,894 955.7,897 956.1,900 956.6,897 957.1,895 957.6,902 958.0,908 958.5,899 959.0,869 959.5,894 959.9,915 960.4,893 960.9,879 961.4,894 961.9,909 962.3,884 962.8,901 963.3,890 963.8,902 964.2,895 964.7,898 965.2,879 965.7,878 966.1,904 966.6,870 967.1,865 967.6,889 968.1,892 968.5,887 969.0,870 969.5,880 970.0,919 970.4,883 970.9,873 971.4,860 971.9,876 972.3,889 972.8,893 973.3,890 973.8,870 974.3,903 974.7,882 975.2,854 975.7,876 976.2,866 976.6,891 977.1,879 977.6,867 978.1,882 978.5,860 979.0,869 979.5,879 980.0,854 980.5,867 980.9,866 981.4,844 981.9,856 982.4,864 982.8,840 983.3,845 983.8,848 984.3,844 984.7,859 985.2,858 985.7,840 986.2,830 986.6,845 987.1,849 987.6,855 988.1,834 988.6,840 989.0,843 989.5,836 990.0,835 990.5,831 990.9,800 991.4,792 991.9,818 992.4,815 992.8,786 993.3,804 993.8,804 994.3,777 994.8,794 995.2,805 995.7,762 996.2,762 996.7,767 997.1,776 997.6,753 998.1,732 998.6,724 999.0,714 999.5,720 1000.0,725 1000.5,686 1001.0,675 1001.4,648 1001.9,642 1002.4,602 1002.9,597 1003.3,582 1003.8,541 1004.3,560 1004.8,513 1005.2,512 1005.7,514 1006.2,486 1006.7,505 1007.2,522 1007.6,543 1008.1,505 1008.6,548 1009.1,556 1009.5,573 1010.0,599 1010.5,614 1011.0,658 1011.4,663 1011.9,662 1012.4,697 1012.9,726 1013.4,722 1013.8,740 1014.3,744 1014.8,766 1015.3,788 1015.7,773 1016.2,777 1016.7,784 1017.2,784 1017.6,795 1018.1,796 1018.6,815 1019.1,793 1019.6,831 1020.0,831 1020.5,847 1021.0,824 1021.5,859 1021.9,822 1022.4,852 1022.9,831 1023.4,849 1023.8,835 1024.3,823 1024.8,849 1025.3,875 1025.8,856 1026.2,842 1026.7,878 1027.2,852 1027.7,865 1028.1,857 1028.6,884 1029.1,890 1029.6,873 1030.0,867 1030.5,891 1031.0,896 1031.5,857 1032.0,889 1032.4,870 1032.9,858 1033.4,888 1033.9,889 1034.3,880 1034.8,875 1035.3,895 1035.8,889 1036.2,901 1036.7,877 1037.2,877 1037.7,870 1038.2,900 1038.6,905 1039.1,894 1039.6,875 1040.1,887 1040.5,910 1041.0,897 1041.5,892 1042.0,901 1042.4,897 1042.9,898 1043.4,871 1043.9,904 1044.4,884 1044.8,884 1045.3,882 1045.8,892 1046.3,901 1046.7,910 1047.2,885 1047.7,903 1048.2,903 1048.6,882 1049.1,880 1049.6,873 1050.1,879 1050.6,882 1051.0,893 1051.5,917 1052.0,908 1052.5,884 1052.9,910 1053.4,894 1053.9,902 1054.4,886 1054.8,891 1055.3,898 1055.8,894 1056.3,922 1056.8,900 1057.2,916 1057.7,907 1058.2,912 1058.7,899 1059.1,906 1059.6,889 1060.1,909 1060.6,901 1061.0,903 1061.5,886 1062.0,873 1062.5,908 1062.9,922 1063.4,871 1063.9,890 1064.4,897 1064.9,878 1065.3,882 1065.8,908 1066.3,895 1066.8,911 1067.2,898 1067.7,898 1068.2,912 1068.7,917 1069.1,895 1069.6,901 1070.1,907 1070.6,910 1071.1,910 1071.5,903 1072.0,880 1072.5,901 1073.0,901 1073.4,907 1073.9,894 1074.4,897 1074.9,903 1075.3,907 1075.8,906 1076.3,917 1076.8,903 1077.3,917 1077.7,893 1078.2,923 1078.7,910 1079.2,898 1079.6,899 1080.1,895 1080.6,908 1081.1,900 1081.5,890 1082.0,888 1082.5,912 1083.0,912 1083.5,910 1083.9,938 1084.4,917 1084.9,902 1085.4,906 1085.8,918 1086.3,908 1086.8,889 1087.3,902 1087.7,899 1088.2,932 1088.7,902 1089.2,924 1089.7,908 1090.1,907 1090.6,902 1091.1,919 1091.6,928 1092.0,896 1092.5,924 1093.0,899 1093.5,914 1093.9,898 1094.4,910 1094.9,918 1095.4,908 1095.9,885 1096.3,893 1096.8,906 1097.3,933 1097.8,911 1098.2,907 1098.7,927 1099.2,903 1099.7,909 1100.1,887 1100.6,913 1101.1,908 1101.6,888 1102.1,902 1102.5,898 1103.0,899 1103.5,926 1104.0,933 1104.4,910 1104.9,884 1105.4,891 1105.9,920 1106.3,923 1106.8,898 1107.3,911 1107.8,903 1108.3,918 1108.7,914 1109.2,904 1109.7,925 1110.2,920 1110.6,928 1111.1,927 1111.6,891 1112.1,902 1112.5,904 1113.0,928 1113.5,917 1114.0,922 1114.5,912 1114.9,924 1115.4,903 1115.9,909 1116.4,920 1116.8,913 1117.3,926 1117.8,916 1118.3,915 1118.7,915 1119.2,898 1119.7,923 1120.2,936 1120.7,923 1121.1,910 1121.6,901 1122.1,910 1122.6,905 1123.0,923 1123.5,901 1124.0,906 1124.5,916 1124.9,903 1125.4,899 1125.9,933 1126.4,906 1126.9,906 1127.3,932 1127.8,922 1128.3,906 1128.8,913 1129.2,904 1129.7,892 1130.2,898 1130.7,906 1131.1,923 1131.6,897 1132.1,901 1132.6,926 1133.1,910 1133.5,912 1134.0,902 1134.5,896 1135.0,914 1135.4,895 1135.9,901 1136.4,896 1136.9,909 1137.3,908 1137.8,928 1138.3,910 1138.8,909 1139.2,899 1139.7,913 1140.2,898 1140.7,909 1141.2,909 1141.6,910 1142.1,903 1142.6,890 1143.1,928 1143.5,903 1144.0,887 1144.5,903 1145.0,909 1145.4,921 1145.9,896 1146.4,916 1146.9,908 1147.4,907 1147.8,910 1148.3,891 1148.8,906 1149.3,907 1149.7,899 1150.2,903 1150.7,887 1151.2,899 1151.6,889 1152.1,891 1152.6,892 1153.1,906 1153.6,900 1154.0,908 1154.5,909 1155.0,876 1155.5,878 1155.9,865 1156.4,905 1156.9,905 1157.4,906 1157.8,905 1158.3,896 1158.8,919 1159.3,900 1159.8,899 1160.2,873 1160.7,891 1161.2,875 1161.7,872 1162.1,884 1162.6,881 1163.1,878 1163.6,890 1164.0,862 1164.5,869 1165.0,876 1165.5,884 1166.0,880 1166.4,880 1166.9,883 1167.4,865 1167.9,845 1168.3,873 1168.8,848 1169.3,858 1169.8,872 1170.2,862 1170.7,878 1171.2,834 1171.7,831 1172.2,859 1172.6,868 1173.1,845 1173.6,837 1174.1,843 1174.5,834 1175.0,829 1175.5,851 1176.0,818 1176.4,825 1176.9,829 1177.4,822 1177.9,837 1178.4,826 1178.8,813 1179.3,817 1179.8,815 1180.3,834 1180.7,822 1181.2,831 1181.7,807 1182.2,811 1182.6,819 1183.1,797 1183.6,822 1184.1,813 1184.6,802 1185.0,804 1185.5,811 1186.0,819 1186.5,820 1186.9,814 1187.4,805 1187.9,841 1188.4,822 1188.8,834 1189.3,817 1189.8,815 1190.3,841 1190.8,826 1191.2,847 1191.7,831 1192.2,841 1192.7,849 1193.1,857 1193.6,845 1194.1,852 1194.6,877 1195.0,873 1195.5,856 1196.0,893 1196.5,878 1197.0,870 1197.4,892 1197.9,862 1198.4,876 1198.9,882 1199.3,880 1199.8,895 1200.3,890 1200.8,887 1201.2,892 1201.7,888 1202.2,876 1202.7,890 1203.2,912 1203.6,899 1204.1,890 1204.6,904 1205.1,884 1205.5,901 1206.0,871 1206.5,891 1207.0,901 1207.4,898 1207.9,905 1208.4,874 1208.9,917 1209.4,895 1209.8,917 1210.3,880 1210.8,922 1211.3,900 1211.7,897 1212.2,916 1212.7,923 1213.2,895 1213.6,897 1214.1,912 1214.6,908 1215.1,906 1215.5,932 1216.0,919 1216.5,898 1217.0,919 1217.5,919 1217.9,910 1218.4,919 1218.9,907 1219.4,907 1219.8,918 1220.3,907 1220.8,925 1221.3,923 1221.7,912 1222.2,909 1222.7,923 1223.2,918 1223.7,914 1224.1,907 1224.6,911 1225.1,944 1225.6,892 1226.0,941 1226.5,906 1227.0,926 1227.5,929 1227.9,928 1228.4,900 1228.9,917 1229.4,898 1229.9,928 1230.3,908 1230.8,910 1231.3,911 1231.8,919 1232.2,916 1232.7,930 1233.2,910 1233.7,926 1234.1,885 1234.6,931 1235.1,924 1235.6,913 1236.1,918 1236.5,912 1237.0,933 1237.5,912 1238.0,904 1238.4,932 1238.9,911 1239.4,942 1239.9,927 1240.3,920 1240.8,936 1241.3,927 1241.8,902 1242.3,914 1242.7,928 1243.2,905 1243.7,911 1244.2,912 1244.6,899 1245.1,901 1245.6,898 1246.1,933 1246.5,918 1247.0,916 1247.5,927 1248.0,919 1248.5,935 1248.9,941 1249.4,915 1249.9,924 1250.4,908 1250.8,935 1251.3,929 1251.8,921 1252.3,944 1252.7,919 1253.2,929 1253.7,910 1254.2,937 1254.7,935 1255.1,922 1255.6,933 1256.1,924 1256.6,920 1257.0,888 1257.5,930 1258.0,915 1258.5,902 1258.9,917 1259.4,918 1259.9,943 1260.4,949 1260.9,938 1261.3,904 1261.8,931 1262.3,901 1262.8,931 1263.2,916 1263.7,921 1264.2,926 1264.7,916 1265.1,910 1265.6,942 1266.1,960 1266.6,921 1267.1,943 1267.5,925 1268.0,915 1268.5,941 1269.0,909 1269.4,928 1269.9,925 1270.4,929 1270.9,912 1271.3,936 1271.8,913 1272.3,916 1272.8,945 1273.3,919 1273.7,908 1274.2,935 1274.7,935 1275.2,938 1275.6,903 1276.1,933 1276.6,912 1277.1,904 1277.5,920 1278.0,945 1278.5,907 1279.0,918 1279.5,914 1279.9,919 1280.4,909 1280.9,933 1281.4,918 1281.8,912 1282.3,926 1282.8,940 1283.3,944 1283.7,925 1284.2,929 1284.7,947 1285.2,923 1285.7,931 1286.1,934 1286.6,933 1287.1,935 1287.6,919 1288.0,928 1288.5,926 1289.0,932 1289.5,909 1289.9,930 1290.4,932 1290.9,936 1291.4,925 1291.8,927 1292.3,927 1292.8,929 1293.3,907 1293.8,927 1294.2,939 1294.7,933 1295.2,926 1295.7,937 1296.1,933 1296.6,918 1297.1,949 1297.6,929 1298.0,933 1298.5,935 1299.0,941 1299.5,945 1300.0,941 1300.4,932 1300.9,907 1301.4,907 1301.9,936 1302.3,912 1302.8,926 1303.3,940 1303.8,919 1304.2,914 1304.7,922 1305.2,918 1305.7,915 1306.2,943 1306.6,928 1307.1,929 1307.6,921 1308.1,942 1308.5,935 1309.0,928 1309.5,915 1310.0,914 1310.4,941 1310.9,925 1311.4,953 1311.9,921 1312.4,922 1312.8,913 1313.3,927 1313.8,919 1314.3,930 1314.7,930 1315.2,923 1315.7,930 1316.2,927 1316.6,916 1317.1,921 1317.6,933 1318.1,939 1318.6,927 1319.0,928 1319.5,921 1320.0,928 1320.5,925 1320.9,933 1321.4,924 1321.9,918 1322.4,929 1322.8,924 1323.3,936 1323.8,924 1324.3,945 1324.8,945 1325.2,935 1325.7,913 1326.2,959 1326.7,932 1327.1,936 1327.6,922 1328.1,926 1328.6,933 1329.0,940 1329.5,921 1330.0,946 1330.5,922 1331.0,909 1331.4,931 1331.9,920 1332.4,930 1332.9,923 1333.3,936 1333.8,925 1334.3,944 1334.8,919 1335.2,939 1335.7,906 1336.2,933 1336.7,943 1337.2,936 1337.6,935 1338.1,926 1338.6,947 1339.1,953 1339.5,924 1340.0,922 1340.5,915 1341.0,915 1341.4,922 1341.9,911 1342.4,924 1342.9,929 1343.4,912 1343.8,926 1344.3,931 1344.8,927 1345.3,939 1345.7,926 1346.2,931 1346.7,927 1347.2,924 1347.6,906 1348.1,925 1348.6,935 1349.1,913 1349.6,935 1350.0,934 1350.5,919 1351.0,935 1351.5,925 1351.9,933 1352.4,929 1352.9,901 1353.4,921 1353.8,920 1354.3,910 1354.8,926 1355.3,901 1355.8,920 1356.2,927 1356.7,930 1357.2,918 1357.7,934 1358.1,928 1358.6,933 1359.1,928 1359.6,898 1360.0,921 1360.5,925 1361.0,923 1361.5,906 1362.0,918 1362.4,931 1362.9,918 1363.4,925 1363.9,929 1364.3,934 1364.8,929 1365.3,931 1365.8,931 1366.2,916 1366.7,942 1367.2,926 1367.7,932 1368.2,904 1368.6,946 1369.1,926 1369.6,927 1370.1,926 1370.5,904 1371.0,924 1371.5,909 1372.0,913 1372.4,912 1372.9,917 1373.4,918 1373.9,918 1374.3,932 1374.8,943 1375.3,935 1375.8,926 1376.3,931 1376.7,929 1377.2,934 1377.7,930 1378.2,931 1378.6,936 1379.1,939 1379.6,921 1380.1,919 1380.5,920 1381.0,939 1381.5,929 1382.0,920 1382.5,920 1382.9,932 1383.4,921 1383.9,946 1384.4,928 1384.8,937 1385.3,938 1385.8,937 1386.3,938 1386.7,923 1387.2,918 1387.7,912 1388.2,936 1388.7,920 1389.1,920 1389.6,938 1390.1,933 1390.6,929 1391.0,928 1391.5,913 1392.0,946 1392.5,930 1392.9,930 1393.4,923 1393.9,929 1394.4,934 1394.9,940 1395.3,946 1395.8,916 1396.3,919 1396.8,931 1397.2,917 1397.7,916 1398.2,928 1398.7,914 1399.1,930 1399.6,933 1400.1,927 1400.6,923 1401.1,918 1401.5,943 1402.0,939 1402.5,944 1403.0,934 1403.4,938 1403.9,929 1404.4,915 1404.9,909 1405.3,929 1405.8,923 1406.3,925 1406.8,942 1407.3,919 1407.7,919 1408.2,898 1408.7,928 1409.2,926 1409.6,918 1410.1,937 1410.6,918 1411.1,925 1411.5,921 1412.0,933 1412.5,918 1413.0,925 1413.5,935 1413.9,931 1414.4,929 1414.9,917 1415.4,933 1415.8,957 1416.3,924 1416.8,911 1417.3,908 1417.7,918 1418.2,908 1418.7,936 1419.2,908 1419.7,911 1420.1,907 1420.6,923 1421.1,908 1421.6,925 1422.0,944 1422.5,908 1423.0,907 1423.5,918 1423.9,928 1424.4,896 1424.9,927 1425.4,937 1425.9,929 1426.3,917 1426.8,910 1427.3,912 1427.8,941 1428.2,911 1428.7,927 1429.2,925 1429.7,932 1430.1,900 1430.6,932 1431.1,916 1431.6,916 1432.1,908 1432.5,914 1433.0,922 1433.5,914 1434.0,927 1434.4,909 1434.9,923 1435.4,909 1435.9,889 1436.3,915 1436.8,913 1437.3,923 1437.8,923 1438.3,920 1438.7,941 1439.2,913 1439.7,919 1440.2,907 1440.6,920 1441.1,933 1441.6,912 1442.1,918 1442.5,935 1443.0,928 1443.5,903 1444.0,915 1444.5,920 1444.9,923 1445.4,936 1445.9,911 1446.4,913 1446.8,922 1447.3,922 1447.8,920 1448.3,917 1448.7,921 1449.2,905 1449.7,918 1450.2,911 1450.6,915 1451.1,911 1451.6,894 1452.1,910 1452.6,883 1453.0,928 1453.5,937 1454.0,884 1454.5,924 1454.9,915 1455.4,944 1455.9,925 1456.4,917 1456.8,918 1457.3,925 1457.8,916 1458.3,926 1458.8,899 1459.2,926 1459.7,928 1460.2,937 1460.7,920 1461.1,924 1461.6,905 1462.1,918 1462.6,910 1463.0,911 1463.5,934 1464.0,934 1464.5,915 1465.0,919 1465.4,940 1465.9,921 1466.4,953 1466.9,911 1467.3,927 1467.8,909 1468.3,925 1468.8,931 1469.2,929 1469.7,925 1470.2,946 1470.7,922 1471.2,930 1471.6,925 1472.1,919 1472.6,940 1473.1,905 1473.5,925 1474.0,918 1474.5,945 1475.0,927 1475.4,919 1475.9,928 1476.4,929 1476.9,920 1477.4,935 1477.8,910 1478.3,927 1478.8,964 1479.3,928 1479.7,925 1480.2,915 1480.7,921 1481.2,919 1481.6,922 1482.1,930 1482.6,904 1483.1,922 1483.6,910 1484.0,923 1484.5,929 1485.0,919 1485.5,938 1485.9,929 1486.4,910 1486.9,920 1487.4,902 1487.8,923 1488.3,897 1488.8,932 1489.3,921 1489.8,923 1490.2,917 1490.7,935 1491.2,921 1491.7,935 1492.1,938 1492.6,907 1493.1,920 1493.6,923 1494.0,941 1494.5,912 1495.0,935 1495.5,927 1496.0,940 1496.4,933 1496.9,927 1497.4,913 1497.9,930 1498.3,920 1498.8,948 1499.3,920 1499.8,929 1500.2,930 1500.7,917 1501.2,917 1501.7,915 1502.2,914 1502.6,937 1503.1,919 1503.6,937 1504.1,926 1504.5,929 1505.0,943 1505.5,939 1506.0,935 1506.4,936 1506.9,937 1507.4,933 1507.9,942 1508.4,910 1508.8,924 1509.3,911 1509.8,923 1510.3,909 1510.7,938 1511.2,919 1511.7,921 1512.2,911 1512.6,936 1513.1,918 1513.6,912 1514.1,931 1514.6,902 1515.0,927 1515.5,960 1516.0,917 1516.5,929 1516.9,913 1517.4,935 1517.9,917 1518.4,937 1518.8,919 1519.3,910 1519.8,904 1520.3,904 1520.8,926 1521.2,943 1521.7,921 1522.2,905 1522.7,925 1523.1,924 1523.6,901 1524.1,942 1524.6,931 1525.0,916 1525.5,950 1526.0,901 1526.5,931 1526.9,938 1527.4,901 1527.9,915 1528.4,915 1528.9,921 1529.3,916 1529.8,913 1530.3,927 1530.8,924 1531.2,916 1531.7,922 1532.2,934 1532.7,927 1533.1,922 1533.6,933 1534.1,926 1534.6,925 1535.1,910 1535.5,932 1536.0,940 1536.5,943 1537.0,938 1537.4,916 1537.9,956 1538.4,920 1538.9,922 1539.3,902 1539.8,935 1540.3,942 1540.8,927 1541.3,929 1541.7,931 1542.2,934 1542.7,925 1543.2,920 1543.6,925 1544.1,931 1544.6,926 1545.1,940 1545.5,904 1546.0,910 1546.5,940 1547.0,919 1547.5,936 1547.9,918 1548.4,931 1548.9,916 1549.4,898 1549.8,922 1550.3,894 1550.8,914 1551.3,941 1551.7,946 1552.2,920 1552.7,927 1553.2,932 1553.7,936 1554.1,917 1554.6,925 1555.1,929 1555.6,938 1556.0,923 1556.5,923 1557.0,933 1557.5,927 1557.9,920 1558.4,916 1558.9,924 1559.4,947 1559.9,933 1560.3,908 1560.8,928 1561.3,916 1561.8,941 1562.2,934 1562.7,931 1563.2,907 1563.7,938 1564.1,955 1564.6,928 1565.1,944 1565.6,944 1566.1,914 1566.5,936 1567.0,937 1567.5,934 1568.0,947 1568.4,934 1568.9,930 1569.4,925 1569.9,934 1570.3,941 1570.8,921 1571.3,939 1571.8,925 1572.3,938 1572.7,939 1573.2,931 1573.7,931 1574.2,943 1574.6,914 1575.1,937 1575.6,940 1576.1,916 1576.5,918 1577.0,955 1577.5,942 1578.0,951 1578.5,937 1578.9,934 1579.4,944 1579.9,930 1580.4,923 1580.8,925 1581.3,914 1581.8,907 1582.3,934 1582.7,924 1583.2,918 1583.7,925 1584.2,935 1584.7,926 1585.1,923 1585.6,919 1586.1,956 1586.6,919 1587.0,916 1587.5,930 1588.0,911 1588.5,937 1588.9,927 1589.4,908 1589.9,941 1590.4,927 1590.9,930 1591.3,912 1591.8,937 1592.3,925 1592.8,926 1593.2,920 1593.7,931 1594.2,914 1594.7,927 1595.1,929 1595.6,921 1596.1,921 1596.6,932 1597.0,933 1597.5,941 1598.0,936 1598.5,936 1599.0,933 1599.4,914 1599.9,906 1600.4,899 1600.9,929 1601.3,896 1601.8,919 1602.3,931 1602.8,904 1603.2,934 1603.7,935 1604.2,940 1604.7,908 1605.2,933 1605.6,925 1606.1,941 1606.6,934 1607.1,940 1607.5,928 1608.0,925 1608.5,934 1609.0,937 1609.4,916 1609.9,924 1610.4,936 1610.9,933 1611.4,920 1611.8,932 1612.3,927 1612.8,939 1613.3,944 1613.7,922 1614.2,939 1614.7,956 1615.2,940 1615.6,913 1616.1,911 1616.6,944 1617.1,933 1617.6,926 1618.0,928 1618.5,936 1619.0,947 1619.5,908 1619.9,920 1620.4,939 1620.9,911 1621.4,928 1621.8,936 1622.3,942 1622.8,952 1623.3,932 1623.8,932 1624.2,917 1624.7,906 1625.2,928 1625.7,924 1626.1,931 1626.6,916 1627.1,918 1627.6,942 1628.0,916 1628.5,916 1629.0,925 1629.5,926 1630.0,909 1630.4,904 1630.9,913 1631.4,926 1631.9,911 1632.3,923 1632.8,930 1633.3,918 1633.8,920 1634.2,920 1634.7,925 1635.2,921 1635.7,938 1636.2,905 1636.6,926 1637.1,920 1637.6,940 1638.1,904 1638.5,934 1639.0,923 1639.5,927 1640.0,932 1640.4,918 1640.9,915 1641.4,925 1641.9,925 1642.4,913 1642.8,917 1643.3,920 1643.8,932 1644.3,938 1644.7,925 1645.2,919 1645.7,937 1646.2,920 1646.6,913 1647.1,917 1647.6,917 1648.1,940 1648.6,936 1649.0,930 1649.5,921 1650.0,929 1650.5,943 1650.9,932 1651.4,931 1651.9,930 1652.4,932 1652.8,921 1653.3,924 1653.8,932 1654.3,925 1654.8,922 1655.2,938 1655.7,918 1656.2,908 1656.7,922 1657.1,930 1657.6,933 1658.1,922 1658.6,936 1659.0,917 1659.5,951 1660.0,938 1660.5,939 1661.0,909 1661.4,926 1661.9,931 1662.4,927 1662.9,955 1663.3,925 1663.8,938 1664.3,933 1664.8,921 1665.2,920 1665.7,912 1666.2,942 1666.7,937 1667.2,946 1667.6,910 1668.1,932 1668.6,921 1669.1,923 1669.5,926 1670.0,930 1670.5,924 1671.0,901 1671.4,922 1671.9,922 1672.4,929 1672.9,932 1673.3,923 1673.8,949 1674.3,933 1674.8,909 1675.3,940 1675.7,930 1676.2,940 1676.7,945 1677.2,934 1677.6,949 1678.1,916 1678.6,915 1679.1,942 1679.5,925 1680.0,941 1680.5,930 1681.0,928 1681.5,941 1681.9,926 1682.4,946 1682.9,930 1683.4,945 1683.8,932 1684.3,930 1684.8,923 1685.3,925 1685.7,922 1686.2,934 1686.7,938 1687.2,936 1687.7,927 1688.1,935 1688.6,927 1689.1,912 1689.6,932 1690.0,935 1690.5,942 1691.0,913 1691.5,912 1691.9,937 1692.4,917 1692.9,948 1693.4,923 1693.9,908 1694.3,925 1694.8,933 1695.3,898 1695.8,936 1696.2,929 1696.7,911 1697.2,913 1697.7,914 1698.1,929 1698.6,936 1699.1,912 1699.6,911 1700.1,930 1700.5,934 1701.0,921 1701.5,923 1702.0,932 1702.4,910 1702.9,926 1703.4,924 1703.9,924 1704.3,928 1704.8,918 1705.3,937 1705.8,921 1706.3,922 1706.7,933 1707.2,906 1707.7,923 1708.2,914 1708.6,909 1709.1,912 1709.6,913 1710.1,945 1710.5,919 1711.0,926 1711.5,911 1712.0,921 1712.5,937 1712.9,924 1713.4,916 1713.9,929 1714.4,918 1714.8,918 1715.3,915 1715.8,931 1716.3,915 1716.7,907 1717.2,925 1717.7,908 1718.2,932 1718.7,949 1719.1,918 1719.6,922 1720.1,913 1720.6,949 1721.0,927 1721.5,918 1722.0,939 1722.5,911 1722.9,911 1723.4,931 1723.9,918 1724.4,905 1724.9,951 1725.3,921 1725.8,922 1726.3,928 1726.8,907 1727.2,921 1727.7,932 1728.2,917 1728.7,924 1729.1,934 1729.6,926 1730.1,938 1730.6,897 1731.1,919 1731.5,911 1732.0,903 1732.5,899 1733.0,902 1733.4,934 1733.9,952 1734.4,912 1734.9,920 1735.3,919 1735.8,934 1736.3,924 1736.8,921 1737.3,916 1737.7,912 1738.2,936 1738.7,920 1739.2,935 1739.6,922 1740.1,930 1740.6,922 1741.1,903 1741.5,937 1742.0,923 1742.5,929 1743.0,895 1743.5,914 1743.9,914 1744.4,906 1744.9,908 1745.4,914 1745.8,928 1746.3,921 1746.8,898 1747.3,904 1747.7,908 1748.2,898 1748.7,881 1749.2,905 1749.7,912 1750.1,904 1750.6,909 1751.1,904 1751.6,892 1752.0,879 1752.5,888 1753.0,900 1753.5,880 1753.9,888 1754.4,906 1754.9,890 1755.4,902 1755.8,911 1756.3,906 1756.8,900 1757.3,882 1757.8,886 1758.2,897 1758.7,887 1759.2,885 1759.7,897 1760.1,862 1760.6,885 1761.1,887 1761.6,883 1762.0,862 1762.5,884 1763.0,877 1763.5,875 1764.0,869 1764.4,887 1764.9,865 1765.4,876 1765.9,865 1766.3,886 1766.8,891 1767.3,858 1767.8,861 1768.2,892 1768.7,890 1769.2,865 1769.7,850 1770.2,895 1770.6,888 1771.1,892 1771.6,910 1772.1,877 1772.5,887 1773.0,874 1773.5,891 1774.0,893 1774.4,898 1774.9,904 1775.4,877 1775.9,889 1776.4,895 1776.8,881 1777.3,894 1777.8,908 1778.3,916 1778.7,914 1779.2,909 1779.7,908 1780.2,899 1780.6,897 1781.1,916 1781.6,924 1782.1,932 1782.6,915 1783.0,917 1783.5,915 1784.0,904 1784.5,893 1784.9,916 1785.4,905 1785.9,898 1786.4,880 1786.8,898 1787.3,938 1787.8,920 1788.3,922 1788.8,912 1789.2,929 1789.7,904 1790.2,912 1790.7,892 1791.1,914 1791.6,928 1792.1,918 1792.6,914 1793.0,904 1793.5,933 1794.0,910 1794.5,925 1795.0,911 1795.4,919 1795.9,915 1796.4,906 1796.9,911 1797.3,913 1797.8,920 1798.3,934 1798.8,898 1799.2,924 1799.7,914 1800.2,908 1800.7,915 1801.2,917 1801.6,918 1802.1,919 1802.6,915 1803.1,940 1803.5,930 1804.0,918 1804.5,919 1805.0,921 1805.4,939 1805.9,914 1806.4,924 1806.9,919 1807.4,913 1807.8,939 1808.3,907 1808.8,927 1809.3,935 1809.7,924 1810.2,943 1810.7,926 1811.2,925 1811.6,915 1812.1,923 1812.6,925 1813.1,934 1813.6,926 1814.0,913 1814.5,911 1815.0,926 1815.5,911 1815.9,938 1816.4,908 1816.9,919 1817.4,937 1817.8,941 1818.3,941 1818.8,911 1819.3,932 1819.8,929 1820.2,901 1820.7,920 1821.2,927 1821.7,927 1822.1,934 1822.6,934 1823.1,933 1823.6,954 1824.0,934 1824.5,917 1825.0,923 1825.5,923 1826.0,940 1826.4,934 1826.9,926 1827.4,934 1827.9,937 1828.3,933 1828.8,919 1829.3,932 1829.8,916 1830.2,940 1830.7,923 1831.2,932 1831.7,919 1832.1,914 1832.6,931 1833.1,943 1833.6,938 1834.1,927 1834.5,942 1835.0,940 1835.5,924 1836.0,945 1836.4,944 1836.9,947 1837.4,925 1837.9,949 1838.3,920 1838.8,933 1839.3,939 1839.8,930 1840.3,935 1840.7,940 1841.2,942 1841.7,940 1842.2,930 1842.6,904 1843.1,944 1843.6,937 1844.1,929 1844.5,927 1845.0,924 1845.5,923 1846.0,954 1846.5,937 1846.9,924 1847.4,941 1847.9,936 1848.4,950 1848.8,936 1849.3,933 1849.8,933 1850.3,932 1850.7,924 1851.2,946 1851.7,944 1852.2,934 1852.7,929 1853.1,949 1853.6,953 1854.1,938 1854.6,948 1855.0,925 1855.5,931 1856.0,941 1856.5,946 1856.9,938 1857.4,938 1857.9,948 1858.4,946 1858.9,940 1859.3,953 1859.8,952 1860.3,937 1860.8,942 1861.2,932 1861.7,920 1862.2,925 1862.7,941 1863.1,935 1863.6,942 1864.1,946 1864.6,942 1865.1,931 1865.5,958 1866.0,939 1866.5,925 1867.0,922 1867.4,927 1867.9,942 1868.4,931 1868.9,936 1869.3,935 1869.8,948 1870.3,958 1870.8,948 1871.3,928 1871.7,935 1872.2,934 1872.7,928 1873.2,947 1873.6,943 1874.1,939 1874.6,960 1875.1,946 1875.5,938 1876.0,917 1876.5,935 1877.0,934 1877.5,940 1877.9,948 1878.4,940 1878.9,935 1879.4,942 1879.8,959 1880.3,934 1880.8,928 1881.3,938 1881.7,948 1882.2,961 1882.7,924 1883.2,952 1883.7,931 1884.1,924 1884.6,925 1885.1,928 1885.6,925 1886.0,941 1886.5,926 1887.0,945 1887.5,927 1887.9,940 1888.4,933 1888.9,955 1889.4,960 1889.9,966 1890.3,940 1890.8,935 1891.3,951 1891.8,956 1892.2,946 1892.7,925 1893.2,929 1893.7,949 1894.1,937 1894.6,928 1895.1,947 1895.6,932 1896.1,940 1896.5,932 1897.0,957 1897.5,959 1898.0,937 1898.4,942 1898.9,929 1899.4,953 1899.9,966 1900.3,932 1900.8,942 1901.3,931 1901.8,928 1902.2,958 1902.7,940 1903.2,954 1903.7,962 1904.2,944 1904.6,944 1905.1,937 1905.6,930 1906.1,933 1906.5,950 1907.0,951 1907.5,956 1908.0,955 1908.4,951 1908.9,933 1909.4,945 1909.9,932 1910.4,941 1910.8,941 1911.3,951 1911.8,945 1912.3,952 1912.7,949 1913.2,934 1913.7,937 1914.2,949 1914.6,945 1915.1,925 1915.6,940 1916.1,923 1916.6,948 1917.0,966 1917.5,923 1918.0,949 1918.5,956 1918.9,942 1919.4,929 1919.9,926 1920.4,913 1920.8,941 1921.3,938 1921.8,948 1922.3,930 1922.8,941 1923.2,955 1923.7,917 1924.2,951 1924.7,946 1925.1,934 1925.6,946 1926.1,931 1926.6,942 1927.0,960 1927.5,957 1928.0,959 1928.5,966 1929.0,953 1929.4,941 1929.9,943 1930.4,926 1930.9,944 1931.3,934 1931.8,936 1932.3,957 1932.8,959 1933.2,946 1933.7,950 1934.2,965 1934.7,941 1935.2,925 1935.6,947 1936.1,944 1936.6,937 1937.1,927 1937.5,966 1938.0,955 1938.5,951 1939.0,960 1939.4,953 1939.9,959 1940.4,943 1940.9,950 1941.4,942 1941.8,941 1942.3,952 1942.8,935 1943.3,943 1943.7,959 1944.2,959 1944.7,967 1945.2,946 1945.6,958 1946.1,941 1946.6,943 1947.1,947 1947.6,944 1948.0,935 1948.5,955 1949.0,939 1949.5,942 1949.9,940 1950.4,945 1950.9,957 1951.4,955 1951.8,952 1952.3,955 1952.8,947 1953.3,950 1953.8,942 1954.2,973 1954.7,939 1955.2,970 1955.7,963 1956.1,933 1956.6,934 1957.1,941 1957.6,958 1958.0,932 1958.5,950 1959.0,956 1959.5,951 1960.0,942 1960.4,947 1960.9,958 1961.4,932 1961.9,945 1962.3,949 1962.8,951 1963.3,937 1963.8,958 1964.2,948 1964.7,958 1965.2,951 1965.7,933 1966.2,972 1966.6,963 1967.1,958 1967.6,953 1968.1,936 1968.5,949 1969.0,966 1969.5,960 1970.0,946 1970.4,936 1970.9,961 1971.4,940 1971.9,962 1972.4,970 1972.8,964 1973.3,959 1973.8,949 1974.3,960 1974.7,960 1975.2,958 1975.7,942 1976.2,942 1976.6,958 1977.1,949 1977.6,937 1978.1,952 1978.5,940 1979.0,925 1979.5,946 1980.0,949 1980.5,939 1980.9,941 1981.4,952 1981.9,934 1982.4,940 1982.8,951 1983.3,945 1983.8,951 1984.3,941 1984.7,949 1985.2,941 1985.7,938 1986.2,954 1986.7,942 1987.1,959 1987.6,940 1988.1,963 1988.6,946 1989.0,933 1989.5,947 1990.0,947 1990.5,965 1990.9,944 1991.4,943 1991.9,940 1992.4,945 1992.9,970 1993.3,946 1993.8,944 1994.3,969 1994.8,968 1995.2,951 1995.7,952 1996.2,960 1996.7,958 1997.1,947 1997.6,964 1998.1,968 1998.6,971 1999.1,941 1999.5,953 2000.0,954 2000.5,923 2001.0,965 2001.4,939 2001.9,952 2002.4,940 2002.9,946 2003.3,960 2003.8,945 2004.3,951 2004.8,957 2005.3,948 2005.7,946 2006.2,943 2006.7,937 2007.2,952 2007.6,951 2008.1,964 2008.6,949 2009.1,955 2009.5,956 2010.0,930 2010.5,933 2011.0,955 2011.5,943 2011.9,954 2012.4,940 2012.9,949 2013.4,951 2013.8,946 2014.3,935 2014.8,946 2015.3,942 2015.7,957 2016.2,950 2016.7,954 2017.2,974 2017.7,942 2018.1,953 2018.6,935 2019.1,957 2019.6,968 2020.0,951 2020.5,949 2021.0,966 2021.5,956 2021.9,954 2022.4,974 2022.9,943 2023.4,952 2023.9,952 2024.3,962 2024.8,962 2025.3,950 2025.8,950 2026.2,950 2026.7,947 2027.2,942 2027.7,940 2028.1,956 2028.6,958 2029.1,955 2029.6,977 2030.1,947 2030.5,949 2031.0,942 2031.5,939 2032.0,938 2032.4,946 2032.9,960 2033.4,942 2033.9,944 2034.3,968 2034.8,961 2035.3,944 2035.8,959 2036.3,962 2036.7,971 2037.2,962 2037.7,943 2038.2,979 2038.6,960 2039.1,954 2039.6,964 2040.1,946 2040.5,967 2041.0,942 2041.5,965 2042.0,951 2042.5,972 2042.9,960 2043.4,957 2043.9,955 2044.4,951 2044.8,962 2045.3,965 2045.8,973 2046.3,956 2046.7,964 2047.2,954 2047.7,970 2048.2,957 2048.7,954 2049.1,970 2049.6,962 2050.1,972 2050.6,955 2051.0,965 2051.5,961 2052.0,951 2052.5,950 2052.9,943 2053.4,943 2053.9,974 2054.4,950 2054.8,941 2055.3,953 2055.8,954 2056.3,942 2056.8,939 2057.2,959 2057.7,965 2058.2,970 2058.7,972 2059.1,944 2059.6,963 2060.1,956 2060.6,947 2061.0,949 2061.5,950 2062.0,977 2062.5,956 2063.0,952 2063.4,962 2063.9,958 2064.4,973 2064.9,937 2065.3,940 2065.8,948 2066.3,949 2066.8,958 2067.2,942 2067.7,933 2068.2,960 2068.7,970 2069.2,964 2069.6,957 2070.1,963 2070.6,953 2071.1,931 2071.5,970 2072.0,960 2072.5,950 2073.0,957 2073.4,970 2073.9,964 2074.4,940 2074.9,965 2075.4,946 2075.8,951 2076.3,958 2076.8,954 2077.3,954 2077.7,940 2078.2,960 2078.7,972 2079.2,965 2079.6,963 2080.1,945 2080.6,935 2081.1,944 2081.6,943 2082.0,952 2082.5,966 2083.0,956 2083.5,939 2083.9,937 2084.4,949 2084.9,960 2085.4,938 2085.8,957 2086.3,947 2086.8,942 2087.3,966 2087.8,950 2088.2,963 2088.7,952 2089.2,957 2089.7,974 2090.1,937 2090.6,960 2091.1,950 2091.6,953 2092.0,951 2092.5,945 2093.0,937"/>
</g>
<g class="b" font-size="84" text-anchor="middle" letter-spacing="2">
<text x="186.0" y="1532">10</text>
<text x="424.4" y="1532">20</text>
<text x="662.9" y="1532">30</text>
<text x="901.3" y="1532">40</text>
<text x="1139.8" y="1532">50</text>
<text x="1378.2" y="1532">60</text>
<text x="1616.6" y="1532">70</text>
<text x="1855.1" y="1532">80</text>
<text x="2093.5" y="1532">90</text>
</g>
<text class="b" font-size="120" y="1664"><tspan x="864">2</tspan><tspan x="927">θ</tspan><tspan x="1022.5" letter-spacing="1.85">(degree)</tspan></text>
<text class="b" font-size="120" letter-spacing="0.87" transform="translate(109,1176) rotate(-90)">Intensity (a.u.)</text>
</svg>
</body></html>
